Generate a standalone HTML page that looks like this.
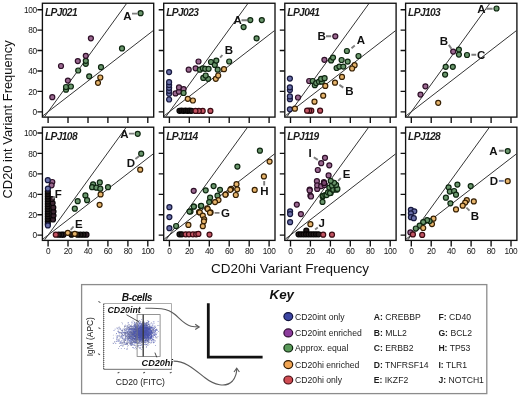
<!DOCTYPE html>
<html><head><meta charset="utf-8"><style>html,body{margin:0;padding:0;background:#fff;width:520px;height:407px;overflow:hidden}</style></head><body>
<svg width="520" height="407" viewBox="0 0 520 407" style="display:block;will-change:transform">
<rect width="520" height="407" fill="#fff"/>
<defs>
<clipPath id="c00"><rect x="43.0" y="3.9" width="110.1" height="112.6"/></clipPath>
<clipPath id="c01"><rect x="164.3" y="3.9" width="110.1" height="112.6"/></clipPath>
<clipPath id="c02"><rect x="285.4" y="3.9" width="110.1" height="112.6"/></clipPath>
<clipPath id="c03"><rect x="406.2" y="3.9" width="110.1" height="112.6"/></clipPath>
<clipPath id="c10"><rect x="43.0" y="127.8" width="110.1" height="112.0"/></clipPath>
<clipPath id="c11"><rect x="164.3" y="127.8" width="110.1" height="112.0"/></clipPath>
<clipPath id="c12"><rect x="285.4" y="127.8" width="110.1" height="112.0"/></clipPath>
<clipPath id="c13"><rect x="406.2" y="127.8" width="110.1" height="112.0"/></clipPath>
</defs>
<g clip-path="url(#c00)" stroke="#2a2a2a" stroke-width="0.95" fill="none"><path d="M28.1 139.4L168.1 -53.8M28.1 127.2L178.1 11.4"/></g>
<path d="M37.4 111.8H42.4M48.1 117.1V123.1M37.4 91.4H42.4M68.0 117.1V123.1M37.4 71.0H42.4M88.0 117.1V123.1M37.4 50.5H42.4M107.9 117.1V123.1M37.4 30.1H42.4M127.9 117.1V123.1M37.4 9.7H42.4M147.8 117.1V123.1" stroke="#111" stroke-width="1.35" fill="none"/>
<rect x="42.4" y="3.25" width="111.3" height="113.85" fill="none" stroke="#111" stroke-width="1.35"/>
<text x="44.9" y="16.4" font-family='"Liberation Sans", sans-serif' font-weight="bold" font-style="italic" font-size="10.2" letter-spacing="-0.6" fill="#1a1a1a">LPJ021</text>
<text x="36.7" y="115.0" text-anchor="end" font-family='"Liberation Sans", sans-serif' font-size="8.3" letter-spacing="-0.35" fill="#151515">0</text>
<text x="36.7" y="94.6" text-anchor="end" font-family='"Liberation Sans", sans-serif' font-size="8.3" letter-spacing="-0.35" fill="#151515">20</text>
<text x="36.7" y="74.2" text-anchor="end" font-family='"Liberation Sans", sans-serif' font-size="8.3" letter-spacing="-0.35" fill="#151515">40</text>
<text x="36.7" y="53.7" text-anchor="end" font-family='"Liberation Sans", sans-serif' font-size="8.3" letter-spacing="-0.35" fill="#151515">60</text>
<text x="36.7" y="33.3" text-anchor="end" font-family='"Liberation Sans", sans-serif' font-size="8.3" letter-spacing="-0.35" fill="#151515">80</text>
<text x="36.7" y="12.9" text-anchor="end" font-family='"Liberation Sans", sans-serif' font-size="8.3" letter-spacing="-0.35" fill="#151515">100</text>
<g clip-path="url(#c01)" stroke="#2a2a2a" stroke-width="0.95" fill="none"><path d="M149.4 139.4L289.4 -53.8M149.4 127.2L299.4 11.4"/></g>
<path d="M158.7 111.8H163.7M169.4 117.1V123.1M158.7 91.4H163.7M189.3 117.1V123.1M158.7 71.0H163.7M209.3 117.1V123.1M158.7 50.5H163.7M229.2 117.1V123.1M158.7 30.1H163.7M249.2 117.1V123.1M158.7 9.7H163.7M269.1 117.1V123.1" stroke="#111" stroke-width="1.35" fill="none"/>
<rect x="163.7" y="3.25" width="111.3" height="113.85" fill="none" stroke="#111" stroke-width="1.35"/>
<text x="166.2" y="16.4" font-family='"Liberation Sans", sans-serif' font-weight="bold" font-style="italic" font-size="10.2" letter-spacing="-0.6" fill="#1a1a1a">LPJ023</text>
<g clip-path="url(#c02)" stroke="#2a2a2a" stroke-width="0.95" fill="none"><path d="M270.5 139.4L410.5 -53.8M270.5 127.2L420.5 11.4"/></g>
<path d="M279.8 111.8H284.8M290.5 117.1V123.1M279.8 91.4H284.8M310.4 117.1V123.1M279.8 71.0H284.8M330.4 117.1V123.1M279.8 50.5H284.8M350.3 117.1V123.1M279.8 30.1H284.8M370.3 117.1V123.1M279.8 9.7H284.8M390.2 117.1V123.1" stroke="#111" stroke-width="1.35" fill="none"/>
<rect x="284.8" y="3.25" width="111.3" height="113.85" fill="none" stroke="#111" stroke-width="1.35"/>
<text x="287.3" y="16.4" font-family='"Liberation Sans", sans-serif' font-weight="bold" font-style="italic" font-size="10.2" letter-spacing="-0.6" fill="#1a1a1a">LPJ041</text>
<g clip-path="url(#c03)" stroke="#2a2a2a" stroke-width="0.95" fill="none"><path d="M391.3 139.4L531.3 -53.8M391.3 127.2L541.3 11.4"/></g>
<path d="M400.6 111.8H405.6M411.3 117.1V123.1M400.6 91.4H405.6M431.2 117.1V123.1M400.6 71.0H405.6M451.2 117.1V123.1M400.6 50.5H405.6M471.1 117.1V123.1M400.6 30.1H405.6M491.1 117.1V123.1M400.6 9.7H405.6M511.0 117.1V123.1" stroke="#111" stroke-width="1.35" fill="none"/>
<rect x="405.6" y="3.25" width="111.3" height="113.85" fill="none" stroke="#111" stroke-width="1.35"/>
<text x="408.1" y="16.4" font-family='"Liberation Sans", sans-serif' font-weight="bold" font-style="italic" font-size="10.2" letter-spacing="-0.6" fill="#1a1a1a">LPJ103</text>
<g clip-path="url(#c10)" stroke="#2a2a2a" stroke-width="0.95" fill="none"><path d="M28.1 262.7L168.1 69.5M28.1 250.5L178.1 134.7"/></g>
<path d="M37.4 235.1H42.4M48.1 240.4V246.4M37.4 214.7H42.4M68.0 240.4V246.4M37.4 194.3H42.4M88.0 240.4V246.4M37.4 173.8H42.4M107.9 240.4V246.4M37.4 153.4H42.4M127.9 240.4V246.4M37.4 133.0H42.4M147.8 240.4V246.4" stroke="#111" stroke-width="1.35" fill="none"/>
<rect x="42.4" y="127.2" width="111.3" height="113.2" fill="none" stroke="#111" stroke-width="1.35"/>
<text x="44.9" y="140.4" font-family='"Liberation Sans", sans-serif' font-weight="bold" font-style="italic" font-size="10.2" letter-spacing="-0.6" fill="#1a1a1a">LPJ108</text>
<text x="36.7" y="238.3" text-anchor="end" font-family='"Liberation Sans", sans-serif' font-size="8.3" letter-spacing="-0.35" fill="#151515">0</text>
<text x="36.7" y="217.9" text-anchor="end" font-family='"Liberation Sans", sans-serif' font-size="8.3" letter-spacing="-0.35" fill="#151515">20</text>
<text x="36.7" y="197.5" text-anchor="end" font-family='"Liberation Sans", sans-serif' font-size="8.3" letter-spacing="-0.35" fill="#151515">40</text>
<text x="36.7" y="177.0" text-anchor="end" font-family='"Liberation Sans", sans-serif' font-size="8.3" letter-spacing="-0.35" fill="#151515">60</text>
<text x="36.7" y="156.6" text-anchor="end" font-family='"Liberation Sans", sans-serif' font-size="8.3" letter-spacing="-0.35" fill="#151515">80</text>
<text x="36.7" y="136.2" text-anchor="end" font-family='"Liberation Sans", sans-serif' font-size="8.3" letter-spacing="-0.35" fill="#151515">100</text>
<text x="48.1" y="254.3" text-anchor="middle" font-family='"Liberation Sans", sans-serif' font-size="8.3" letter-spacing="-0.35" fill="#151515">0</text>
<text x="68.0" y="254.3" text-anchor="middle" font-family='"Liberation Sans", sans-serif' font-size="8.3" letter-spacing="-0.35" fill="#151515">20</text>
<text x="88.0" y="254.3" text-anchor="middle" font-family='"Liberation Sans", sans-serif' font-size="8.3" letter-spacing="-0.35" fill="#151515">40</text>
<text x="107.9" y="254.3" text-anchor="middle" font-family='"Liberation Sans", sans-serif' font-size="8.3" letter-spacing="-0.35" fill="#151515">60</text>
<text x="127.9" y="254.3" text-anchor="middle" font-family='"Liberation Sans", sans-serif' font-size="8.3" letter-spacing="-0.35" fill="#151515">80</text>
<text x="147.8" y="254.3" text-anchor="middle" font-family='"Liberation Sans", sans-serif' font-size="8.3" letter-spacing="-0.35" fill="#151515">100</text>
<g clip-path="url(#c11)" stroke="#2a2a2a" stroke-width="0.95" fill="none"><path d="M149.4 262.7L289.4 69.5M149.4 250.5L299.4 134.7"/></g>
<path d="M158.7 235.1H163.7M169.4 240.4V246.4M158.7 214.7H163.7M189.3 240.4V246.4M158.7 194.3H163.7M209.3 240.4V246.4M158.7 173.8H163.7M229.2 240.4V246.4M158.7 153.4H163.7M249.2 240.4V246.4M158.7 133.0H163.7M269.1 240.4V246.4" stroke="#111" stroke-width="1.35" fill="none"/>
<rect x="163.7" y="127.2" width="111.3" height="113.2" fill="none" stroke="#111" stroke-width="1.35"/>
<text x="166.2" y="140.4" font-family='"Liberation Sans", sans-serif' font-weight="bold" font-style="italic" font-size="10.2" letter-spacing="-0.6" fill="#1a1a1a">LPJ114</text>
<text x="169.4" y="254.3" text-anchor="middle" font-family='"Liberation Sans", sans-serif' font-size="8.3" letter-spacing="-0.35" fill="#151515">0</text>
<text x="189.3" y="254.3" text-anchor="middle" font-family='"Liberation Sans", sans-serif' font-size="8.3" letter-spacing="-0.35" fill="#151515">20</text>
<text x="209.3" y="254.3" text-anchor="middle" font-family='"Liberation Sans", sans-serif' font-size="8.3" letter-spacing="-0.35" fill="#151515">40</text>
<text x="229.2" y="254.3" text-anchor="middle" font-family='"Liberation Sans", sans-serif' font-size="8.3" letter-spacing="-0.35" fill="#151515">60</text>
<text x="249.2" y="254.3" text-anchor="middle" font-family='"Liberation Sans", sans-serif' font-size="8.3" letter-spacing="-0.35" fill="#151515">80</text>
<text x="269.1" y="254.3" text-anchor="middle" font-family='"Liberation Sans", sans-serif' font-size="8.3" letter-spacing="-0.35" fill="#151515">100</text>
<g clip-path="url(#c12)" stroke="#2a2a2a" stroke-width="0.95" fill="none"><path d="M270.5 262.7L410.5 69.5M270.5 250.5L420.5 134.7"/></g>
<path d="M279.8 235.1H284.8M290.5 240.4V246.4M279.8 214.7H284.8M310.4 240.4V246.4M279.8 194.3H284.8M330.4 240.4V246.4M279.8 173.8H284.8M350.3 240.4V246.4M279.8 153.4H284.8M370.3 240.4V246.4M279.8 133.0H284.8M390.2 240.4V246.4" stroke="#111" stroke-width="1.35" fill="none"/>
<rect x="284.8" y="127.2" width="111.3" height="113.2" fill="none" stroke="#111" stroke-width="1.35"/>
<text x="287.3" y="140.4" font-family='"Liberation Sans", sans-serif' font-weight="bold" font-style="italic" font-size="10.2" letter-spacing="-0.6" fill="#1a1a1a">LPJ119</text>
<text x="290.5" y="254.3" text-anchor="middle" font-family='"Liberation Sans", sans-serif' font-size="8.3" letter-spacing="-0.35" fill="#151515">0</text>
<text x="310.4" y="254.3" text-anchor="middle" font-family='"Liberation Sans", sans-serif' font-size="8.3" letter-spacing="-0.35" fill="#151515">20</text>
<text x="330.4" y="254.3" text-anchor="middle" font-family='"Liberation Sans", sans-serif' font-size="8.3" letter-spacing="-0.35" fill="#151515">40</text>
<text x="350.3" y="254.3" text-anchor="middle" font-family='"Liberation Sans", sans-serif' font-size="8.3" letter-spacing="-0.35" fill="#151515">60</text>
<text x="370.3" y="254.3" text-anchor="middle" font-family='"Liberation Sans", sans-serif' font-size="8.3" letter-spacing="-0.35" fill="#151515">80</text>
<text x="390.2" y="254.3" text-anchor="middle" font-family='"Liberation Sans", sans-serif' font-size="8.3" letter-spacing="-0.35" fill="#151515">100</text>
<g clip-path="url(#c13)" stroke="#2a2a2a" stroke-width="0.95" fill="none"><path d="M391.3 262.7L531.3 69.5M391.3 250.5L541.3 134.7"/></g>
<path d="M400.6 235.1H405.6M411.3 240.4V246.4M400.6 214.7H405.6M431.2 240.4V246.4M400.6 194.3H405.6M451.2 240.4V246.4M400.6 173.8H405.6M471.1 240.4V246.4M400.6 153.4H405.6M491.1 240.4V246.4M400.6 133.0H405.6M511.0 240.4V246.4" stroke="#111" stroke-width="1.35" fill="none"/>
<rect x="405.6" y="127.2" width="111.3" height="113.2" fill="none" stroke="#111" stroke-width="1.35"/>
<text x="408.1" y="140.4" font-family='"Liberation Sans", sans-serif' font-weight="bold" font-style="italic" font-size="10.2" letter-spacing="-0.6" fill="#1a1a1a">LPJ128</text>
<text x="411.3" y="254.3" text-anchor="middle" font-family='"Liberation Sans", sans-serif' font-size="8.3" letter-spacing="-0.35" fill="#151515">0</text>
<text x="431.2" y="254.3" text-anchor="middle" font-family='"Liberation Sans", sans-serif' font-size="8.3" letter-spacing="-0.35" fill="#151515">20</text>
<text x="451.2" y="254.3" text-anchor="middle" font-family='"Liberation Sans", sans-serif' font-size="8.3" letter-spacing="-0.35" fill="#151515">40</text>
<text x="471.1" y="254.3" text-anchor="middle" font-family='"Liberation Sans", sans-serif' font-size="8.3" letter-spacing="-0.35" fill="#151515">60</text>
<text x="491.1" y="254.3" text-anchor="middle" font-family='"Liberation Sans", sans-serif' font-size="8.3" letter-spacing="-0.35" fill="#151515">80</text>
<text x="511.0" y="254.3" text-anchor="middle" font-family='"Liberation Sans", sans-serif' font-size="8.3" letter-spacing="-0.35" fill="#151515">100</text>
<circle cx="140.6" cy="13.2" r="2.5" fill="#6a966c" stroke="#0e2610" stroke-width="1.2"/>
<circle cx="90.9" cy="38.3" r="2.5" fill="#9a6890" stroke="#2e1028" stroke-width="1.2"/>
<circle cx="122.0" cy="48.4" r="2.5" fill="#6a966c" stroke="#0e2610" stroke-width="1.2"/>
<circle cx="85.8" cy="63.8" r="2.5" fill="#6a966c" stroke="#0e2610" stroke-width="1.2"/>
<circle cx="85.8" cy="60.8" r="2.5" fill="#6a966c" stroke="#0e2610" stroke-width="1.2"/>
<circle cx="85.8" cy="55.8" r="2.5" fill="#9a6890" stroke="#2e1028" stroke-width="1.2"/>
<circle cx="77.8" cy="61.1" r="2.5" fill="#9a6890" stroke="#2e1028" stroke-width="1.2"/>
<circle cx="61.0" cy="66.0" r="2.5" fill="#9a6890" stroke="#2e1028" stroke-width="1.2"/>
<circle cx="78.2" cy="70.5" r="2.5" fill="#6a966c" stroke="#0e2610" stroke-width="1.2"/>
<circle cx="101.0" cy="67.2" r="2.5" fill="#6a966c" stroke="#0e2610" stroke-width="1.2"/>
<circle cx="89.2" cy="76.3" r="2.5" fill="#6a966c" stroke="#0e2610" stroke-width="1.2"/>
<circle cx="100.3" cy="77.5" r="2.5" fill="#e6b46c" stroke="#362004" stroke-width="1.2"/>
<circle cx="98.0" cy="82.8" r="2.5" fill="#e6b46c" stroke="#362004" stroke-width="1.2"/>
<circle cx="67.9" cy="80.6" r="2.5" fill="#9a6890" stroke="#2e1028" stroke-width="1.2"/>
<circle cx="66.0" cy="89.7" r="2.5" fill="#6a966c" stroke="#0e2610" stroke-width="1.2"/>
<circle cx="66.0" cy="87.0" r="2.5" fill="#6a966c" stroke="#0e2610" stroke-width="1.2"/>
<circle cx="70.9" cy="86.5" r="2.5" fill="#6a966c" stroke="#0e2610" stroke-width="1.2"/>
<circle cx="52.3" cy="97.2" r="2.5" fill="#9a6890" stroke="#2e1028" stroke-width="1.2"/>
<circle cx="250.3" cy="20.1" r="2.5" fill="#6a966c" stroke="#0e2610" stroke-width="1.2"/>
<circle cx="261.8" cy="20.1" r="2.5" fill="#6a966c" stroke="#0e2610" stroke-width="1.2"/>
<circle cx="243.6" cy="27.1" r="2.5" fill="#6a966c" stroke="#0e2610" stroke-width="1.2"/>
<circle cx="256.6" cy="38.3" r="2.5" fill="#6a966c" stroke="#0e2610" stroke-width="1.2"/>
<circle cx="198.5" cy="61.5" r="2.5" fill="#9a6890" stroke="#2e1028" stroke-width="1.2"/>
<circle cx="188.7" cy="69.7" r="2.5" fill="#9a6890" stroke="#2e1028" stroke-width="1.2"/>
<circle cx="195.6" cy="68.3" r="2.5" fill="#9a6890" stroke="#2e1028" stroke-width="1.2"/>
<circle cx="199.9" cy="69.7" r="2.5" fill="#6a966c" stroke="#0e2610" stroke-width="1.2"/>
<circle cx="202.8" cy="68.3" r="2.5" fill="#6a966c" stroke="#0e2610" stroke-width="1.2"/>
<circle cx="205.2" cy="68.8" r="2.5" fill="#6a966c" stroke="#0e2610" stroke-width="1.2"/>
<circle cx="208.6" cy="68.8" r="2.5" fill="#6a966c" stroke="#0e2610" stroke-width="1.2"/>
<circle cx="211.0" cy="62.0" r="2.5" fill="#6a966c" stroke="#0e2610" stroke-width="1.2"/>
<circle cx="214.8" cy="64.9" r="2.5" fill="#6a966c" stroke="#0e2610" stroke-width="1.2"/>
<circle cx="216.3" cy="60.6" r="2.5" fill="#6a966c" stroke="#0e2610" stroke-width="1.2"/>
<circle cx="217.7" cy="69.7" r="2.5" fill="#6a966c" stroke="#0e2610" stroke-width="1.2"/>
<circle cx="229.2" cy="61.5" r="2.5" fill="#6a966c" stroke="#0e2610" stroke-width="1.2"/>
<circle cx="224.0" cy="69.2" r="2.5" fill="#e6b46c" stroke="#362004" stroke-width="1.2"/>
<circle cx="215.8" cy="78.8" r="2.5" fill="#e6b46c" stroke="#362004" stroke-width="1.2"/>
<circle cx="218.2" cy="75.5" r="2.5" fill="#e6b46c" stroke="#362004" stroke-width="1.2"/>
<circle cx="208.1" cy="78.8" r="2.5" fill="#6a966c" stroke="#0e2610" stroke-width="1.2"/>
<circle cx="203.3" cy="77.9" r="2.5" fill="#6a966c" stroke="#0e2610" stroke-width="1.2"/>
<circle cx="205.7" cy="75.5" r="2.5" fill="#6a966c" stroke="#0e2610" stroke-width="1.2"/>
<circle cx="169.1" cy="72.1" r="2.5" fill="#6a70a8" stroke="#16183e" stroke-width="1.2"/>
<circle cx="169.1" cy="99.5" r="2.5" fill="#6a70a8" stroke="#16183e" stroke-width="1.2"/>
<circle cx="169.1" cy="93.8" r="2.5" fill="#6a70a8" stroke="#16183e" stroke-width="1.2"/>
<circle cx="169.1" cy="90.8" r="2.5" fill="#6a70a8" stroke="#16183e" stroke-width="1.2"/>
<circle cx="169.1" cy="87.8" r="2.5" fill="#6a70a8" stroke="#16183e" stroke-width="1.2"/>
<circle cx="169.1" cy="85.0" r="2.5" fill="#6a70a8" stroke="#16183e" stroke-width="1.2"/>
<circle cx="169.1" cy="82.2" r="2.5" fill="#6a70a8" stroke="#16183e" stroke-width="1.2"/>
<circle cx="175.5" cy="93.4" r="2.5" fill="#9a6890" stroke="#2e1028" stroke-width="1.2"/>
<circle cx="178.9" cy="91.7" r="2.5" fill="#9a6890" stroke="#2e1028" stroke-width="1.2"/>
<circle cx="179.0" cy="87.4" r="2.5" fill="#9a6890" stroke="#2e1028" stroke-width="1.2"/>
<circle cx="183.6" cy="89.1" r="2.5" fill="#9a6890" stroke="#2e1028" stroke-width="1.2"/>
<circle cx="183.6" cy="93.0" r="2.5" fill="#6a966c" stroke="#0e2610" stroke-width="1.2"/>
<circle cx="187.8" cy="98.8" r="2.5" fill="#e6b46c" stroke="#362004" stroke-width="1.2"/>
<circle cx="192.9" cy="100.5" r="2.5" fill="#e6b46c" stroke="#362004" stroke-width="1.2"/>
<circle cx="179.5" cy="110.8" r="2.5" fill="#241c1c" stroke="#060404" stroke-width="1.2"/>
<circle cx="181.5" cy="110.6" r="2.5" fill="#241c1c" stroke="#060404" stroke-width="1.2"/>
<circle cx="183.5" cy="110.8" r="2.5" fill="#241c1c" stroke="#060404" stroke-width="1.2"/>
<circle cx="185.5" cy="110.6" r="2.5" fill="#241c1c" stroke="#060404" stroke-width="1.2"/>
<circle cx="187.5" cy="110.8" r="2.5" fill="#241c1c" stroke="#060404" stroke-width="1.2"/>
<circle cx="189.5" cy="110.7" r="2.5" fill="#241c1c" stroke="#060404" stroke-width="1.2"/>
<circle cx="191.5" cy="110.8" r="2.5" fill="#241c1c" stroke="#060404" stroke-width="1.2"/>
<circle cx="210.4" cy="110.9" r="2.5" fill="#c25462" stroke="#3a0a12" stroke-width="1.2"/>
<circle cx="202.7" cy="110.9" r="2.5" fill="#c25462" stroke="#3a0a12" stroke-width="1.2"/>
<circle cx="198.8" cy="110.9" r="2.5" fill="#c25462" stroke="#3a0a12" stroke-width="1.2"/>
<circle cx="195.5" cy="110.9" r="2.5" fill="#c25462" stroke="#3a0a12" stroke-width="1.2"/>
<circle cx="335.3" cy="36.3" r="2.5" fill="#9a6890" stroke="#2e1028" stroke-width="1.2"/>
<circle cx="346.9" cy="51.0" r="2.5" fill="#6a966c" stroke="#0e2610" stroke-width="1.2"/>
<circle cx="358.5" cy="56.0" r="2.5" fill="#6a966c" stroke="#0e2610" stroke-width="1.2"/>
<circle cx="324.4" cy="59.8" r="2.5" fill="#9a6890" stroke="#2e1028" stroke-width="1.2"/>
<circle cx="331.1" cy="60.4" r="2.5" fill="#6a966c" stroke="#0e2610" stroke-width="1.2"/>
<circle cx="333.0" cy="57.6" r="2.5" fill="#6a966c" stroke="#0e2610" stroke-width="1.2"/>
<circle cx="341.6" cy="60.0" r="2.5" fill="#6a966c" stroke="#0e2610" stroke-width="1.2"/>
<circle cx="347.7" cy="61.6" r="2.5" fill="#6a966c" stroke="#0e2610" stroke-width="1.2"/>
<circle cx="336.6" cy="68.0" r="2.5" fill="#6a966c" stroke="#0e2610" stroke-width="1.2"/>
<circle cx="339.4" cy="66.6" r="2.5" fill="#6a966c" stroke="#0e2610" stroke-width="1.2"/>
<circle cx="343.3" cy="66.6" r="2.5" fill="#6a966c" stroke="#0e2610" stroke-width="1.2"/>
<circle cx="354.6" cy="65.2" r="2.5" fill="#e6b46c" stroke="#362004" stroke-width="1.2"/>
<circle cx="352.1" cy="68.5" r="2.5" fill="#e6b46c" stroke="#362004" stroke-width="1.2"/>
<circle cx="342.0" cy="76.9" r="2.5" fill="#e6b46c" stroke="#362004" stroke-width="1.2"/>
<circle cx="335.0" cy="82.7" r="2.5" fill="#e6b46c" stroke="#362004" stroke-width="1.2"/>
<circle cx="289.9" cy="109.3" r="2.5" fill="#6a70a8" stroke="#16183e" stroke-width="1.2"/>
<circle cx="289.9" cy="99.2" r="2.5" fill="#6a70a8" stroke="#16183e" stroke-width="1.2"/>
<circle cx="289.9" cy="96.4" r="2.5" fill="#6a70a8" stroke="#16183e" stroke-width="1.2"/>
<circle cx="289.9" cy="90.1" r="2.5" fill="#6a70a8" stroke="#16183e" stroke-width="1.2"/>
<circle cx="289.9" cy="87.3" r="2.5" fill="#6a70a8" stroke="#16183e" stroke-width="1.2"/>
<circle cx="289.9" cy="78.6" r="2.5" fill="#6a70a8" stroke="#16183e" stroke-width="1.2"/>
<circle cx="298.0" cy="97.5" r="2.5" fill="#9a6890" stroke="#2e1028" stroke-width="1.2"/>
<circle cx="309.2" cy="81.0" r="2.5" fill="#9a6890" stroke="#2e1028" stroke-width="1.2"/>
<circle cx="312.7" cy="81.0" r="2.5" fill="#6a966c" stroke="#0e2610" stroke-width="1.2"/>
<circle cx="314.8" cy="85.2" r="2.5" fill="#6a966c" stroke="#0e2610" stroke-width="1.2"/>
<circle cx="316.2" cy="83.1" r="2.5" fill="#6a966c" stroke="#0e2610" stroke-width="1.2"/>
<circle cx="319.0" cy="81.7" r="2.5" fill="#6a966c" stroke="#0e2610" stroke-width="1.2"/>
<circle cx="321.8" cy="81.7" r="2.5" fill="#6a966c" stroke="#0e2610" stroke-width="1.2"/>
<circle cx="321.1" cy="78.9" r="2.5" fill="#6a966c" stroke="#0e2610" stroke-width="1.2"/>
<circle cx="324.6" cy="78.2" r="2.5" fill="#6a966c" stroke="#0e2610" stroke-width="1.2"/>
<circle cx="325.3" cy="85.9" r="2.5" fill="#e6b46c" stroke="#362004" stroke-width="1.2"/>
<circle cx="323.2" cy="95.7" r="2.5" fill="#e6b46c" stroke="#362004" stroke-width="1.2"/>
<circle cx="314.5" cy="101.7" r="2.5" fill="#e6b46c" stroke="#362004" stroke-width="1.2"/>
<circle cx="294.9" cy="108.7" r="2.5" fill="#e6b46c" stroke="#362004" stroke-width="1.2"/>
<circle cx="320.1" cy="110.7" r="2.5" fill="#c25462" stroke="#3a0a12" stroke-width="1.2"/>
<circle cx="311.3" cy="110.7" r="2.5" fill="#c25462" stroke="#3a0a12" stroke-width="1.2"/>
<circle cx="309.2" cy="110.7" r="2.5" fill="#c25462" stroke="#3a0a12" stroke-width="1.2"/>
<circle cx="307.1" cy="110.7" r="2.5" fill="#c25462" stroke="#3a0a12" stroke-width="1.2"/>
<circle cx="496.5" cy="8.5" r="2.5" fill="#6a966c" stroke="#0e2610" stroke-width="1.2"/>
<circle cx="453.2" cy="51.6" r="2.5" fill="#9a6890" stroke="#2e1028" stroke-width="1.2"/>
<circle cx="458.9" cy="49.6" r="2.5" fill="#6a966c" stroke="#0e2610" stroke-width="1.2"/>
<circle cx="458.9" cy="54.6" r="2.5" fill="#6a966c" stroke="#0e2610" stroke-width="1.2"/>
<circle cx="467.0" cy="55.0" r="2.5" fill="#6a966c" stroke="#0e2610" stroke-width="1.2"/>
<circle cx="445.7" cy="66.8" r="2.5" fill="#6a966c" stroke="#0e2610" stroke-width="1.2"/>
<circle cx="452.8" cy="66.8" r="2.5" fill="#6a966c" stroke="#0e2610" stroke-width="1.2"/>
<circle cx="445.1" cy="74.6" r="2.5" fill="#6a966c" stroke="#0e2610" stroke-width="1.2"/>
<circle cx="425.4" cy="86.3" r="2.5" fill="#9a6890" stroke="#2e1028" stroke-width="1.2"/>
<circle cx="420.5" cy="94.6" r="2.5" fill="#9a6890" stroke="#2e1028" stroke-width="1.2"/>
<circle cx="438.2" cy="102.8" r="2.5" fill="#e6b46c" stroke="#362004" stroke-width="1.2"/>
<circle cx="137.7" cy="133.8" r="2.5" fill="#6a966c" stroke="#0e2610" stroke-width="1.2"/>
<circle cx="141.2" cy="153.7" r="2.5" fill="#6a966c" stroke="#0e2610" stroke-width="1.2"/>
<circle cx="140.2" cy="169.7" r="2.5" fill="#e6b46c" stroke="#362004" stroke-width="1.2"/>
<circle cx="99.8" cy="182.4" r="2.5" fill="#6a966c" stroke="#0e2610" stroke-width="1.2"/>
<circle cx="93.1" cy="184.3" r="2.5" fill="#6a966c" stroke="#0e2610" stroke-width="1.2"/>
<circle cx="92.1" cy="187.2" r="2.5" fill="#6a966c" stroke="#0e2610" stroke-width="1.2"/>
<circle cx="96.4" cy="187.7" r="2.5" fill="#6a966c" stroke="#0e2610" stroke-width="1.2"/>
<circle cx="100.3" cy="188.7" r="2.5" fill="#6a966c" stroke="#0e2610" stroke-width="1.2"/>
<circle cx="108.0" cy="187.2" r="2.5" fill="#6a966c" stroke="#0e2610" stroke-width="1.2"/>
<circle cx="100.6" cy="194.4" r="2.5" fill="#e6b46c" stroke="#362004" stroke-width="1.2"/>
<circle cx="99.6" cy="204.8" r="2.5" fill="#e6b46c" stroke="#362004" stroke-width="1.2"/>
<circle cx="85.4" cy="195.4" r="2.5" fill="#6a966c" stroke="#0e2610" stroke-width="1.2"/>
<circle cx="87.1" cy="200.2" r="2.5" fill="#6a966c" stroke="#0e2610" stroke-width="1.2"/>
<circle cx="77.7" cy="201.2" r="2.5" fill="#6a966c" stroke="#0e2610" stroke-width="1.2"/>
<circle cx="74.8" cy="208.7" r="2.5" fill="#6a966c" stroke="#0e2610" stroke-width="1.2"/>
<circle cx="53.0" cy="219.5" r="2.5" fill="#3c2632" stroke="#0a0408" stroke-width="1.2"/>
<circle cx="53.5" cy="215.5" r="2.5" fill="#3c2632" stroke="#0a0408" stroke-width="1.2"/>
<circle cx="53.5" cy="211.5" r="2.5" fill="#3c2632" stroke="#0a0408" stroke-width="1.2"/>
<circle cx="53.3" cy="207.5" r="2.5" fill="#3c2632" stroke="#0a0408" stroke-width="1.2"/>
<circle cx="52.6" cy="203.0" r="2.5" fill="#3c2632" stroke="#0a0408" stroke-width="1.2"/>
<circle cx="51.8" cy="199.0" r="2.5" fill="#3c2632" stroke="#0a0408" stroke-width="1.2"/>
<circle cx="52.3" cy="182.0" r="2.5" fill="#9a6890" stroke="#2e1028" stroke-width="1.2"/>
<circle cx="51.6" cy="185.3" r="2.5" fill="#9a6890" stroke="#2e1028" stroke-width="1.2"/>
<circle cx="47.8" cy="180.2" r="2.5" fill="#6a70a8" stroke="#16183e" stroke-width="1.2"/>
<circle cx="47.8" cy="224.0" r="2.5" fill="#241c1c" stroke="#060404" stroke-width="1.2"/>
<circle cx="47.8" cy="221.5" r="2.5" fill="#241c1c" stroke="#060404" stroke-width="1.2"/>
<circle cx="47.8" cy="219.0" r="2.5" fill="#241c1c" stroke="#060404" stroke-width="1.2"/>
<circle cx="47.8" cy="216.5" r="2.5" fill="#241c1c" stroke="#060404" stroke-width="1.2"/>
<circle cx="47.8" cy="214.0" r="2.5" fill="#241c1c" stroke="#060404" stroke-width="1.2"/>
<circle cx="47.8" cy="211.5" r="2.5" fill="#241c1c" stroke="#060404" stroke-width="1.2"/>
<circle cx="47.8" cy="209.0" r="2.5" fill="#241c1c" stroke="#060404" stroke-width="1.2"/>
<circle cx="47.8" cy="206.5" r="2.5" fill="#241c1c" stroke="#060404" stroke-width="1.2"/>
<circle cx="47.8" cy="204.0" r="2.5" fill="#241c1c" stroke="#060404" stroke-width="1.2"/>
<circle cx="47.8" cy="201.5" r="2.5" fill="#241c1c" stroke="#060404" stroke-width="1.2"/>
<circle cx="47.8" cy="199.0" r="2.5" fill="#241c1c" stroke="#060404" stroke-width="1.2"/>
<circle cx="47.8" cy="196.5" r="2.5" fill="#241c1c" stroke="#060404" stroke-width="1.2"/>
<circle cx="47.8" cy="194.0" r="2.5" fill="#241c1c" stroke="#060404" stroke-width="1.2"/>
<circle cx="47.8" cy="191.5" r="2.5" fill="#241c1c" stroke="#060404" stroke-width="1.2"/>
<circle cx="47.9" cy="188.6" r="2.5" fill="#6a70a8" stroke="#16183e" stroke-width="1.2"/>
<circle cx="47.9" cy="225.4" r="2.5" fill="#6a70a8" stroke="#16183e" stroke-width="1.2"/>
<circle cx="86.5" cy="234.7" r="2.5" fill="#3c2632" stroke="#0a0408" stroke-width="1.2"/>
<circle cx="83.5" cy="234.7" r="2.5" fill="#241c1c" stroke="#060404" stroke-width="1.2"/>
<circle cx="80.5" cy="234.7" r="2.5" fill="#241c1c" stroke="#060404" stroke-width="1.2"/>
<circle cx="77.5" cy="234.7" r="2.5" fill="#241c1c" stroke="#060404" stroke-width="1.2"/>
<circle cx="71.5" cy="234.7" r="2.5" fill="#241c1c" stroke="#060404" stroke-width="1.2"/>
<circle cx="63.5" cy="234.7" r="2.5" fill="#3c2632" stroke="#0a0408" stroke-width="1.2"/>
<circle cx="61.5" cy="234.7" r="2.5" fill="#241c1c" stroke="#060404" stroke-width="1.2"/>
<circle cx="58.8" cy="234.7" r="2.5" fill="#241c1c" stroke="#060404" stroke-width="1.2"/>
<circle cx="55.8" cy="234.7" r="2.5" fill="#c25462" stroke="#3a0a12" stroke-width="1.2"/>
<circle cx="74.8" cy="233.8" r="2.5" fill="#e6b46c" stroke="#362004" stroke-width="1.2"/>
<circle cx="67.8" cy="232.8" r="2.5" fill="#e6b46c" stroke="#362004" stroke-width="1.2"/>
<circle cx="259.9" cy="150.7" r="2.5" fill="#6a966c" stroke="#0e2610" stroke-width="1.2"/>
<circle cx="237.4" cy="166.6" r="2.5" fill="#6a966c" stroke="#0e2610" stroke-width="1.2"/>
<circle cx="269.6" cy="161.6" r="2.5" fill="#e6b46c" stroke="#362004" stroke-width="1.2"/>
<circle cx="263.9" cy="176.4" r="2.5" fill="#e6b46c" stroke="#362004" stroke-width="1.2"/>
<circle cx="254.7" cy="189.9" r="2.5" fill="#e6b46c" stroke="#362004" stroke-width="1.2"/>
<circle cx="236.5" cy="184.2" r="2.5" fill="#e6b46c" stroke="#362004" stroke-width="1.2"/>
<circle cx="231.1" cy="188.9" r="2.5" fill="#e6b46c" stroke="#362004" stroke-width="1.2"/>
<circle cx="237.2" cy="189.3" r="2.5" fill="#e6b46c" stroke="#362004" stroke-width="1.2"/>
<circle cx="235.8" cy="195.0" r="2.5" fill="#e6b46c" stroke="#362004" stroke-width="1.2"/>
<circle cx="225.7" cy="194.3" r="2.5" fill="#e6b46c" stroke="#362004" stroke-width="1.2"/>
<circle cx="225.4" cy="194.7" r="2.5" fill="#e6b46c" stroke="#362004" stroke-width="1.2"/>
<circle cx="230.3" cy="189.8" r="2.5" fill="#e6b46c" stroke="#362004" stroke-width="1.2"/>
<circle cx="193.7" cy="190.8" r="2.5" fill="#9a6890" stroke="#2e1028" stroke-width="1.2"/>
<circle cx="205.7" cy="190.3" r="2.5" fill="#6a966c" stroke="#0e2610" stroke-width="1.2"/>
<circle cx="213.6" cy="186.1" r="2.5" fill="#6a966c" stroke="#0e2610" stroke-width="1.2"/>
<circle cx="220.0" cy="189.8" r="2.5" fill="#6a966c" stroke="#0e2610" stroke-width="1.2"/>
<circle cx="217.5" cy="195.7" r="2.5" fill="#6a966c" stroke="#0e2610" stroke-width="1.2"/>
<circle cx="210.1" cy="197.7" r="2.5" fill="#6a966c" stroke="#0e2610" stroke-width="1.2"/>
<circle cx="209.2" cy="202.1" r="2.5" fill="#6a966c" stroke="#0e2610" stroke-width="1.2"/>
<circle cx="193.9" cy="206.5" r="2.5" fill="#6a966c" stroke="#0e2610" stroke-width="1.2"/>
<circle cx="200.8" cy="206.0" r="2.5" fill="#6a966c" stroke="#0e2610" stroke-width="1.2"/>
<circle cx="190.5" cy="211.4" r="2.5" fill="#6a966c" stroke="#0e2610" stroke-width="1.2"/>
<circle cx="189.5" cy="211.6" r="2.5" fill="#6a966c" stroke="#0e2610" stroke-width="1.2"/>
<circle cx="193.8" cy="206.6" r="2.5" fill="#6a966c" stroke="#0e2610" stroke-width="1.2"/>
<circle cx="201.2" cy="205.8" r="2.5" fill="#6a966c" stroke="#0e2610" stroke-width="1.2"/>
<circle cx="218.5" cy="200.1" r="2.5" fill="#e6b46c" stroke="#362004" stroke-width="1.2"/>
<circle cx="215.0" cy="202.1" r="2.5" fill="#e6b46c" stroke="#362004" stroke-width="1.2"/>
<circle cx="207.2" cy="208.3" r="2.5" fill="#e6b46c" stroke="#362004" stroke-width="1.2"/>
<circle cx="207.7" cy="209.0" r="2.5" fill="#e6b46c" stroke="#362004" stroke-width="1.2"/>
<circle cx="210.6" cy="212.4" r="2.5" fill="#e6b46c" stroke="#362004" stroke-width="1.2"/>
<circle cx="210.0" cy="212.7" r="2.5" fill="#e6b46c" stroke="#362004" stroke-width="1.2"/>
<circle cx="199.0" cy="212.1" r="2.5" fill="#e6b46c" stroke="#362004" stroke-width="1.2"/>
<circle cx="199.8" cy="212.4" r="2.5" fill="#e6b46c" stroke="#362004" stroke-width="1.2"/>
<circle cx="202.8" cy="215.6" r="2.5" fill="#e6b46c" stroke="#362004" stroke-width="1.2"/>
<circle cx="204.2" cy="219.3" r="2.5" fill="#e6b46c" stroke="#362004" stroke-width="1.2"/>
<circle cx="203.9" cy="221.3" r="2.5" fill="#e6b46c" stroke="#362004" stroke-width="1.2"/>
<circle cx="202.8" cy="226.2" r="2.5" fill="#e6b46c" stroke="#362004" stroke-width="1.2"/>
<circle cx="188.4" cy="224.9" r="2.5" fill="#e6b46c" stroke="#362004" stroke-width="1.2"/>
<circle cx="169.4" cy="207.2" r="2.5" fill="#6a70a8" stroke="#16183e" stroke-width="1.2"/>
<circle cx="169.4" cy="217.1" r="2.5" fill="#6a70a8" stroke="#16183e" stroke-width="1.2"/>
<circle cx="169.4" cy="228.2" r="2.5" fill="#6a70a8" stroke="#16183e" stroke-width="1.2"/>
<circle cx="176.1" cy="226.0" r="2.5" fill="#6a966c" stroke="#0e2610" stroke-width="1.2"/>
<circle cx="179.5" cy="234.3" r="2.5" fill="#241c1c" stroke="#060404" stroke-width="1.2"/>
<circle cx="181.8" cy="234.3" r="2.5" fill="#241c1c" stroke="#060404" stroke-width="1.2"/>
<circle cx="185.7" cy="234.3" r="2.5" fill="#c25462" stroke="#3a0a12" stroke-width="1.2"/>
<circle cx="189.0" cy="234.3" r="2.5" fill="#c25462" stroke="#3a0a12" stroke-width="1.2"/>
<circle cx="192.9" cy="234.3" r="2.5" fill="#c25462" stroke="#3a0a12" stroke-width="1.2"/>
<circle cx="196.2" cy="234.3" r="2.5" fill="#c25462" stroke="#3a0a12" stroke-width="1.2"/>
<circle cx="198.4" cy="233.9" r="2.5" fill="#c25462" stroke="#3a0a12" stroke-width="1.2"/>
<circle cx="209.5" cy="234.6" r="2.5" fill="#c25462" stroke="#3a0a12" stroke-width="1.2"/>
<circle cx="325.0" cy="157.8" r="2.5" fill="#9a6890" stroke="#2e1028" stroke-width="1.2"/>
<circle cx="321.2" cy="163.2" r="2.5" fill="#9a6890" stroke="#2e1028" stroke-width="1.2"/>
<circle cx="329.3" cy="165.3" r="2.5" fill="#9a6890" stroke="#2e1028" stroke-width="1.2"/>
<circle cx="317.8" cy="170.0" r="2.5" fill="#9a6890" stroke="#2e1028" stroke-width="1.2"/>
<circle cx="328.6" cy="175.4" r="2.5" fill="#9a6890" stroke="#2e1028" stroke-width="1.2"/>
<circle cx="316.9" cy="181.2" r="2.5" fill="#9a6890" stroke="#2e1028" stroke-width="1.2"/>
<circle cx="309.7" cy="189.6" r="2.5" fill="#9a6890" stroke="#2e1028" stroke-width="1.2"/>
<circle cx="310.4" cy="195.7" r="2.5" fill="#9a6890" stroke="#2e1028" stroke-width="1.2"/>
<circle cx="309.7" cy="190.4" r="2.5" fill="#9a6890" stroke="#2e1028" stroke-width="1.2"/>
<circle cx="311.0" cy="196.5" r="2.5" fill="#9a6890" stroke="#2e1028" stroke-width="1.2"/>
<circle cx="317.2" cy="188.9" r="2.5" fill="#9a6890" stroke="#2e1028" stroke-width="1.2"/>
<circle cx="317.2" cy="185.3" r="2.5" fill="#9a6890" stroke="#2e1028" stroke-width="1.2"/>
<circle cx="321.2" cy="186.2" r="2.5" fill="#9a6890" stroke="#2e1028" stroke-width="1.2"/>
<circle cx="324.6" cy="184.9" r="2.5" fill="#9a6890" stroke="#2e1028" stroke-width="1.2"/>
<circle cx="323.9" cy="182.2" r="2.5" fill="#9a6890" stroke="#2e1028" stroke-width="1.2"/>
<circle cx="324.2" cy="183.0" r="2.5" fill="#7a4670" stroke="#1e0818" stroke-width="1.2"/>
<circle cx="322.5" cy="201.9" r="2.5" fill="#6a966c" stroke="#0e2610" stroke-width="1.2"/>
<circle cx="322.6" cy="196.4" r="2.5" fill="#6a966c" stroke="#0e2610" stroke-width="1.2"/>
<circle cx="323.2" cy="195.8" r="2.5" fill="#6a966c" stroke="#0e2610" stroke-width="1.2"/>
<circle cx="325.3" cy="195.0" r="2.5" fill="#6a966c" stroke="#0e2610" stroke-width="1.2"/>
<circle cx="326.6" cy="195.1" r="2.5" fill="#6a966c" stroke="#0e2610" stroke-width="1.2"/>
<circle cx="328.0" cy="192.3" r="2.5" fill="#6a966c" stroke="#0e2610" stroke-width="1.2"/>
<circle cx="330.7" cy="193.0" r="2.5" fill="#6a966c" stroke="#0e2610" stroke-width="1.2"/>
<circle cx="330.0" cy="193.1" r="2.5" fill="#6a966c" stroke="#0e2610" stroke-width="1.2"/>
<circle cx="329.3" cy="187.6" r="2.5" fill="#6a966c" stroke="#0e2610" stroke-width="1.2"/>
<circle cx="332.7" cy="189.6" r="2.5" fill="#6a966c" stroke="#0e2610" stroke-width="1.2"/>
<circle cx="333.3" cy="189.7" r="2.5" fill="#6a966c" stroke="#0e2610" stroke-width="1.2"/>
<circle cx="336.7" cy="189.7" r="2.5" fill="#6a966c" stroke="#0e2610" stroke-width="1.2"/>
<circle cx="337.4" cy="188.9" r="2.5" fill="#6a966c" stroke="#0e2610" stroke-width="1.2"/>
<circle cx="332.0" cy="185.5" r="2.5" fill="#6a966c" stroke="#0e2610" stroke-width="1.2"/>
<circle cx="336.1" cy="184.9" r="2.5" fill="#6a966c" stroke="#0e2610" stroke-width="1.2"/>
<circle cx="334.1" cy="182.8" r="2.5" fill="#6a966c" stroke="#0e2610" stroke-width="1.2"/>
<circle cx="330.7" cy="180.8" r="2.5" fill="#6a966c" stroke="#0e2610" stroke-width="1.2"/>
<circle cx="296.8" cy="204.6" r="2.5" fill="#9a6890" stroke="#2e1028" stroke-width="1.2"/>
<circle cx="300.9" cy="214.1" r="2.5" fill="#9a6890" stroke="#2e1028" stroke-width="1.2"/>
<circle cx="290.1" cy="211.4" r="2.5" fill="#6a70a8" stroke="#16183e" stroke-width="1.2"/>
<circle cx="290.1" cy="214.1" r="2.5" fill="#6a70a8" stroke="#16183e" stroke-width="1.2"/>
<circle cx="290.1" cy="222.2" r="2.5" fill="#6a70a8" stroke="#16183e" stroke-width="1.2"/>
<circle cx="310.4" cy="224.2" r="2.5" fill="#e6b46c" stroke="#362004" stroke-width="1.2"/>
<circle cx="306.3" cy="230.6" r="2.5" fill="#241c1c" stroke="#060404" stroke-width="1.2"/>
<circle cx="298.5" cy="234.3" r="2.5" fill="#241c1c" stroke="#060404" stroke-width="1.2"/>
<circle cx="301.0" cy="234.3" r="2.5" fill="#241c1c" stroke="#060404" stroke-width="1.2"/>
<circle cx="303.5" cy="234.3" r="2.5" fill="#241c1c" stroke="#060404" stroke-width="1.2"/>
<circle cx="306.0" cy="234.3" r="2.5" fill="#241c1c" stroke="#060404" stroke-width="1.2"/>
<circle cx="308.5" cy="234.3" r="2.5" fill="#241c1c" stroke="#060404" stroke-width="1.2"/>
<circle cx="311.0" cy="234.3" r="2.5" fill="#241c1c" stroke="#060404" stroke-width="1.2"/>
<circle cx="313.5" cy="234.3" r="2.5" fill="#241c1c" stroke="#060404" stroke-width="1.2"/>
<circle cx="316.0" cy="234.3" r="2.5" fill="#241c1c" stroke="#060404" stroke-width="1.2"/>
<circle cx="318.5" cy="234.3" r="2.5" fill="#241c1c" stroke="#060404" stroke-width="1.2"/>
<circle cx="332.0" cy="234.7" r="2.5" fill="#c25462" stroke="#3a0a12" stroke-width="1.2"/>
<circle cx="323.2" cy="234.7" r="2.5" fill="#c25462" stroke="#3a0a12" stroke-width="1.2"/>
<circle cx="507.7" cy="151.1" r="2.5" fill="#6a966c" stroke="#0e2610" stroke-width="1.2"/>
<circle cx="507.7" cy="181.2" r="2.5" fill="#e6b46c" stroke="#362004" stroke-width="1.2"/>
<circle cx="457.4" cy="184.6" r="2.5" fill="#6a966c" stroke="#0e2610" stroke-width="1.2"/>
<circle cx="448.6" cy="187.3" r="2.5" fill="#6a966c" stroke="#0e2610" stroke-width="1.2"/>
<circle cx="470.7" cy="186.1" r="2.5" fill="#6a966c" stroke="#0e2610" stroke-width="1.2"/>
<circle cx="449.8" cy="191.6" r="2.5" fill="#6a966c" stroke="#0e2610" stroke-width="1.2"/>
<circle cx="454.1" cy="191.0" r="2.5" fill="#6a966c" stroke="#0e2610" stroke-width="1.2"/>
<circle cx="456.0" cy="194.7" r="2.5" fill="#6a966c" stroke="#0e2610" stroke-width="1.2"/>
<circle cx="445.9" cy="197.7" r="2.5" fill="#6a966c" stroke="#0e2610" stroke-width="1.2"/>
<circle cx="450.4" cy="203.3" r="2.5" fill="#6a966c" stroke="#0e2610" stroke-width="1.2"/>
<circle cx="473.8" cy="201.4" r="2.5" fill="#e6b46c" stroke="#362004" stroke-width="1.2"/>
<circle cx="466.8" cy="200.2" r="2.5" fill="#e6b46c" stroke="#362004" stroke-width="1.2"/>
<circle cx="465.2" cy="202.6" r="2.5" fill="#e6b46c" stroke="#362004" stroke-width="1.2"/>
<circle cx="462.7" cy="205.7" r="2.5" fill="#e6b46c" stroke="#362004" stroke-width="1.2"/>
<circle cx="456.0" cy="209.4" r="2.5" fill="#e6b46c" stroke="#362004" stroke-width="1.2"/>
<circle cx="410.9" cy="209.8" r="2.5" fill="#6a70a8" stroke="#16183e" stroke-width="1.2"/>
<circle cx="414.3" cy="211.3" r="2.5" fill="#6a70a8" stroke="#16183e" stroke-width="1.2"/>
<circle cx="410.9" cy="213.3" r="2.5" fill="#6a70a8" stroke="#16183e" stroke-width="1.2"/>
<circle cx="410.9" cy="217.2" r="2.5" fill="#6a70a8" stroke="#16183e" stroke-width="1.2"/>
<circle cx="413.8" cy="218.2" r="2.5" fill="#6a70a8" stroke="#16183e" stroke-width="1.2"/>
<circle cx="433.5" cy="218.7" r="2.5" fill="#e6b46c" stroke="#362004" stroke-width="1.2"/>
<circle cx="432.0" cy="224.1" r="2.5" fill="#e6b46c" stroke="#362004" stroke-width="1.2"/>
<circle cx="429.6" cy="221.1" r="2.5" fill="#6a966c" stroke="#0e2610" stroke-width="1.2"/>
<circle cx="427.1" cy="220.2" r="2.5" fill="#6a966c" stroke="#0e2610" stroke-width="1.2"/>
<circle cx="423.2" cy="222.1" r="2.5" fill="#6a966c" stroke="#0e2610" stroke-width="1.2"/>
<circle cx="419.7" cy="225.6" r="2.5" fill="#6a966c" stroke="#0e2610" stroke-width="1.2"/>
<circle cx="423.2" cy="228.0" r="2.5" fill="#e6b46c" stroke="#362004" stroke-width="1.2"/>
<circle cx="415.8" cy="228.5" r="2.5" fill="#6a966c" stroke="#0e2610" stroke-width="1.2"/>
<circle cx="410.4" cy="232.4" r="2.5" fill="#9a6890" stroke="#2e1028" stroke-width="1.2"/>
<circle cx="412.9" cy="234.4" r="2.5" fill="#c25462" stroke="#3a0a12" stroke-width="1.2"/>
<circle cx="422.2" cy="234.9" r="2.5" fill="#c25462" stroke="#3a0a12" stroke-width="1.2"/>
<text x="127.4" y="19.5" text-anchor="middle" font-family='"Liberation Sans", sans-serif' font-weight="bold" font-size="11.5" fill="#111">A</text>
<text x="237.6" y="24.1" text-anchor="middle" font-family='"Liberation Sans", sans-serif' font-weight="bold" font-size="11.5" fill="#111">A</text>
<text x="228.8" y="54.4" text-anchor="middle" font-family='"Liberation Sans", sans-serif' font-weight="bold" font-size="11.5" fill="#111">B</text>
<text x="321.6" y="40.3" text-anchor="middle" font-family='"Liberation Sans", sans-serif' font-weight="bold" font-size="11.5" fill="#111">B</text>
<text x="360.9" y="43.5" text-anchor="middle" font-family='"Liberation Sans", sans-serif' font-weight="bold" font-size="11.5" fill="#111">A</text>
<text x="349.4" y="95.3" text-anchor="middle" font-family='"Liberation Sans", sans-serif' font-weight="bold" font-size="11.5" fill="#111">B</text>
<text x="481.3" y="12.6" text-anchor="middle" font-family='"Liberation Sans", sans-serif' font-weight="bold" font-size="11.5" fill="#111">A</text>
<text x="444" y="44.6" text-anchor="middle" font-family='"Liberation Sans", sans-serif' font-weight="bold" font-size="11.5" fill="#111">B</text>
<text x="481.2" y="58.6" text-anchor="middle" font-family='"Liberation Sans", sans-serif' font-weight="bold" font-size="11.5" fill="#111">C</text>
<text x="124.3" y="137.6" text-anchor="middle" font-family='"Liberation Sans", sans-serif' font-weight="bold" font-size="11.5" fill="#111">A</text>
<text x="130.8" y="166.9" text-anchor="middle" font-family='"Liberation Sans", sans-serif' font-weight="bold" font-size="11.5" fill="#111">D</text>
<text x="58.2" y="197.7" text-anchor="middle" font-family='"Liberation Sans", sans-serif' font-weight="bold" font-size="11.5" fill="#111">F</text>
<text x="78.9" y="228.0" text-anchor="middle" font-family='"Liberation Sans", sans-serif' font-weight="bold" font-size="11.5" fill="#111">E</text>
<text x="264.5" y="195.4" text-anchor="middle" font-family='"Liberation Sans", sans-serif' font-weight="bold" font-size="11.5" fill="#111">H</text>
<text x="225.5" y="216.8" text-anchor="middle" font-family='"Liberation Sans", sans-serif' font-weight="bold" font-size="11.5" fill="#111">G</text>
<text x="310" y="156.5" text-anchor="middle" font-family='"Liberation Sans", sans-serif' font-weight="bold" font-size="11.5" fill="#111">I</text>
<text x="346.5" y="177.5" text-anchor="middle" font-family='"Liberation Sans", sans-serif' font-weight="bold" font-size="11.5" fill="#111">E</text>
<text x="321.7" y="227.3" text-anchor="middle" font-family='"Liberation Sans", sans-serif' font-weight="bold" font-size="11.5" fill="#111">J</text>
<text x="493.5" y="154.9" text-anchor="middle" font-family='"Liberation Sans", sans-serif' font-weight="bold" font-size="11.5" fill="#111">A</text>
<text x="493.8" y="185.4" text-anchor="middle" font-family='"Liberation Sans", sans-serif' font-weight="bold" font-size="11.5" fill="#111">D</text>
<text x="475" y="219.7" text-anchor="middle" font-family='"Liberation Sans", sans-serif' font-weight="bold" font-size="11.5" fill="#111">B</text>
<path d="M132 13.6L137.3 13.6M241.5 20.3L247.1 20.3M220.1 57.7L222.4 55M326 36.2L331.2 36.2M351.5 48.2L354.8 45.5M339.4 84.9L343.3 87.6M486.2 8.7L492.6 8.7M448.8 44.9L451.5 48.9M471.4 54.7L476.2 54.7M128.9 133.6L134 133.6M135.4 158.9L139.3 155.9M52.5 198.8L55.3 196.8M70.7 229.9L73.6 226.5M264.2 181L264.2 185.6M214.6 212.9L219.5 212.9M313.8 157.2L317.8 159.9M338.1 180.8L340.8 178.1M315.1 229.6L317.8 227.6M498.9 150.8L503.8 150.8M466.4 207.6L469.5 210.6" stroke="#7e7e7e" stroke-width="1.9" fill="none"/>
<path d="M498.9 180.9L503.8 180.9" stroke="#7282ac" stroke-width="1.9" fill="none"/>
<text transform="translate(12,119.4) rotate(-90)" text-anchor="middle" font-family='"Liberation Sans", sans-serif' font-size="12.9" fill="#111">CD20 int Variant Frequency</text>
<text x="290" y="272.8" text-anchor="middle" font-family='"Liberation Sans", sans-serif' font-size="13.5" fill="#111">CD20hi Variant Frequency</text>
<rect x="81.6" y="284.6" width="405.2" height="109" fill="none" stroke="#8c8c8c" stroke-width="1.3"/>
<path d="M146.7 335.4h.8v.8h-.8zM146.7 334.7h.8v.8h-.8zM136.2 334.5h.8v.8h-.8zM123.7 339.8h.8v.8h-.8zM151.8 334.9h.8v.8h-.8zM141.5 335.2h.8v.8h-.8zM141.2 330.0h.8v.8h-.8zM133.6 330.0h.8v.8h-.8zM141.6 333.8h.8v.8h-.8zM135.3 328.6h.8v.8h-.8zM130.5 331.3h.8v.8h-.8zM142.3 324.9h.8v.8h-.8zM143.9 337.9h.8v.8h-.8zM131.6 326.3h.8v.8h-.8zM129.1 330.6h.8v.8h-.8zM147.9 321.3h.8v.8h-.8zM146.7 333.3h.8v.8h-.8zM142.9 335.9h.8v.8h-.8zM141.3 331.5h.8v.8h-.8zM142.9 329.6h.8v.8h-.8zM141.9 335.7h.8v.8h-.8zM140.3 339.4h.8v.8h-.8zM139.4 333.8h.8v.8h-.8zM135.3 327.7h.8v.8h-.8zM132.0 337.6h.8v.8h-.8zM137.2 332.1h.8v.8h-.8zM140.5 336.3h.8v.8h-.8zM139.6 333.3h.8v.8h-.8zM144.5 335.8h.8v.8h-.8zM145.8 327.3h.8v.8h-.8zM139.4 338.3h.8v.8h-.8zM128.8 335.9h.8v.8h-.8zM144.3 335.7h.8v.8h-.8zM141.3 330.3h.8v.8h-.8zM147.1 330.4h.8v.8h-.8zM137.4 333.2h.8v.8h-.8zM138.9 338.5h.8v.8h-.8zM143.9 324.7h.8v.8h-.8zM130.6 333.8h.8v.8h-.8zM144.7 333.4h.8v.8h-.8zM131.1 321.7h.8v.8h-.8zM135.1 336.7h.8v.8h-.8zM140.9 336.6h.8v.8h-.8zM149.6 326.0h.8v.8h-.8zM129.7 326.5h.8v.8h-.8zM139.5 327.1h.8v.8h-.8zM145.9 331.6h.8v.8h-.8zM149.4 329.3h.8v.8h-.8zM148.9 331.2h.8v.8h-.8zM134.7 333.0h.8v.8h-.8zM148.8 330.8h.8v.8h-.8zM141.6 329.8h.8v.8h-.8zM137.6 337.4h.8v.8h-.8zM138.9 339.0h.8v.8h-.8zM144.6 330.0h.8v.8h-.8zM121.7 329.6h.8v.8h-.8zM146.2 329.3h.8v.8h-.8zM137.7 333.4h.8v.8h-.8zM131.6 332.6h.8v.8h-.8zM123.9 331.9h.8v.8h-.8zM132.8 332.6h.8v.8h-.8zM140.6 326.8h.8v.8h-.8zM140.4 321.3h.8v.8h-.8zM130.9 330.2h.8v.8h-.8zM135.8 328.2h.8v.8h-.8zM150.6 322.9h.8v.8h-.8zM141.7 335.1h.8v.8h-.8zM143.8 334.5h.8v.8h-.8zM142.5 346.0h.8v.8h-.8zM141.4 330.3h.8v.8h-.8zM130.9 333.9h.8v.8h-.8zM133.2 341.9h.8v.8h-.8zM129.8 332.5h.8v.8h-.8zM133.0 340.7h.8v.8h-.8zM142.5 332.5h.8v.8h-.8zM150.4 334.3h.8v.8h-.8zM141.6 329.3h.8v.8h-.8zM128.2 327.4h.8v.8h-.8zM131.2 335.7h.8v.8h-.8zM144.1 330.9h.8v.8h-.8zM132.6 333.5h.8v.8h-.8zM140.6 334.6h.8v.8h-.8zM136.7 339.8h.8v.8h-.8zM138.5 334.3h.8v.8h-.8zM150.0 332.9h.8v.8h-.8zM148.9 338.3h.8v.8h-.8zM121.5 335.8h.8v.8h-.8zM133.1 329.9h.8v.8h-.8zM142.7 333.9h.8v.8h-.8zM139.1 329.2h.8v.8h-.8zM135.8 329.9h.8v.8h-.8zM136.7 339.4h.8v.8h-.8zM147.6 331.2h.8v.8h-.8zM145.0 331.6h.8v.8h-.8zM145.9 332.6h.8v.8h-.8zM133.1 334.0h.8v.8h-.8zM144.6 332.8h.8v.8h-.8zM137.3 334.5h.8v.8h-.8zM137.2 337.3h.8v.8h-.8zM135.4 322.9h.8v.8h-.8zM126.9 348.7h.8v.8h-.8zM137.3 325.9h.8v.8h-.8zM146.5 322.7h.8v.8h-.8zM137.7 323.7h.8v.8h-.8zM143.6 323.3h.8v.8h-.8zM139.7 334.6h.8v.8h-.8zM127.0 332.1h.8v.8h-.8zM134.9 328.2h.8v.8h-.8zM142.7 324.3h.8v.8h-.8zM125.9 333.2h.8v.8h-.8zM138.9 329.3h.8v.8h-.8zM138.0 342.2h.8v.8h-.8zM130.2 334.6h.8v.8h-.8zM132.9 325.7h.8v.8h-.8zM137.1 331.9h.8v.8h-.8zM139.1 342.2h.8v.8h-.8zM138.1 333.1h.8v.8h-.8zM136.0 329.7h.8v.8h-.8zM129.1 335.9h.8v.8h-.8zM140.6 332.8h.8v.8h-.8zM132.4 335.5h.8v.8h-.8zM143.7 331.5h.8v.8h-.8zM147.6 339.7h.8v.8h-.8zM147.2 326.9h.8v.8h-.8zM145.5 328.8h.8v.8h-.8zM147.1 332.5h.8v.8h-.8zM137.8 336.3h.8v.8h-.8zM132.2 343.6h.8v.8h-.8zM139.6 323.0h.8v.8h-.8zM137.2 338.6h.8v.8h-.8zM148.2 332.2h.8v.8h-.8zM132.6 336.0h.8v.8h-.8zM149.4 338.2h.8v.8h-.8zM144.0 331.1h.8v.8h-.8zM133.4 333.8h.8v.8h-.8zM125.1 332.4h.8v.8h-.8zM134.7 330.4h.8v.8h-.8zM142.5 331.7h.8v.8h-.8zM135.7 340.3h.8v.8h-.8zM141.4 335.9h.8v.8h-.8zM145.8 329.0h.8v.8h-.8zM157.7 321.0h.8v.8h-.8zM142.2 335.7h.8v.8h-.8zM137.2 335.5h.8v.8h-.8zM139.5 327.7h.8v.8h-.8zM130.4 333.6h.8v.8h-.8zM144.9 337.2h.8v.8h-.8zM142.5 330.1h.8v.8h-.8zM139.6 338.7h.8v.8h-.8zM145.3 328.9h.8v.8h-.8zM139.5 335.9h.8v.8h-.8zM127.9 336.5h.8v.8h-.8zM134.6 330.3h.8v.8h-.8zM141.4 334.4h.8v.8h-.8zM131.3 331.6h.8v.8h-.8zM138.4 333.0h.8v.8h-.8zM116.2 339.4h.8v.8h-.8zM145.0 328.5h.8v.8h-.8zM138.8 334.4h.8v.8h-.8zM135.0 328.8h.8v.8h-.8zM128.8 323.9h.8v.8h-.8zM145.3 333.7h.8v.8h-.8zM138.7 327.0h.8v.8h-.8zM133.0 346.9h.8v.8h-.8zM141.3 336.6h.8v.8h-.8zM127.7 323.4h.8v.8h-.8zM140.8 334.5h.8v.8h-.8zM144.8 330.7h.8v.8h-.8zM149.4 328.6h.8v.8h-.8zM134.8 329.3h.8v.8h-.8zM136.7 336.5h.8v.8h-.8zM151.5 341.6h.8v.8h-.8zM136.7 334.3h.8v.8h-.8zM124.6 343.8h.8v.8h-.8zM126.2 343.6h.8v.8h-.8zM141.2 333.5h.8v.8h-.8zM144.3 329.8h.8v.8h-.8zM148.2 330.3h.8v.8h-.8zM137.8 328.9h.8v.8h-.8zM124.3 325.5h.8v.8h-.8zM145.7 331.0h.8v.8h-.8zM144.4 324.4h.8v.8h-.8zM135.6 338.0h.8v.8h-.8zM140.0 331.1h.8v.8h-.8zM139.6 329.2h.8v.8h-.8zM147.6 333.8h.8v.8h-.8zM139.1 335.6h.8v.8h-.8zM124.6 335.2h.8v.8h-.8zM140.2 338.8h.8v.8h-.8zM136.2 340.4h.8v.8h-.8zM139.0 329.8h.8v.8h-.8zM132.1 331.9h.8v.8h-.8zM147.2 332.1h.8v.8h-.8zM147.3 322.3h.8v.8h-.8zM138.2 336.1h.8v.8h-.8zM126.3 342.7h.8v.8h-.8zM146.4 337.0h.8v.8h-.8zM140.8 338.2h.8v.8h-.8zM140.9 337.1h.8v.8h-.8zM135.8 330.8h.8v.8h-.8zM132.8 341.3h.8v.8h-.8zM136.2 333.1h.8v.8h-.8zM130.0 338.6h.8v.8h-.8zM133.0 336.5h.8v.8h-.8zM144.9 331.3h.8v.8h-.8zM145.7 332.4h.8v.8h-.8zM138.6 329.8h.8v.8h-.8zM123.1 341.5h.8v.8h-.8zM140.1 334.0h.8v.8h-.8zM126.3 325.7h.8v.8h-.8zM132.9 330.5h.8v.8h-.8zM142.7 336.4h.8v.8h-.8zM142.3 331.8h.8v.8h-.8zM146.9 331.5h.8v.8h-.8zM126.6 327.9h.8v.8h-.8zM140.5 329.4h.8v.8h-.8zM146.5 324.1h.8v.8h-.8zM140.8 338.5h.8v.8h-.8zM135.9 335.6h.8v.8h-.8zM136.3 322.3h.8v.8h-.8zM124.7 331.6h.8v.8h-.8zM141.2 330.8h.8v.8h-.8zM126.8 332.5h.8v.8h-.8zM128.5 338.1h.8v.8h-.8zM133.9 329.0h.8v.8h-.8zM148.4 333.3h.8v.8h-.8zM133.7 334.9h.8v.8h-.8zM142.2 334.7h.8v.8h-.8zM145.4 335.8h.8v.8h-.8zM148.4 334.2h.8v.8h-.8zM137.8 324.2h.8v.8h-.8zM146.8 334.6h.8v.8h-.8zM145.9 346.9h.8v.8h-.8zM153.4 328.4h.8v.8h-.8zM143.1 320.8h.8v.8h-.8zM130.0 341.7h.8v.8h-.8zM140.8 337.2h.8v.8h-.8zM138.4 334.8h.8v.8h-.8zM145.5 337.0h.8v.8h-.8zM127.2 343.2h.8v.8h-.8zM122.3 330.0h.8v.8h-.8zM148.7 331.9h.8v.8h-.8zM151.0 334.9h.8v.8h-.8zM122.0 323.5h.8v.8h-.8zM135.3 329.8h.8v.8h-.8zM143.1 333.5h.8v.8h-.8zM140.0 333.3h.8v.8h-.8zM144.3 335.9h.8v.8h-.8zM128.5 331.0h.8v.8h-.8zM131.8 329.9h.8v.8h-.8zM144.0 331.2h.8v.8h-.8zM140.8 327.8h.8v.8h-.8zM148.8 332.7h.8v.8h-.8zM131.4 340.6h.8v.8h-.8zM149.3 328.8h.8v.8h-.8zM141.1 332.2h.8v.8h-.8zM133.7 336.2h.8v.8h-.8zM139.7 332.4h.8v.8h-.8zM142.9 331.8h.8v.8h-.8zM130.7 330.3h.8v.8h-.8zM141.1 330.0h.8v.8h-.8zM141.6 324.7h.8v.8h-.8zM145.5 325.2h.8v.8h-.8zM139.0 327.4h.8v.8h-.8zM143.2 335.3h.8v.8h-.8zM145.3 325.6h.8v.8h-.8zM132.1 333.6h.8v.8h-.8zM144.5 333.1h.8v.8h-.8zM130.4 344.2h.8v.8h-.8zM140.5 344.9h.8v.8h-.8zM132.1 332.2h.8v.8h-.8zM140.4 334.2h.8v.8h-.8zM144.9 330.5h.8v.8h-.8zM147.5 335.2h.8v.8h-.8zM142.4 332.1h.8v.8h-.8zM134.2 330.7h.8v.8h-.8zM148.4 337.5h.8v.8h-.8zM135.3 338.9h.8v.8h-.8zM121.0 335.3h.8v.8h-.8zM146.1 333.6h.8v.8h-.8zM149.6 337.5h.8v.8h-.8zM140.1 333.2h.8v.8h-.8zM122.6 335.8h.8v.8h-.8zM138.0 346.4h.8v.8h-.8zM141.7 341.2h.8v.8h-.8zM146.6 337.3h.8v.8h-.8zM133.3 330.4h.8v.8h-.8zM123.7 342.2h.8v.8h-.8zM140.6 332.4h.8v.8h-.8zM137.8 345.1h.8v.8h-.8zM125.2 342.7h.8v.8h-.8zM139.7 325.5h.8v.8h-.8zM131.3 326.7h.8v.8h-.8zM124.3 338.6h.8v.8h-.8zM139.8 336.8h.8v.8h-.8zM134.2 324.0h.8v.8h-.8zM142.2 336.4h.8v.8h-.8zM133.9 333.5h.8v.8h-.8zM152.9 340.0h.8v.8h-.8zM138.4 327.7h.8v.8h-.8zM136.6 331.7h.8v.8h-.8zM137.6 334.4h.8v.8h-.8zM142.0 325.0h.8v.8h-.8zM132.4 329.7h.8v.8h-.8zM145.3 329.5h.8v.8h-.8zM139.4 327.7h.8v.8h-.8zM132.9 329.5h.8v.8h-.8zM136.5 331.9h.8v.8h-.8zM141.6 324.7h.8v.8h-.8zM139.5 339.0h.8v.8h-.8zM140.6 327.9h.8v.8h-.8zM141.3 332.8h.8v.8h-.8zM135.1 333.5h.8v.8h-.8zM124.9 332.9h.8v.8h-.8zM128.1 326.9h.8v.8h-.8zM120.0 342.7h.8v.8h-.8zM153.0 342.5h.8v.8h-.8zM144.4 334.2h.8v.8h-.8zM146.2 333.0h.8v.8h-.8zM136.7 328.9h.8v.8h-.8zM134.4 336.3h.8v.8h-.8zM141.5 323.4h.8v.8h-.8zM127.5 336.1h.8v.8h-.8zM145.4 331.5h.8v.8h-.8zM144.5 323.7h.8v.8h-.8zM136.2 340.2h.8v.8h-.8zM138.5 338.6h.8v.8h-.8zM134.1 335.5h.8v.8h-.8zM138.1 329.1h.8v.8h-.8zM136.0 339.6h.8v.8h-.8zM130.4 328.4h.8v.8h-.8zM151.0 327.3h.8v.8h-.8zM147.3 340.2h.8v.8h-.8zM135.5 330.4h.8v.8h-.8zM142.7 340.8h.8v.8h-.8zM132.5 332.7h.8v.8h-.8zM144.4 337.6h.8v.8h-.8zM134.3 334.5h.8v.8h-.8zM151.9 332.2h.8v.8h-.8zM147.7 335.8h.8v.8h-.8zM149.6 333.9h.8v.8h-.8zM129.5 343.6h.8v.8h-.8zM141.2 338.7h.8v.8h-.8zM122.7 331.9h.8v.8h-.8zM142.6 328.1h.8v.8h-.8zM130.0 326.5h.8v.8h-.8zM136.2 337.8h.8v.8h-.8zM128.5 327.5h.8v.8h-.8zM136.1 322.6h.8v.8h-.8zM144.7 334.1h.8v.8h-.8zM144.9 344.0h.8v.8h-.8zM129.5 329.7h.8v.8h-.8zM141.8 340.8h.8v.8h-.8zM139.7 330.8h.8v.8h-.8zM141.4 326.3h.8v.8h-.8zM136.3 339.0h.8v.8h-.8zM147.4 334.7h.8v.8h-.8zM148.2 338.9h.8v.8h-.8zM145.7 329.7h.8v.8h-.8zM146.8 331.7h.8v.8h-.8zM147.0 337.0h.8v.8h-.8zM140.2 334.0h.8v.8h-.8zM150.7 337.7h.8v.8h-.8zM149.8 333.0h.8v.8h-.8zM138.9 329.9h.8v.8h-.8zM139.0 331.1h.8v.8h-.8zM140.6 331.2h.8v.8h-.8zM136.2 333.9h.8v.8h-.8zM146.6 340.1h.8v.8h-.8zM131.3 328.3h.8v.8h-.8zM141.3 326.3h.8v.8h-.8zM142.2 328.7h.8v.8h-.8zM151.6 330.4h.8v.8h-.8zM129.2 340.3h.8v.8h-.8zM148.9 326.2h.8v.8h-.8zM144.6 332.7h.8v.8h-.8zM145.2 327.4h.8v.8h-.8zM144.6 330.1h.8v.8h-.8zM123.5 332.0h.8v.8h-.8zM139.5 320.8h.8v.8h-.8zM128.3 329.6h.8v.8h-.8zM141.4 327.3h.8v.8h-.8zM143.4 324.1h.8v.8h-.8zM128.8 333.7h.8v.8h-.8zM141.1 336.4h.8v.8h-.8zM136.8 328.7h.8v.8h-.8zM130.1 338.2h.8v.8h-.8zM136.3 335.5h.8v.8h-.8zM140.4 330.1h.8v.8h-.8zM133.0 339.5h.8v.8h-.8zM144.5 328.1h.8v.8h-.8zM138.3 342.8h.8v.8h-.8zM144.3 331.8h.8v.8h-.8zM140.7 336.4h.8v.8h-.8zM147.6 335.2h.8v.8h-.8zM151.5 341.2h.8v.8h-.8zM134.9 329.1h.8v.8h-.8zM139.8 334.8h.8v.8h-.8zM148.6 329.2h.8v.8h-.8zM126.1 330.0h.8v.8h-.8zM136.2 337.4h.8v.8h-.8zM133.8 334.4h.8v.8h-.8zM145.6 338.9h.8v.8h-.8zM138.2 330.0h.8v.8h-.8zM148.6 323.8h.8v.8h-.8zM144.5 326.3h.8v.8h-.8zM130.0 342.9h.8v.8h-.8zM135.8 331.6h.8v.8h-.8zM149.1 335.1h.8v.8h-.8zM147.6 340.9h.8v.8h-.8zM134.8 335.5h.8v.8h-.8zM142.6 328.8h.8v.8h-.8zM153.1 341.5h.8v.8h-.8zM147.1 327.5h.8v.8h-.8zM131.8 334.9h.8v.8h-.8zM154.3 331.4h.8v.8h-.8zM134.5 345.0h.8v.8h-.8zM151.2 332.9h.8v.8h-.8zM133.5 333.4h.8v.8h-.8zM143.4 330.8h.8v.8h-.8zM138.0 330.0h.8v.8h-.8zM147.1 336.3h.8v.8h-.8zM138.5 337.0h.8v.8h-.8zM134.9 324.3h.8v.8h-.8zM126.8 339.5h.8v.8h-.8zM144.5 328.0h.8v.8h-.8zM135.7 336.1h.8v.8h-.8zM138.7 333.1h.8v.8h-.8zM128.7 336.8h.8v.8h-.8zM133.0 341.8h.8v.8h-.8zM146.8 330.6h.8v.8h-.8zM127.9 333.4h.8v.8h-.8zM144.0 332.0h.8v.8h-.8zM139.9 334.2h.8v.8h-.8zM142.7 333.7h.8v.8h-.8zM131.8 334.2h.8v.8h-.8zM135.2 335.5h.8v.8h-.8zM141.9 330.7h.8v.8h-.8zM145.5 330.5h.8v.8h-.8zM143.7 327.2h.8v.8h-.8zM150.0 328.7h.8v.8h-.8zM139.9 338.1h.8v.8h-.8zM144.5 323.1h.8v.8h-.8zM139.5 339.0h.8v.8h-.8zM131.8 339.2h.8v.8h-.8zM129.2 337.1h.8v.8h-.8zM149.6 324.6h.8v.8h-.8zM134.3 331.1h.8v.8h-.8zM118.2 341.2h.8v.8h-.8zM134.8 341.2h.8v.8h-.8zM119.8 328.1h.8v.8h-.8zM138.3 339.5h.8v.8h-.8zM141.5 335.3h.8v.8h-.8zM136.9 338.9h.8v.8h-.8zM139.6 335.6h.8v.8h-.8zM144.3 326.5h.8v.8h-.8zM127.9 336.3h.8v.8h-.8zM131.5 335.2h.8v.8h-.8zM140.9 339.5h.8v.8h-.8zM138.2 333.0h.8v.8h-.8zM142.6 329.9h.8v.8h-.8zM134.9 342.8h.8v.8h-.8zM151.5 336.3h.8v.8h-.8zM145.5 334.6h.8v.8h-.8zM139.1 330.8h.8v.8h-.8zM149.8 329.8h.8v.8h-.8zM134.1 322.4h.8v.8h-.8zM145.7 327.3h.8v.8h-.8zM137.0 338.8h.8v.8h-.8zM144.0 327.6h.8v.8h-.8zM141.7 337.2h.8v.8h-.8zM128.3 331.4h.8v.8h-.8zM148.1 320.7h.8v.8h-.8zM120.8 340.8h.8v.8h-.8zM147.5 334.4h.8v.8h-.8zM149.3 327.7h.8v.8h-.8zM147.3 332.3h.8v.8h-.8zM135.8 328.8h.8v.8h-.8zM134.3 328.0h.8v.8h-.8zM132.7 338.0h.8v.8h-.8zM129.3 335.0h.8v.8h-.8zM145.5 332.5h.8v.8h-.8zM141.1 330.1h.8v.8h-.8zM151.5 330.5h.8v.8h-.8zM144.7 329.0h.8v.8h-.8zM136.7 339.9h.8v.8h-.8zM141.1 336.3h.8v.8h-.8zM137.7 332.3h.8v.8h-.8zM127.4 330.6h.8v.8h-.8zM127.4 334.8h.8v.8h-.8zM130.8 331.8h.8v.8h-.8zM145.6 340.2h.8v.8h-.8zM142.7 334.9h.8v.8h-.8zM132.8 341.8h.8v.8h-.8zM142.0 336.7h.8v.8h-.8zM146.6 328.4h.8v.8h-.8zM130.6 336.0h.8v.8h-.8zM127.2 337.6h.8v.8h-.8zM116.3 336.5h.8v.8h-.8zM127.9 340.2h.8v.8h-.8zM132.5 344.4h.8v.8h-.8zM140.8 329.3h.8v.8h-.8zM136.4 340.4h.8v.8h-.8zM130.3 333.3h.8v.8h-.8zM135.3 337.1h.8v.8h-.8zM138.0 337.4h.8v.8h-.8zM135.0 329.6h.8v.8h-.8zM138.4 331.1h.8v.8h-.8zM141.2 330.7h.8v.8h-.8zM145.6 324.2h.8v.8h-.8zM130.3 341.3h.8v.8h-.8zM132.7 334.0h.8v.8h-.8zM146.4 338.7h.8v.8h-.8zM146.5 328.2h.8v.8h-.8zM139.7 340.7h.8v.8h-.8zM141.8 331.0h.8v.8h-.8zM129.1 339.8h.8v.8h-.8zM136.0 338.7h.8v.8h-.8zM145.1 342.1h.8v.8h-.8zM137.1 331.4h.8v.8h-.8zM132.3 339.0h.8v.8h-.8zM144.6 334.6h.8v.8h-.8zM146.7 338.5h.8v.8h-.8zM149.1 324.9h.8v.8h-.8zM134.9 329.5h.8v.8h-.8zM131.5 327.2h.8v.8h-.8zM143.0 328.8h.8v.8h-.8zM138.0 325.0h.8v.8h-.8zM143.2 333.6h.8v.8h-.8zM136.5 338.7h.8v.8h-.8zM134.4 341.1h.8v.8h-.8zM140.4 328.8h.8v.8h-.8zM144.9 326.8h.8v.8h-.8zM148.1 336.6h.8v.8h-.8zM139.2 323.2h.8v.8h-.8zM152.8 338.7h.8v.8h-.8zM143.9 326.1h.8v.8h-.8zM149.0 335.0h.8v.8h-.8zM117.8 335.0h.8v.8h-.8zM141.2 329.1h.8v.8h-.8zM148.6 330.7h.8v.8h-.8zM139.5 335.2h.8v.8h-.8zM134.1 335.9h.8v.8h-.8zM139.9 337.3h.8v.8h-.8zM118.5 340.1h.8v.8h-.8zM133.5 344.7h.8v.8h-.8zM124.2 332.4h.8v.8h-.8zM133.1 327.8h.8v.8h-.8zM140.7 323.0h.8v.8h-.8zM137.3 338.5h.8v.8h-.8zM144.4 334.3h.8v.8h-.8zM136.4 328.1h.8v.8h-.8zM134.7 339.3h.8v.8h-.8zM140.7 335.0h.8v.8h-.8zM150.3 331.6h.8v.8h-.8zM135.3 332.8h.8v.8h-.8zM133.9 335.4h.8v.8h-.8zM154.1 332.2h.8v.8h-.8zM139.4 337.4h.8v.8h-.8zM137.8 336.8h.8v.8h-.8zM147.9 322.1h.8v.8h-.8zM135.6 338.4h.8v.8h-.8zM127.3 342.2h.8v.8h-.8zM147.6 334.1h.8v.8h-.8zM146.6 330.3h.8v.8h-.8zM142.5 336.7h.8v.8h-.8zM148.2 336.2h.8v.8h-.8zM115.9 341.1h.8v.8h-.8zM146.3 333.9h.8v.8h-.8zM146.5 325.0h.8v.8h-.8zM136.6 341.4h.8v.8h-.8zM131.9 336.5h.8v.8h-.8zM142.3 336.9h.8v.8h-.8zM131.4 332.3h.8v.8h-.8zM144.4 335.1h.8v.8h-.8zM155.9 329.1h.8v.8h-.8zM133.3 331.2h.8v.8h-.8zM146.6 330.6h.8v.8h-.8zM130.8 339.5h.8v.8h-.8zM127.5 333.4h.8v.8h-.8zM139.4 335.7h.8v.8h-.8zM139.4 339.6h.8v.8h-.8zM140.7 340.1h.8v.8h-.8zM126.9 334.2h.8v.8h-.8zM136.4 334.8h.8v.8h-.8zM124.4 331.5h.8v.8h-.8zM139.9 331.4h.8v.8h-.8zM138.3 334.1h.8v.8h-.8zM121.7 340.5h.8v.8h-.8zM141.0 330.7h.8v.8h-.8zM148.0 334.3h.8v.8h-.8zM123.2 332.3h.8v.8h-.8zM148.2 328.6h.8v.8h-.8zM135.4 332.5h.8v.8h-.8zM148.5 338.4h.8v.8h-.8zM140.5 332.9h.8v.8h-.8zM140.0 331.9h.8v.8h-.8zM143.6 325.4h.8v.8h-.8zM124.4 341.9h.8v.8h-.8zM144.7 334.9h.8v.8h-.8zM146.3 328.0h.8v.8h-.8zM142.5 337.4h.8v.8h-.8zM131.2 331.8h.8v.8h-.8zM148.0 332.5h.8v.8h-.8zM138.4 337.7h.8v.8h-.8zM138.6 340.4h.8v.8h-.8zM147.3 325.7h.8v.8h-.8zM133.5 330.2h.8v.8h-.8zM138.8 327.0h.8v.8h-.8zM132.4 339.7h.8v.8h-.8zM145.0 334.5h.8v.8h-.8zM146.9 332.0h.8v.8h-.8zM139.7 337.2h.8v.8h-.8zM129.6 336.2h.8v.8h-.8zM137.6 336.6h.8v.8h-.8zM118.3 331.8h.8v.8h-.8zM147.1 329.0h.8v.8h-.8zM129.3 341.8h.8v.8h-.8zM141.1 331.6h.8v.8h-.8zM143.7 330.2h.8v.8h-.8zM143.4 333.3h.8v.8h-.8zM137.6 329.9h.8v.8h-.8zM148.1 330.6h.8v.8h-.8zM144.3 322.5h.8v.8h-.8zM142.2 335.6h.8v.8h-.8zM137.8 335.1h.8v.8h-.8zM148.3 334.4h.8v.8h-.8zM126.7 335.1h.8v.8h-.8zM113.6 330.1h.8v.8h-.8zM128.0 329.0h.8v.8h-.8zM142.7 334.7h.8v.8h-.8zM129.0 337.7h.8v.8h-.8zM126.4 332.2h.8v.8h-.8zM131.9 342.0h.8v.8h-.8zM132.2 335.4h.8v.8h-.8zM142.7 331.9h.8v.8h-.8zM120.9 347.9h.8v.8h-.8zM139.6 330.9h.8v.8h-.8zM141.0 334.5h.8v.8h-.8zM135.9 336.0h.8v.8h-.8zM137.9 321.4h.8v.8h-.8zM150.6 333.7h.8v.8h-.8zM147.1 331.7h.8v.8h-.8zM130.0 342.5h.8v.8h-.8zM130.3 344.8h.8v.8h-.8zM139.1 331.4h.8v.8h-.8zM124.0 341.4h.8v.8h-.8zM148.1 329.7h.8v.8h-.8zM139.4 337.5h.8v.8h-.8zM141.3 339.9h.8v.8h-.8zM148.1 324.0h.8v.8h-.8zM139.6 323.2h.8v.8h-.8zM144.7 339.6h.8v.8h-.8zM142.9 343.7h.8v.8h-.8zM141.9 322.4h.8v.8h-.8zM138.9 334.5h.8v.8h-.8zM145.7 339.7h.8v.8h-.8zM144.3 339.9h.8v.8h-.8zM152.9 321.5h.8v.8h-.8zM147.0 333.9h.8v.8h-.8zM135.4 334.9h.8v.8h-.8zM145.0 336.9h.8v.8h-.8zM145.9 339.6h.8v.8h-.8zM144.1 336.0h.8v.8h-.8zM144.8 330.2h.8v.8h-.8zM138.6 336.7h.8v.8h-.8zM141.3 333.8h.8v.8h-.8zM129.3 338.3h.8v.8h-.8zM132.8 336.9h.8v.8h-.8zM145.8 331.6h.8v.8h-.8zM139.1 340.8h.8v.8h-.8zM139.8 336.9h.8v.8h-.8zM149.0 334.7h.8v.8h-.8zM132.2 328.8h.8v.8h-.8zM144.2 327.6h.8v.8h-.8zM144.2 332.6h.8v.8h-.8zM130.4 338.5h.8v.8h-.8zM135.8 329.5h.8v.8h-.8zM133.0 333.1h.8v.8h-.8zM137.6 345.3h.8v.8h-.8zM137.4 327.1h.8v.8h-.8zM128.1 333.5h.8v.8h-.8zM141.4 329.4h.8v.8h-.8zM142.7 327.5h.8v.8h-.8zM140.9 330.6h.8v.8h-.8zM139.5 335.8h.8v.8h-.8zM142.1 326.8h.8v.8h-.8zM136.0 328.2h.8v.8h-.8zM142.8 324.2h.8v.8h-.8zM135.6 329.1h.8v.8h-.8zM140.0 338.4h.8v.8h-.8zM138.2 334.2h.8v.8h-.8zM136.5 332.9h.8v.8h-.8zM138.0 329.2h.8v.8h-.8zM140.1 343.4h.8v.8h-.8zM127.2 326.7h.8v.8h-.8zM124.6 339.5h.8v.8h-.8zM137.5 334.7h.8v.8h-.8zM129.4 340.8h.8v.8h-.8zM133.9 338.2h.8v.8h-.8zM131.1 338.8h.8v.8h-.8zM148.4 327.0h.8v.8h-.8zM130.7 331.0h.8v.8h-.8zM143.1 328.1h.8v.8h-.8zM144.9 329.0h.8v.8h-.8zM138.9 327.9h.8v.8h-.8zM139.9 330.6h.8v.8h-.8zM150.1 336.7h.8v.8h-.8zM148.7 336.9h.8v.8h-.8zM144.9 322.7h.8v.8h-.8zM133.7 339.6h.8v.8h-.8zM144.7 332.4h.8v.8h-.8zM128.8 332.4h.8v.8h-.8zM143.6 322.7h.8v.8h-.8zM140.1 334.9h.8v.8h-.8zM132.1 338.5h.8v.8h-.8zM144.0 344.3h.8v.8h-.8zM144.9 334.1h.8v.8h-.8zM129.2 338.3h.8v.8h-.8zM137.0 343.1h.8v.8h-.8zM135.3 324.4h.8v.8h-.8zM118.2 339.4h.8v.8h-.8zM141.1 331.8h.8v.8h-.8zM147.4 335.5h.8v.8h-.8zM148.4 341.8h.8v.8h-.8zM151.4 334.5h.8v.8h-.8zM140.4 340.3h.8v.8h-.8zM131.3 343.5h.8v.8h-.8zM137.6 334.4h.8v.8h-.8zM135.2 330.8h.8v.8h-.8zM126.5 338.3h.8v.8h-.8zM154.9 331.1h.8v.8h-.8zM117.6 336.2h.8v.8h-.8zM120.6 336.6h.8v.8h-.8zM135.5 333.2h.8v.8h-.8zM141.6 345.2h.8v.8h-.8zM119.3 327.5h.8v.8h-.8zM148.4 329.5h.8v.8h-.8zM134.3 339.0h.8v.8h-.8zM138.4 335.4h.8v.8h-.8zM130.8 331.0h.8v.8h-.8zM135.2 333.6h.8v.8h-.8zM145.3 337.8h.8v.8h-.8zM129.6 340.1h.8v.8h-.8zM147.0 343.7h.8v.8h-.8zM146.7 323.2h.8v.8h-.8zM145.1 336.9h.8v.8h-.8zM144.9 336.7h.8v.8h-.8zM128.5 333.2h.8v.8h-.8zM141.6 338.2h.8v.8h-.8zM119.5 335.6h.8v.8h-.8zM126.4 331.3h.8v.8h-.8zM139.5 330.2h.8v.8h-.8zM145.9 333.6h.8v.8h-.8zM134.3 344.9h.8v.8h-.8zM133.4 332.2h.8v.8h-.8zM141.7 324.7h.8v.8h-.8zM118.7 338.7h.8v.8h-.8zM145.7 330.5h.8v.8h-.8zM137.1 330.8h.8v.8h-.8zM142.2 335.7h.8v.8h-.8zM141.4 327.1h.8v.8h-.8zM135.4 331.1h.8v.8h-.8zM146.0 324.7h.8v.8h-.8zM137.7 328.6h.8v.8h-.8zM142.3 326.1h.8v.8h-.8zM132.2 347.3h.8v.8h-.8zM140.0 336.8h.8v.8h-.8zM133.6 326.2h.8v.8h-.8zM150.8 328.3h.8v.8h-.8zM139.7 332.8h.8v.8h-.8zM128.2 338.3h.8v.8h-.8zM136.1 336.9h.8v.8h-.8zM144.6 326.5h.8v.8h-.8zM146.7 338.1h.8v.8h-.8zM141.3 330.0h.8v.8h-.8zM145.5 331.2h.8v.8h-.8zM144.0 342.2h.8v.8h-.8zM139.3 333.3h.8v.8h-.8zM139.5 338.3h.8v.8h-.8zM121.6 332.0h.8v.8h-.8zM137.6 331.7h.8v.8h-.8zM117.1 340.7h.8v.8h-.8zM132.4 327.7h.8v.8h-.8zM145.1 333.7h.8v.8h-.8zM152.6 328.4h.8v.8h-.8zM128.9 330.9h.8v.8h-.8zM127.2 340.4h.8v.8h-.8zM136.4 342.7h.8v.8h-.8zM136.7 329.6h.8v.8h-.8zM136.5 336.1h.8v.8h-.8zM142.2 337.1h.8v.8h-.8zM143.6 332.0h.8v.8h-.8zM143.5 331.6h.8v.8h-.8zM135.3 334.8h.8v.8h-.8zM122.3 338.5h.8v.8h-.8zM140.5 328.6h.8v.8h-.8zM139.8 327.2h.8v.8h-.8zM131.9 326.3h.8v.8h-.8zM125.7 344.1h.8v.8h-.8zM136.3 341.1h.8v.8h-.8zM138.8 337.4h.8v.8h-.8zM124.8 340.2h.8v.8h-.8zM142.3 331.3h.8v.8h-.8zM145.6 334.8h.8v.8h-.8zM145.3 326.2h.8v.8h-.8zM129.3 338.5h.8v.8h-.8zM138.7 323.4h.8v.8h-.8zM135.8 326.6h.8v.8h-.8zM138.6 337.1h.8v.8h-.8zM150.7 336.5h.8v.8h-.8zM148.7 332.4h.8v.8h-.8zM139.0 335.2h.8v.8h-.8zM123.3 331.9h.8v.8h-.8zM141.0 330.8h.8v.8h-.8zM133.5 330.4h.8v.8h-.8zM147.1 333.5h.8v.8h-.8zM131.2 331.5h.8v.8h-.8zM126.2 348.8h.8v.8h-.8zM134.5 334.3h.8v.8h-.8zM133.4 326.3h.8v.8h-.8zM136.1 336.6h.8v.8h-.8zM129.3 333.9h.8v.8h-.8zM137.7 330.1h.8v.8h-.8zM136.9 325.1h.8v.8h-.8zM137.2 326.1h.8v.8h-.8zM136.0 336.3h.8v.8h-.8zM145.0 332.4h.8v.8h-.8zM141.9 327.4h.8v.8h-.8zM149.3 327.1h.8v.8h-.8zM141.0 330.6h.8v.8h-.8zM129.1 332.1h.8v.8h-.8zM125.3 338.4h.8v.8h-.8zM144.2 323.1h.8v.8h-.8zM144.0 333.1h.8v.8h-.8zM141.1 327.2h.8v.8h-.8zM145.7 328.3h.8v.8h-.8zM126.0 335.7h.8v.8h-.8zM140.1 345.0h.8v.8h-.8zM146.4 336.9h.8v.8h-.8zM141.7 338.7h.8v.8h-.8zM129.8 328.1h.8v.8h-.8zM149.0 335.7h.8v.8h-.8zM137.9 329.6h.8v.8h-.8zM135.7 328.1h.8v.8h-.8zM146.9 328.5h.8v.8h-.8zM140.9 349.0h.8v.8h-.8zM129.1 327.9h.8v.8h-.8zM141.5 333.5h.8v.8h-.8zM139.1 336.5h.8v.8h-.8zM143.6 338.3h.8v.8h-.8zM152.2 331.9h.8v.8h-.8zM142.8 327.2h.8v.8h-.8zM125.4 329.6h.8v.8h-.8zM147.2 334.6h.8v.8h-.8zM141.3 338.6h.8v.8h-.8zM147.6 331.3h.8v.8h-.8zM141.2 331.1h.8v.8h-.8zM134.3 342.6h.8v.8h-.8zM142.1 333.1h.8v.8h-.8zM135.0 327.0h.8v.8h-.8zM130.2 335.9h.8v.8h-.8zM146.1 344.2h.8v.8h-.8zM137.5 329.6h.8v.8h-.8zM134.6 337.8h.8v.8h-.8zM150.4 331.7h.8v.8h-.8zM139.5 338.9h.8v.8h-.8zM148.4 326.1h.8v.8h-.8zM149.1 338.3h.8v.8h-.8zM133.2 330.4h.8v.8h-.8zM143.3 332.2h.8v.8h-.8zM142.3 332.5h.8v.8h-.8zM134.7 345.3h.8v.8h-.8zM139.5 337.5h.8v.8h-.8zM137.1 330.1h.8v.8h-.8zM148.6 330.5h.8v.8h-.8zM138.4 335.3h.8v.8h-.8zM145.6 333.0h.8v.8h-.8zM140.8 335.4h.8v.8h-.8zM127.3 339.2h.8v.8h-.8zM129.7 343.0h.8v.8h-.8zM142.7 325.3h.8v.8h-.8zM144.7 339.3h.8v.8h-.8zM136.3 330.8h.8v.8h-.8zM154.7 340.3h.8v.8h-.8zM132.4 328.4h.8v.8h-.8zM150.9 342.0h.8v.8h-.8zM139.4 338.5h.8v.8h-.8zM140.2 336.7h.8v.8h-.8zM132.7 337.5h.8v.8h-.8zM120.6 337.5h.8v.8h-.8zM130.2 325.6h.8v.8h-.8zM146.4 333.5h.8v.8h-.8zM125.0 337.2h.8v.8h-.8zM145.0 336.8h.8v.8h-.8zM140.3 339.0h.8v.8h-.8zM145.1 334.7h.8v.8h-.8zM147.1 329.7h.8v.8h-.8zM141.4 341.9h.8v.8h-.8zM151.5 340.1h.8v.8h-.8zM140.1 335.4h.8v.8h-.8zM145.9 335.2h.8v.8h-.8zM142.2 340.6h.8v.8h-.8zM153.2 342.3h.8v.8h-.8zM137.4 333.4h.8v.8h-.8zM138.8 326.7h.8v.8h-.8zM138.4 322.8h.8v.8h-.8zM142.9 330.9h.8v.8h-.8zM122.8 328.6h.8v.8h-.8zM139.9 334.7h.8v.8h-.8zM120.0 329.2h.8v.8h-.8zM140.3 339.3h.8v.8h-.8zM135.3 338.8h.8v.8h-.8zM138.5 332.4h.8v.8h-.8zM145.9 341.2h.8v.8h-.8zM133.8 331.4h.8v.8h-.8zM125.6 331.7h.8v.8h-.8zM141.6 335.4h.8v.8h-.8zM122.2 329.9h.8v.8h-.8zM139.9 336.5h.8v.8h-.8zM136.8 346.4h.8v.8h-.8zM153.2 335.5h.8v.8h-.8zM144.8 333.1h.8v.8h-.8zM152.4 329.5h.8v.8h-.8zM133.0 328.8h.8v.8h-.8zM139.9 341.2h.8v.8h-.8zM139.3 337.3h.8v.8h-.8zM125.4 333.8h.8v.8h-.8zM138.8 325.8h.8v.8h-.8zM131.5 325.7h.8v.8h-.8zM140.6 329.3h.8v.8h-.8zM143.8 331.8h.8v.8h-.8zM153.0 328.9h.8v.8h-.8zM139.9 330.5h.8v.8h-.8zM140.6 337.3h.8v.8h-.8zM143.9 336.9h.8v.8h-.8zM134.1 335.2h.8v.8h-.8zM149.2 333.0h.8v.8h-.8zM144.3 326.1h.8v.8h-.8zM132.6 320.6h.8v.8h-.8zM140.1 328.7h.8v.8h-.8zM145.6 327.5h.8v.8h-.8zM139.0 335.4h.8v.8h-.8zM144.2 340.1h.8v.8h-.8zM140.8 333.1h.8v.8h-.8zM155.3 325.7h.8v.8h-.8zM133.6 339.7h.8v.8h-.8zM130.1 337.5h.8v.8h-.8zM142.1 333.8h.8v.8h-.8zM133.5 339.3h.8v.8h-.8zM147.0 329.4h.8v.8h-.8zM145.2 339.4h.8v.8h-.8zM140.4 330.9h.8v.8h-.8zM140.7 329.4h.8v.8h-.8zM133.2 328.1h.8v.8h-.8zM142.5 339.6h.8v.8h-.8zM134.8 330.9h.8v.8h-.8zM149.7 333.7h.8v.8h-.8zM124.1 327.5h.8v.8h-.8zM134.3 341.3h.8v.8h-.8zM141.0 328.6h.8v.8h-.8zM138.9 331.6h.8v.8h-.8zM141.2 334.0h.8v.8h-.8zM133.4 334.9h.8v.8h-.8zM128.0 334.4h.8v.8h-.8zM141.4 334.3h.8v.8h-.8zM140.5 337.8h.8v.8h-.8zM135.7 324.8h.8v.8h-.8zM136.2 332.0h.8v.8h-.8zM134.5 330.6h.8v.8h-.8zM153.7 330.2h.8v.8h-.8zM126.6 336.4h.8v.8h-.8zM135.8 334.6h.8v.8h-.8zM153.4 339.4h.8v.8h-.8zM135.7 342.7h.8v.8h-.8zM141.5 334.3h.8v.8h-.8zM121.9 333.4h.8v.8h-.8zM144.6 340.8h.8v.8h-.8zM136.9 336.0h.8v.8h-.8zM142.7 332.4h.8v.8h-.8zM116.1 338.4h.8v.8h-.8zM139.0 330.5h.8v.8h-.8zM135.7 337.2h.8v.8h-.8zM147.1 340.9h.8v.8h-.8zM144.5 340.6h.8v.8h-.8zM145.0 327.3h.8v.8h-.8zM141.6 329.2h.8v.8h-.8zM133.2 337.6h.8v.8h-.8zM139.2 341.2h.8v.8h-.8zM141.4 330.6h.8v.8h-.8zM130.4 343.0h.8v.8h-.8zM133.4 327.0h.8v.8h-.8zM145.1 327.7h.8v.8h-.8zM142.6 330.2h.8v.8h-.8zM139.5 335.8h.8v.8h-.8zM150.9 333.5h.8v.8h-.8zM141.8 338.7h.8v.8h-.8zM132.2 344.4h.8v.8h-.8zM128.6 333.9h.8v.8h-.8zM146.5 327.0h.8v.8h-.8zM148.0 333.9h.8v.8h-.8zM137.5 327.9h.8v.8h-.8zM146.4 332.2h.8v.8h-.8zM134.0 321.9h.8v.8h-.8zM142.7 339.2h.8v.8h-.8zM145.3 343.4h.8v.8h-.8zM140.3 322.3h.8v.8h-.8zM143.4 331.1h.8v.8h-.8zM134.6 332.8h.8v.8h-.8zM141.7 327.7h.8v.8h-.8zM139.1 337.7h.8v.8h-.8zM128.9 334.1h.8v.8h-.8zM139.4 329.3h.8v.8h-.8zM133.6 333.7h.8v.8h-.8zM143.1 330.8h.8v.8h-.8zM135.7 334.6h.8v.8h-.8zM142.3 325.2h.8v.8h-.8zM131.2 342.2h.8v.8h-.8zM140.7 336.2h.8v.8h-.8zM133.6 330.9h.8v.8h-.8zM140.0 335.5h.8v.8h-.8zM135.0 339.7h.8v.8h-.8zM116.7 337.2h.8v.8h-.8zM142.3 339.8h.8v.8h-.8zM146.0 331.4h.8v.8h-.8zM138.3 328.4h.8v.8h-.8zM145.3 330.0h.8v.8h-.8zM137.3 320.4h.8v.8h-.8zM127.4 330.4h.8v.8h-.8zM147.2 330.1h.8v.8h-.8zM140.0 332.0h.8v.8h-.8zM128.5 335.4h.8v.8h-.8zM144.3 329.7h.8v.8h-.8zM147.9 329.0h.8v.8h-.8zM134.8 338.5h.8v.8h-.8zM140.6 329.1h.8v.8h-.8zM132.1 333.1h.8v.8h-.8zM143.7 333.3h.8v.8h-.8zM140.8 330.3h.8v.8h-.8zM119.1 331.9h.8v.8h-.8zM145.7 329.9h.8v.8h-.8zM139.3 322.6h.8v.8h-.8zM118.1 327.4h.8v.8h-.8zM142.6 333.9h.8v.8h-.8zM136.0 326.4h.8v.8h-.8zM141.7 335.9h.8v.8h-.8zM127.8 322.1h.8v.8h-.8zM146.4 331.7h.8v.8h-.8zM149.7 331.8h.8v.8h-.8zM141.1 335.9h.8v.8h-.8zM139.2 331.5h.8v.8h-.8zM138.5 332.1h.8v.8h-.8zM141.7 326.2h.8v.8h-.8zM146.0 327.6h.8v.8h-.8zM146.7 328.9h.8v.8h-.8zM127.4 338.9h.8v.8h-.8zM153.9 328.1h.8v.8h-.8zM135.8 338.5h.8v.8h-.8zM138.5 340.8h.8v.8h-.8zM144.2 327.9h.8v.8h-.8zM120.9 330.3h.8v.8h-.8zM119.7 341.2h.8v.8h-.8zM140.0 330.8h.8v.8h-.8zM149.4 339.3h.8v.8h-.8zM136.9 331.6h.8v.8h-.8zM120.6 343.3h.8v.8h-.8zM147.4 338.4h.8v.8h-.8zM124.4 332.9h.8v.8h-.8zM133.5 330.0h.8v.8h-.8zM140.2 331.9h.8v.8h-.8zM146.6 333.7h.8v.8h-.8zM136.5 325.1h.8v.8h-.8zM143.3 331.4h.8v.8h-.8zM140.8 330.6h.8v.8h-.8zM130.9 334.3h.8v.8h-.8zM139.5 345.2h.8v.8h-.8zM140.7 325.6h.8v.8h-.8zM143.8 328.2h.8v.8h-.8zM139.3 329.4h.8v.8h-.8zM144.8 339.6h.8v.8h-.8zM134.7 335.7h.8v.8h-.8zM128.6 335.8h.8v.8h-.8zM130.5 338.9h.8v.8h-.8zM143.8 333.4h.8v.8h-.8zM136.6 341.1h.8v.8h-.8zM148.9 329.6h.8v.8h-.8zM148.3 329.9h.8v.8h-.8zM145.8 326.4h.8v.8h-.8zM140.1 347.7h.8v.8h-.8zM147.7 332.7h.8v.8h-.8zM141.6 333.1h.8v.8h-.8zM145.0 331.7h.8v.8h-.8zM124.5 329.7h.8v.8h-.8zM151.6 339.3h.8v.8h-.8zM145.2 328.2h.8v.8h-.8zM147.8 338.0h.8v.8h-.8zM145.0 340.0h.8v.8h-.8zM126.6 343.8h.8v.8h-.8zM141.9 335.5h.8v.8h-.8zM125.0 329.9h.8v.8h-.8zM127.1 334.7h.8v.8h-.8zM129.3 338.0h.8v.8h-.8zM145.9 334.6h.8v.8h-.8zM139.7 335.7h.8v.8h-.8zM134.7 331.8h.8v.8h-.8zM144.6 335.1h.8v.8h-.8zM133.6 329.4h.8v.8h-.8zM117.3 335.0h.8v.8h-.8zM142.6 336.7h.8v.8h-.8zM148.1 327.7h.8v.8h-.8zM140.5 334.6h.8v.8h-.8zM144.9 326.3h.8v.8h-.8zM137.2 332.3h.8v.8h-.8zM137.1 327.3h.8v.8h-.8zM151.3 338.2h.8v.8h-.8zM140.6 338.5h.8v.8h-.8zM134.5 335.2h.8v.8h-.8zM142.1 331.8h.8v.8h-.8zM122.2 335.6h.8v.8h-.8zM150.4 328.0h.8v.8h-.8zM144.2 337.6h.8v.8h-.8zM133.7 326.3h.8v.8h-.8zM140.5 330.7h.8v.8h-.8zM131.0 341.1h.8v.8h-.8zM138.8 333.6h.8v.8h-.8zM136.7 323.0h.8v.8h-.8zM141.4 333.1h.8v.8h-.8zM125.2 324.7h.8v.8h-.8zM142.1 339.2h.8v.8h-.8zM134.7 338.3h.8v.8h-.8zM133.8 332.0h.8v.8h-.8zM128.3 334.5h.8v.8h-.8zM136.4 330.7h.8v.8h-.8zM141.0 326.7h.8v.8h-.8zM146.4 329.6h.8v.8h-.8zM141.1 338.9h.8v.8h-.8zM138.8 329.7h.8v.8h-.8zM129.9 328.2h.8v.8h-.8zM145.2 334.5h.8v.8h-.8zM151.0 329.9h.8v.8h-.8zM138.6 327.2h.8v.8h-.8zM130.3 336.5h.8v.8h-.8zM143.6 332.3h.8v.8h-.8zM130.6 336.4h.8v.8h-.8zM139.4 334.4h.8v.8h-.8zM138.5 334.0h.8v.8h-.8zM135.1 331.4h.8v.8h-.8zM133.5 327.4h.8v.8h-.8zM140.4 340.3h.8v.8h-.8zM138.4 334.8h.8v.8h-.8zM131.6 328.5h.8v.8h-.8zM142.7 335.5h.8v.8h-.8zM153.7 342.1h.8v.8h-.8zM142.5 329.8h.8v.8h-.8zM145.5 334.4h.8v.8h-.8zM145.6 335.8h.8v.8h-.8zM142.4 333.0h.8v.8h-.8zM132.6 338.3h.8v.8h-.8zM135.9 341.9h.8v.8h-.8zM143.4 332.5h.8v.8h-.8zM142.9 343.6h.8v.8h-.8zM132.8 340.5h.8v.8h-.8zM131.2 333.3h.8v.8h-.8zM142.8 328.8h.8v.8h-.8zM145.4 331.2h.8v.8h-.8zM130.4 336.2h.8v.8h-.8zM128.6 340.8h.8v.8h-.8zM134.5 328.2h.8v.8h-.8zM140.8 336.3h.8v.8h-.8zM137.0 329.7h.8v.8h-.8zM145.4 338.2h.8v.8h-.8zM131.3 334.0h.8v.8h-.8zM144.5 337.3h.8v.8h-.8zM133.4 332.4h.8v.8h-.8zM143.6 325.7h.8v.8h-.8zM149.8 330.5h.8v.8h-.8zM121.0 333.3h.8v.8h-.8zM144.3 329.8h.8v.8h-.8zM137.7 335.2h.8v.8h-.8zM136.1 331.8h.8v.8h-.8zM123.7 338.7h.8v.8h-.8zM145.8 339.1h.8v.8h-.8zM141.1 327.3h.8v.8h-.8zM134.1 336.3h.8v.8h-.8zM145.5 331.1h.8v.8h-.8zM138.9 322.3h.8v.8h-.8zM134.2 329.3h.8v.8h-.8zM147.8 342.3h.8v.8h-.8zM122.8 334.9h.8v.8h-.8zM143.8 335.2h.8v.8h-.8zM130.3 335.0h.8v.8h-.8zM140.9 338.8h.8v.8h-.8zM127.3 332.4h.8v.8h-.8zM147.4 339.0h.8v.8h-.8zM143.5 331.8h.8v.8h-.8zM129.9 337.8h.8v.8h-.8zM141.8 343.7h.8v.8h-.8zM142.0 335.8h.8v.8h-.8zM142.2 338.7h.8v.8h-.8zM154.4 332.8h.8v.8h-.8zM150.3 334.2h.8v.8h-.8zM134.2 342.1h.8v.8h-.8zM127.2 331.3h.8v.8h-.8zM136.0 334.0h.8v.8h-.8zM137.5 330.6h.8v.8h-.8zM140.9 331.9h.8v.8h-.8zM143.8 334.9h.8v.8h-.8zM132.3 334.4h.8v.8h-.8zM138.7 330.8h.8v.8h-.8zM145.3 332.9h.8v.8h-.8zM120.8 342.1h.8v.8h-.8zM129.3 334.1h.8v.8h-.8zM140.9 323.0h.8v.8h-.8zM127.8 339.1h.8v.8h-.8zM127.4 336.4h.8v.8h-.8zM121.7 331.6h.8v.8h-.8zM148.6 332.8h.8v.8h-.8zM143.5 327.7h.8v.8h-.8zM138.4 332.5h.8v.8h-.8zM133.7 340.5h.8v.8h-.8zM146.2 338.3h.8v.8h-.8zM140.9 328.7h.8v.8h-.8zM153.4 336.9h.8v.8h-.8zM138.0 328.4h.8v.8h-.8zM130.6 338.3h.8v.8h-.8zM145.2 337.2h.8v.8h-.8zM145.8 331.5h.8v.8h-.8zM141.9 347.1h.8v.8h-.8zM128.6 326.5h.8v.8h-.8zM139.7 328.9h.8v.8h-.8zM138.6 336.5h.8v.8h-.8zM140.1 340.1h.8v.8h-.8zM153.1 336.4h.8v.8h-.8zM134.7 342.0h.8v.8h-.8zM136.0 335.7h.8v.8h-.8zM143.2 333.2h.8v.8h-.8zM142.0 334.2h.8v.8h-.8zM133.2 336.1h.8v.8h-.8zM152.3 339.2h.8v.8h-.8zM124.0 329.0h.8v.8h-.8zM148.7 335.4h.8v.8h-.8zM138.1 329.2h.8v.8h-.8zM142.2 338.3h.8v.8h-.8zM132.6 331.8h.8v.8h-.8zM132.7 334.2h.8v.8h-.8zM155.0 330.6h.8v.8h-.8zM143.0 326.0h.8v.8h-.8zM141.8 336.8h.8v.8h-.8zM147.4 336.9h.8v.8h-.8zM131.8 337.8h.8v.8h-.8zM129.4 338.5h.8v.8h-.8zM121.8 337.6h.8v.8h-.8zM146.2 322.9h.8v.8h-.8zM141.2 327.1h.8v.8h-.8zM144.9 326.0h.8v.8h-.8zM144.2 338.5h.8v.8h-.8zM137.2 335.7h.8v.8h-.8zM130.7 343.6h.8v.8h-.8zM138.5 338.8h.8v.8h-.8zM131.0 336.4h.8v.8h-.8zM143.6 328.8h.8v.8h-.8zM144.0 331.8h.8v.8h-.8zM129.7 331.3h.8v.8h-.8zM133.7 347.9h.8v.8h-.8zM153.0 330.9h.8v.8h-.8zM143.2 325.1h.8v.8h-.8zM140.9 330.2h.8v.8h-.8zM138.5 338.8h.8v.8h-.8zM142.7 326.5h.8v.8h-.8zM145.1 330.3h.8v.8h-.8zM140.7 327.4h.8v.8h-.8zM139.8 328.5h.8v.8h-.8zM126.9 328.1h.8v.8h-.8zM131.4 323.8h.8v.8h-.8zM144.5 337.4h.8v.8h-.8zM123.6 338.4h.8v.8h-.8zM147.5 345.1h.8v.8h-.8zM145.8 335.3h.8v.8h-.8zM133.5 332.0h.8v.8h-.8zM130.0 334.7h.8v.8h-.8zM131.1 334.1h.8v.8h-.8zM143.9 332.7h.8v.8h-.8zM142.4 333.1h.8v.8h-.8zM151.6 329.7h.8v.8h-.8zM138.2 333.0h.8v.8h-.8zM138.5 340.9h.8v.8h-.8zM130.6 333.0h.8v.8h-.8zM142.2 326.0h.8v.8h-.8zM145.9 322.4h.8v.8h-.8zM131.3 331.8h.8v.8h-.8zM140.1 325.8h.8v.8h-.8zM118.5 332.5h.8v.8h-.8zM146.6 333.5h.8v.8h-.8zM131.8 329.9h.8v.8h-.8zM150.2 335.5h.8v.8h-.8zM129.3 326.7h.8v.8h-.8zM126.8 333.5h.8v.8h-.8zM144.2 331.5h.8v.8h-.8zM140.7 332.7h.8v.8h-.8zM117.2 336.5h.8v.8h-.8zM143.0 328.3h.8v.8h-.8zM141.6 332.2h.8v.8h-.8zM141.4 335.5h.8v.8h-.8zM135.7 327.0h.8v.8h-.8zM142.0 326.9h.8v.8h-.8zM144.7 323.6h.8v.8h-.8zM150.5 328.3h.8v.8h-.8zM144.4 327.0h.8v.8h-.8zM139.4 340.1h.8v.8h-.8zM148.2 323.5h.8v.8h-.8zM134.9 326.2h.8v.8h-.8zM141.5 324.0h.8v.8h-.8zM122.4 337.4h.8v.8h-.8zM147.6 336.7h.8v.8h-.8zM130.8 337.5h.8v.8h-.8zM135.8 324.5h.8v.8h-.8zM138.0 330.8h.8v.8h-.8zM140.8 337.8h.8v.8h-.8zM145.6 326.8h.8v.8h-.8zM139.2 337.5h.8v.8h-.8zM123.3 335.1h.8v.8h-.8zM113.0 343.3h.8v.8h-.8zM136.0 335.7h.8v.8h-.8zM135.4 339.9h.8v.8h-.8zM151.8 324.9h.8v.8h-.8zM127.2 326.3h.8v.8h-.8zM142.0 341.8h.8v.8h-.8zM140.6 338.3h.8v.8h-.8zM133.4 330.2h.8v.8h-.8zM146.6 335.2h.8v.8h-.8zM114.0 341.4h.8v.8h-.8zM133.6 338.5h.8v.8h-.8zM147.6 329.6h.8v.8h-.8zM133.1 335.9h.8v.8h-.8zM133.5 332.6h.8v.8h-.8zM128.5 337.0h.8v.8h-.8zM141.8 328.9h.8v.8h-.8zM126.4 332.3h.8v.8h-.8zM146.7 334.1h.8v.8h-.8zM138.4 325.9h.8v.8h-.8zM133.0 335.4h.8v.8h-.8zM144.5 341.7h.8v.8h-.8zM128.1 330.2h.8v.8h-.8zM134.0 328.1h.8v.8h-.8zM144.2 335.6h.8v.8h-.8zM140.1 332.5h.8v.8h-.8zM134.9 342.1h.8v.8h-.8zM152.8 332.4h.8v.8h-.8zM124.3 332.3h.8v.8h-.8zM150.4 334.1h.8v.8h-.8zM139.2 333.4h.8v.8h-.8zM131.3 326.4h.8v.8h-.8zM141.7 339.5h.8v.8h-.8zM138.7 329.8h.8v.8h-.8zM137.1 335.6h.8v.8h-.8zM137.9 326.5h.8v.8h-.8zM141.3 335.0h.8v.8h-.8zM135.4 327.3h.8v.8h-.8zM155.0 327.2h.8v.8h-.8zM135.5 337.9h.8v.8h-.8zM121.1 340.4h.8v.8h-.8zM142.4 329.0h.8v.8h-.8zM143.7 330.3h.8v.8h-.8zM144.1 336.2h.8v.8h-.8zM141.6 336.8h.8v.8h-.8zM131.9 335.7h.8v.8h-.8zM141.1 324.5h.8v.8h-.8zM149.5 327.4h.8v.8h-.8zM131.1 335.0h.8v.8h-.8zM146.2 327.6h.8v.8h-.8zM151.6 326.8h.8v.8h-.8zM137.4 329.8h.8v.8h-.8zM142.5 328.6h.8v.8h-.8zM136.3 330.6h.8v.8h-.8zM115.4 343.1h.8v.8h-.8zM138.8 331.9h.8v.8h-.8zM142.2 335.0h.8v.8h-.8zM144.8 341.2h.8v.8h-.8zM126.0 327.4h.8v.8h-.8zM141.7 342.0h.8v.8h-.8zM144.9 330.6h.8v.8h-.8zM142.9 330.6h.8v.8h-.8zM141.1 324.2h.8v.8h-.8zM152.8 339.7h.8v.8h-.8zM141.7 324.6h.8v.8h-.8zM154.1 334.9h.8v.8h-.8zM135.7 340.2h.8v.8h-.8zM154.9 327.0h.8v.8h-.8zM135.1 325.5h.8v.8h-.8zM154.2 332.8h.8v.8h-.8zM125.1 329.5h.8v.8h-.8zM154.0 333.8h.8v.8h-.8zM139.1 329.7h.8v.8h-.8zM147.2 327.6h.8v.8h-.8zM146.3 332.6h.8v.8h-.8zM145.2 325.3h.8v.8h-.8zM135.8 327.8h.8v.8h-.8zM148.5 340.3h.8v.8h-.8zM138.8 337.4h.8v.8h-.8zM139.8 334.2h.8v.8h-.8zM137.6 336.1h.8v.8h-.8zM153.8 334.2h.8v.8h-.8zM141.8 339.6h.8v.8h-.8zM140.1 330.0h.8v.8h-.8zM142.8 335.4h.8v.8h-.8zM136.9 324.8h.8v.8h-.8zM140.9 326.7h.8v.8h-.8zM135.0 332.6h.8v.8h-.8zM130.6 337.1h.8v.8h-.8zM133.4 338.1h.8v.8h-.8zM122.0 345.8h.8v.8h-.8zM149.8 333.0h.8v.8h-.8zM127.4 337.0h.8v.8h-.8zM144.4 331.0h.8v.8h-.8zM142.0 329.6h.8v.8h-.8zM134.1 324.8h.8v.8h-.8zM147.9 324.2h.8v.8h-.8zM134.4 334.7h.8v.8h-.8zM147.7 329.2h.8v.8h-.8zM131.1 331.3h.8v.8h-.8zM149.0 328.4h.8v.8h-.8zM140.3 338.1h.8v.8h-.8zM143.8 340.6h.8v.8h-.8zM154.5 327.0h.8v.8h-.8zM135.9 332.1h.8v.8h-.8zM129.8 329.1h.8v.8h-.8zM142.8 333.5h.8v.8h-.8zM142.1 337.0h.8v.8h-.8zM145.8 328.7h.8v.8h-.8zM142.3 336.5h.8v.8h-.8zM142.8 331.1h.8v.8h-.8zM142.6 335.7h.8v.8h-.8zM126.8 340.4h.8v.8h-.8zM139.4 348.2h.8v.8h-.8zM135.6 328.9h.8v.8h-.8zM148.4 340.7h.8v.8h-.8zM136.2 328.0h.8v.8h-.8zM140.6 336.4h.8v.8h-.8zM134.5 327.8h.8v.8h-.8zM137.0 328.0h.8v.8h-.8zM131.5 332.8h.8v.8h-.8zM137.5 337.8h.8v.8h-.8zM146.6 327.2h.8v.8h-.8zM143.2 333.7h.8v.8h-.8zM122.1 333.6h.8v.8h-.8zM139.6 328.4h.8v.8h-.8zM146.5 337.7h.8v.8h-.8zM143.7 329.9h.8v.8h-.8zM130.5 328.0h.8v.8h-.8zM148.1 334.3h.8v.8h-.8zM139.6 336.5h.8v.8h-.8zM133.2 328.7h.8v.8h-.8zM141.7 331.2h.8v.8h-.8zM139.9 339.7h.8v.8h-.8zM145.1 333.2h.8v.8h-.8zM126.2 329.2h.8v.8h-.8zM137.4 336.2h.8v.8h-.8zM135.5 335.4h.8v.8h-.8zM128.1 332.5h.8v.8h-.8zM140.4 331.0h.8v.8h-.8zM135.2 332.6h.8v.8h-.8zM150.4 338.3h.8v.8h-.8zM129.6 338.2h.8v.8h-.8zM143.7 329.6h.8v.8h-.8zM140.2 324.9h.8v.8h-.8zM122.7 337.7h.8v.8h-.8zM131.0 332.6h.8v.8h-.8zM148.3 325.8h.8v.8h-.8zM151.0 334.3h.8v.8h-.8zM128.3 332.4h.8v.8h-.8zM141.4 332.3h.8v.8h-.8zM140.4 342.5h.8v.8h-.8zM123.5 333.4h.8v.8h-.8zM130.8 338.0h.8v.8h-.8zM134.4 342.2h.8v.8h-.8zM135.3 328.4h.8v.8h-.8zM121.0 336.2h.8v.8h-.8zM118.2 348.3h.8v.8h-.8zM142.7 333.7h.8v.8h-.8zM131.9 332.2h.8v.8h-.8zM143.9 326.9h.8v.8h-.8zM134.9 340.7h.8v.8h-.8zM140.7 331.3h.8v.8h-.8zM136.7 335.9h.8v.8h-.8zM140.3 337.0h.8v.8h-.8zM139.0 335.2h.8v.8h-.8zM135.1 341.5h.8v.8h-.8zM133.9 326.0h.8v.8h-.8zM131.9 335.2h.8v.8h-.8zM126.7 336.4h.8v.8h-.8zM142.5 327.2h.8v.8h-.8zM140.1 333.6h.8v.8h-.8zM132.0 340.1h.8v.8h-.8zM135.6 337.8h.8v.8h-.8zM154.7 330.2h.8v.8h-.8zM116.2 333.1h.8v.8h-.8zM155.0 333.5h.8v.8h-.8zM131.2 332.4h.8v.8h-.8zM138.8 343.4h.8v.8h-.8zM119.8 342.2h.8v.8h-.8zM131.1 339.6h.8v.8h-.8zM135.9 326.1h.8v.8h-.8zM136.4 336.1h.8v.8h-.8zM151.2 331.8h.8v.8h-.8zM146.7 329.5h.8v.8h-.8zM130.7 325.3h.8v.8h-.8zM122.3 331.6h.8v.8h-.8zM140.4 332.3h.8v.8h-.8zM133.9 335.3h.8v.8h-.8zM131.1 331.2h.8v.8h-.8zM148.1 336.9h.8v.8h-.8zM142.5 330.7h.8v.8h-.8zM139.7 326.0h.8v.8h-.8zM146.4 333.1h.8v.8h-.8zM116.8 328.1h.8v.8h-.8zM148.4 336.0h.8v.8h-.8zM135.8 337.9h.8v.8h-.8zM131.9 342.8h.8v.8h-.8zM146.8 336.9h.8v.8h-.8zM135.1 329.3h.8v.8h-.8zM127.3 328.9h.8v.8h-.8zM125.3 336.4h.8v.8h-.8zM134.1 335.6h.8v.8h-.8zM131.6 332.6h.8v.8h-.8zM128.9 328.1h.8v.8h-.8zM122.1 343.4h.8v.8h-.8zM128.5 325.8h.8v.8h-.8zM124.1 348.0h.8v.8h-.8zM142.0 333.0h.8v.8h-.8zM137.5 334.1h.8v.8h-.8zM118.9 342.9h.8v.8h-.8zM130.8 329.7h.8v.8h-.8zM139.6 332.8h.8v.8h-.8zM131.1 344.4h.8v.8h-.8zM144.8 333.7h.8v.8h-.8zM130.6 338.6h.8v.8h-.8zM133.3 327.3h.8v.8h-.8zM137.2 345.7h.8v.8h-.8zM145.4 333.2h.8v.8h-.8zM139.7 332.8h.8v.8h-.8zM142.3 323.7h.8v.8h-.8zM143.2 327.1h.8v.8h-.8zM141.5 330.9h.8v.8h-.8zM158.0 331.3h.8v.8h-.8zM141.0 323.5h.8v.8h-.8zM140.4 337.9h.8v.8h-.8zM141.8 332.9h.8v.8h-.8zM155.1 344.9h.8v.8h-.8zM133.7 323.2h.8v.8h-.8zM145.7 325.4h.8v.8h-.8zM129.2 338.3h.8v.8h-.8zM144.1 335.4h.8v.8h-.8zM143.6 326.1h.8v.8h-.8zM130.8 332.2h.8v.8h-.8zM147.2 341.1h.8v.8h-.8zM143.1 331.5h.8v.8h-.8zM136.2 333.6h.8v.8h-.8zM127.5 331.1h.8v.8h-.8zM140.9 328.1h.8v.8h-.8zM150.9 330.8h.8v.8h-.8zM140.4 334.0h.8v.8h-.8zM144.5 332.9h.8v.8h-.8zM139.6 333.6h.8v.8h-.8zM139.7 338.1h.8v.8h-.8zM134.1 337.6h.8v.8h-.8zM145.0 325.1h.8v.8h-.8zM142.1 331.3h.8v.8h-.8zM135.1 332.8h.8v.8h-.8zM129.0 329.1h.8v.8h-.8zM132.8 330.5h.8v.8h-.8zM142.3 337.4h.8v.8h-.8zM123.1 343.8h.8v.8h-.8zM126.8 331.2h.8v.8h-.8zM140.9 335.8h.8v.8h-.8zM130.9 328.4h.8v.8h-.8zM146.1 325.3h.8v.8h-.8zM133.8 333.3h.8v.8h-.8zM141.1 334.8h.8v.8h-.8zM146.7 327.3h.8v.8h-.8zM141.2 340.2h.8v.8h-.8zM142.3 333.4h.8v.8h-.8zM140.0 340.4h.8v.8h-.8zM127.2 345.8h.8v.8h-.8zM150.6 331.2h.8v.8h-.8zM150.3 330.3h.8v.8h-.8zM130.2 332.0h.8v.8h-.8zM151.2 331.8h.8v.8h-.8zM131.1 336.0h.8v.8h-.8zM128.0 335.9h.8v.8h-.8zM145.4 336.4h.8v.8h-.8zM142.8 338.1h.8v.8h-.8zM127.8 334.7h.8v.8h-.8zM140.3 334.0h.8v.8h-.8zM144.7 331.9h.8v.8h-.8zM132.9 342.2h.8v.8h-.8zM139.7 332.7h.8v.8h-.8zM141.2 338.1h.8v.8h-.8zM121.0 344.8h.8v.8h-.8zM117.8 329.6h.8v.8h-.8zM124.7 329.4h.8v.8h-.8zM155.4 334.4h.8v.8h-.8zM129.9 340.0h.8v.8h-.8zM144.9 330.1h.8v.8h-.8zM143.1 330.5h.8v.8h-.8zM112.9 337.7h.8v.8h-.8zM142.4 342.3h.8v.8h-.8zM128.6 342.4h.8v.8h-.8zM145.3 328.7h.8v.8h-.8zM143.9 337.9h.8v.8h-.8zM146.3 341.9h.8v.8h-.8zM141.9 330.7h.8v.8h-.8zM135.1 334.3h.8v.8h-.8zM148.7 328.1h.8v.8h-.8zM142.0 336.4h.8v.8h-.8zM127.0 334.3h.8v.8h-.8zM145.4 334.8h.8v.8h-.8zM144.9 328.8h.8v.8h-.8zM148.4 332.8h.8v.8h-.8zM141.7 343.9h.8v.8h-.8zM142.1 333.7h.8v.8h-.8zM120.1 344.9h.8v.8h-.8zM139.0 332.0h.8v.8h-.8zM135.3 333.2h.8v.8h-.8zM137.8 331.0h.8v.8h-.8zM144.3 334.1h.8v.8h-.8zM135.6 332.2h.8v.8h-.8zM145.6 338.0h.8v.8h-.8zM140.1 332.6h.8v.8h-.8zM144.5 332.0h.8v.8h-.8zM146.2 328.3h.8v.8h-.8zM148.4 332.5h.8v.8h-.8zM140.5 326.7h.8v.8h-.8zM141.1 340.8h.8v.8h-.8zM133.4 332.1h.8v.8h-.8zM143.3 328.8h.8v.8h-.8zM114.7 328.8h.8v.8h-.8zM143.1 339.3h.8v.8h-.8zM124.7 336.5h.8v.8h-.8zM131.3 334.1h.8v.8h-.8zM142.6 327.5h.8v.8h-.8zM137.7 337.5h.8v.8h-.8zM130.6 334.4h.8v.8h-.8zM139.5 335.4h.8v.8h-.8zM134.2 327.4h.8v.8h-.8zM140.5 337.2h.8v.8h-.8zM119.5 331.7h.8v.8h-.8zM131.8 333.7h.8v.8h-.8zM146.4 330.1h.8v.8h-.8zM135.7 336.6h.8v.8h-.8zM139.7 331.0h.8v.8h-.8zM136.9 333.6h.8v.8h-.8zM144.0 326.5h.8v.8h-.8zM149.5 340.4h.8v.8h-.8zM139.2 332.7h.8v.8h-.8zM117.4 331.2h.8v.8h-.8zM141.7 331.3h.8v.8h-.8zM141.9 337.4h.8v.8h-.8zM151.2 336.9h.8v.8h-.8zM146.5 330.0h.8v.8h-.8zM119.6 332.8h.8v.8h-.8zM132.1 335.3h.8v.8h-.8zM138.0 329.7h.8v.8h-.8zM125.7 335.8h.8v.8h-.8zM136.1 348.0h.8v.8h-.8zM140.3 328.6h.8v.8h-.8zM149.2 334.6h.8v.8h-.8zM125.5 335.9h.8v.8h-.8zM143.6 340.4h.8v.8h-.8zM132.7 343.9h.8v.8h-.8zM124.6 334.5h.8v.8h-.8zM130.5 338.9h.8v.8h-.8zM147.4 328.0h.8v.8h-.8zM137.5 343.7h.8v.8h-.8zM140.1 322.9h.8v.8h-.8zM131.9 336.9h.8v.8h-.8zM146.5 326.7h.8v.8h-.8zM120.7 332.4h.8v.8h-.8zM130.4 340.8h.8v.8h-.8zM132.1 334.3h.8v.8h-.8zM153.6 323.3h.8v.8h-.8zM135.1 333.6h.8v.8h-.8zM140.0 328.1h.8v.8h-.8zM133.8 329.7h.8v.8h-.8zM144.1 329.8h.8v.8h-.8zM142.6 340.1h.8v.8h-.8zM125.1 331.7h.8v.8h-.8zM142.1 337.4h.8v.8h-.8zM146.7 325.1h.8v.8h-.8zM141.8 333.0h.8v.8h-.8zM126.4 333.3h.8v.8h-.8zM116.4 339.4h.8v.8h-.8zM128.8 333.6h.8v.8h-.8zM148.3 340.8h.8v.8h-.8zM136.4 331.2h.8v.8h-.8zM125.5 339.3h.8v.8h-.8zM131.1 337.0h.8v.8h-.8zM135.0 347.0h.8v.8h-.8zM145.0 337.7h.8v.8h-.8zM125.2 344.3h.8v.8h-.8zM131.9 336.1h.8v.8h-.8zM136.8 341.5h.8v.8h-.8z" fill="#3c48a6" fill-opacity="0.7"/>
<path d="M137.1 336.4h.8v.8h-.8zM141.0 340.6h.8v.8h-.8zM131.0 331.8h.8v.8h-.8zM129.1 331.6h.8v.8h-.8zM138.5 329.0h.8v.8h-.8zM144.5 336.5h.8v.8h-.8zM143.5 329.5h.8v.8h-.8zM137.8 331.9h.8v.8h-.8zM121.5 321.9h.8v.8h-.8zM137.5 338.7h.8v.8h-.8zM141.2 334.4h.8v.8h-.8zM120.7 332.1h.8v.8h-.8zM127.0 343.5h.8v.8h-.8zM131.1 339.4h.8v.8h-.8zM138.1 331.9h.8v.8h-.8zM142.0 322.2h.8v.8h-.8zM148.6 339.5h.8v.8h-.8zM152.3 330.3h.8v.8h-.8zM140.6 326.6h.8v.8h-.8zM136.3 337.1h.8v.8h-.8zM152.2 330.8h.8v.8h-.8zM157.3 325.0h.8v.8h-.8zM128.4 324.6h.8v.8h-.8zM140.9 328.4h.8v.8h-.8zM142.1 335.2h.8v.8h-.8zM140.8 330.3h.8v.8h-.8zM145.8 330.2h.8v.8h-.8zM139.7 333.7h.8v.8h-.8zM143.0 338.3h.8v.8h-.8zM117.1 337.8h.8v.8h-.8zM118.3 331.1h.8v.8h-.8zM131.4 326.0h.8v.8h-.8zM145.3 339.7h.8v.8h-.8zM147.9 341.0h.8v.8h-.8zM156.8 337.4h.8v.8h-.8zM144.2 336.9h.8v.8h-.8zM146.9 329.0h.8v.8h-.8zM141.4 334.1h.8v.8h-.8zM136.2 334.6h.8v.8h-.8zM141.0 331.5h.8v.8h-.8zM136.4 337.9h.8v.8h-.8zM142.2 338.7h.8v.8h-.8zM125.0 334.7h.8v.8h-.8zM129.6 343.0h.8v.8h-.8zM150.3 337.3h.8v.8h-.8zM132.5 335.5h.8v.8h-.8zM123.9 333.5h.8v.8h-.8zM128.4 333.7h.8v.8h-.8zM147.2 327.3h.8v.8h-.8zM136.6 335.6h.8v.8h-.8zM137.8 341.5h.8v.8h-.8zM142.9 330.7h.8v.8h-.8zM144.5 337.8h.8v.8h-.8zM148.7 328.4h.8v.8h-.8zM152.5 328.7h.8v.8h-.8zM125.2 326.3h.8v.8h-.8zM138.3 327.6h.8v.8h-.8zM135.1 337.6h.8v.8h-.8zM144.5 332.1h.8v.8h-.8zM138.9 340.4h.8v.8h-.8zM144.3 334.4h.8v.8h-.8zM151.6 328.9h.8v.8h-.8zM141.1 333.3h.8v.8h-.8zM146.0 332.5h.8v.8h-.8zM145.3 323.2h.8v.8h-.8zM125.3 333.9h.8v.8h-.8zM137.1 325.9h.8v.8h-.8zM140.5 329.3h.8v.8h-.8zM139.3 341.0h.8v.8h-.8zM139.8 347.0h.8v.8h-.8zM136.9 330.3h.8v.8h-.8zM145.0 331.8h.8v.8h-.8zM140.1 337.0h.8v.8h-.8zM134.3 336.2h.8v.8h-.8zM123.6 342.4h.8v.8h-.8zM137.9 338.4h.8v.8h-.8zM128.5 342.5h.8v.8h-.8zM124.8 340.3h.8v.8h-.8zM143.9 330.8h.8v.8h-.8zM150.4 332.2h.8v.8h-.8zM140.2 339.3h.8v.8h-.8zM129.5 337.2h.8v.8h-.8zM144.3 341.6h.8v.8h-.8zM152.9 330.3h.8v.8h-.8zM132.3 326.2h.8v.8h-.8zM137.0 331.2h.8v.8h-.8zM139.6 336.4h.8v.8h-.8zM142.9 325.6h.8v.8h-.8zM145.4 336.3h.8v.8h-.8zM148.0 331.1h.8v.8h-.8zM138.5 342.8h.8v.8h-.8zM137.1 337.0h.8v.8h-.8zM142.8 334.7h.8v.8h-.8zM133.4 338.4h.8v.8h-.8zM145.1 329.3h.8v.8h-.8zM140.6 335.8h.8v.8h-.8zM145.3 330.2h.8v.8h-.8zM140.5 342.3h.8v.8h-.8zM142.9 332.0h.8v.8h-.8zM150.0 331.8h.8v.8h-.8zM143.6 330.2h.8v.8h-.8zM144.3 337.7h.8v.8h-.8zM147.6 343.1h.8v.8h-.8zM142.6 330.9h.8v.8h-.8zM141.0 329.1h.8v.8h-.8zM131.6 331.9h.8v.8h-.8zM134.0 335.2h.8v.8h-.8zM129.1 337.2h.8v.8h-.8zM142.7 335.8h.8v.8h-.8zM147.1 336.7h.8v.8h-.8zM138.6 335.0h.8v.8h-.8zM131.4 342.0h.8v.8h-.8zM129.9 332.5h.8v.8h-.8zM143.9 331.9h.8v.8h-.8zM138.6 320.4h.8v.8h-.8zM134.6 326.4h.8v.8h-.8zM121.7 337.4h.8v.8h-.8zM143.9 328.3h.8v.8h-.8zM136.8 332.1h.8v.8h-.8zM141.4 333.4h.8v.8h-.8zM129.7 328.3h.8v.8h-.8zM144.5 323.6h.8v.8h-.8zM151.5 336.2h.8v.8h-.8zM140.8 334.1h.8v.8h-.8zM143.0 325.8h.8v.8h-.8zM139.2 337.7h.8v.8h-.8zM133.9 337.5h.8v.8h-.8zM140.4 328.3h.8v.8h-.8zM133.0 333.2h.8v.8h-.8zM143.9 332.8h.8v.8h-.8zM130.7 334.5h.8v.8h-.8zM141.9 324.9h.8v.8h-.8zM128.2 336.3h.8v.8h-.8zM136.9 336.4h.8v.8h-.8zM144.6 337.0h.8v.8h-.8zM146.1 346.1h.8v.8h-.8zM119.1 346.1h.8v.8h-.8zM131.8 330.9h.8v.8h-.8zM136.1 322.8h.8v.8h-.8zM133.8 323.9h.8v.8h-.8zM132.5 330.3h.8v.8h-.8zM143.2 331.4h.8v.8h-.8zM145.5 340.6h.8v.8h-.8zM135.7 328.8h.8v.8h-.8zM141.2 341.9h.8v.8h-.8zM132.9 333.4h.8v.8h-.8zM142.6 328.6h.8v.8h-.8zM146.1 322.1h.8v.8h-.8zM140.5 333.3h.8v.8h-.8zM142.5 336.0h.8v.8h-.8zM136.4 336.2h.8v.8h-.8zM140.5 330.0h.8v.8h-.8zM126.6 328.9h.8v.8h-.8zM148.5 326.3h.8v.8h-.8zM139.0 327.6h.8v.8h-.8zM127.7 334.8h.8v.8h-.8zM126.5 331.8h.8v.8h-.8zM132.5 338.1h.8v.8h-.8zM148.3 333.6h.8v.8h-.8zM144.8 330.6h.8v.8h-.8zM128.6 334.2h.8v.8h-.8zM128.0 335.7h.8v.8h-.8zM138.0 339.8h.8v.8h-.8zM130.3 326.4h.8v.8h-.8zM135.3 326.9h.8v.8h-.8zM150.4 334.1h.8v.8h-.8zM134.4 329.6h.8v.8h-.8zM127.2 338.0h.8v.8h-.8zM129.8 339.2h.8v.8h-.8zM137.5 331.0h.8v.8h-.8zM141.0 324.7h.8v.8h-.8zM136.8 327.8h.8v.8h-.8zM138.9 347.3h.8v.8h-.8zM140.6 333.2h.8v.8h-.8zM138.8 330.2h.8v.8h-.8zM130.4 331.8h.8v.8h-.8zM126.9 341.0h.8v.8h-.8zM155.8 336.8h.8v.8h-.8zM135.9 339.1h.8v.8h-.8zM124.5 329.9h.8v.8h-.8zM151.4 334.6h.8v.8h-.8zM146.5 324.6h.8v.8h-.8zM140.8 337.1h.8v.8h-.8zM121.7 329.9h.8v.8h-.8zM150.0 329.0h.8v.8h-.8zM147.4 334.5h.8v.8h-.8zM117.2 339.4h.8v.8h-.8zM127.0 331.8h.8v.8h-.8zM148.6 344.0h.8v.8h-.8zM127.2 344.1h.8v.8h-.8zM140.6 331.7h.8v.8h-.8zM136.1 326.2h.8v.8h-.8zM142.9 333.9h.8v.8h-.8zM143.6 331.1h.8v.8h-.8zM135.4 334.6h.8v.8h-.8zM131.2 334.6h.8v.8h-.8zM141.4 338.0h.8v.8h-.8zM138.3 329.0h.8v.8h-.8zM139.8 333.5h.8v.8h-.8zM142.1 335.6h.8v.8h-.8zM140.2 335.1h.8v.8h-.8zM141.7 328.5h.8v.8h-.8zM145.8 329.3h.8v.8h-.8zM138.9 336.8h.8v.8h-.8zM135.6 324.1h.8v.8h-.8zM139.5 331.4h.8v.8h-.8zM143.4 335.3h.8v.8h-.8zM142.4 333.4h.8v.8h-.8zM129.3 331.5h.8v.8h-.8zM150.0 338.6h.8v.8h-.8zM139.4 330.1h.8v.8h-.8zM151.2 330.8h.8v.8h-.8zM115.7 334.7h.8v.8h-.8zM150.5 342.9h.8v.8h-.8zM148.0 329.3h.8v.8h-.8zM134.8 330.6h.8v.8h-.8zM137.8 340.2h.8v.8h-.8zM135.8 330.8h.8v.8h-.8zM131.7 334.5h.8v.8h-.8zM134.9 338.2h.8v.8h-.8zM125.7 327.9h.8v.8h-.8zM124.0 334.2h.8v.8h-.8zM139.9 327.1h.8v.8h-.8zM139.9 332.9h.8v.8h-.8zM129.9 331.2h.8v.8h-.8zM130.6 331.9h.8v.8h-.8zM129.5 336.3h.8v.8h-.8zM133.2 337.2h.8v.8h-.8zM144.5 330.4h.8v.8h-.8zM132.2 331.4h.8v.8h-.8zM122.0 330.4h.8v.8h-.8zM150.1 339.4h.8v.8h-.8zM132.4 331.1h.8v.8h-.8zM140.8 328.6h.8v.8h-.8zM145.0 332.7h.8v.8h-.8zM132.4 328.8h.8v.8h-.8zM143.5 326.2h.8v.8h-.8zM140.5 333.5h.8v.8h-.8zM146.1 328.0h.8v.8h-.8zM154.0 335.0h.8v.8h-.8zM131.4 344.9h.8v.8h-.8zM135.2 340.7h.8v.8h-.8zM135.7 336.5h.8v.8h-.8zM142.6 334.0h.8v.8h-.8zM143.8 331.8h.8v.8h-.8zM132.2 333.0h.8v.8h-.8zM122.4 342.1h.8v.8h-.8zM139.1 334.7h.8v.8h-.8zM140.8 335.6h.8v.8h-.8zM144.0 326.8h.8v.8h-.8zM139.2 339.1h.8v.8h-.8zM139.3 333.5h.8v.8h-.8zM139.6 335.9h.8v.8h-.8zM143.1 344.5h.8v.8h-.8zM148.5 328.7h.8v.8h-.8zM139.6 331.7h.8v.8h-.8zM146.2 338.9h.8v.8h-.8zM131.6 332.4h.8v.8h-.8zM124.1 326.1h.8v.8h-.8zM150.5 333.6h.8v.8h-.8zM142.1 323.1h.8v.8h-.8zM136.7 336.7h.8v.8h-.8zM143.8 325.1h.8v.8h-.8zM139.4 332.9h.8v.8h-.8zM130.6 325.6h.8v.8h-.8zM153.5 329.5h.8v.8h-.8zM140.4 331.4h.8v.8h-.8zM136.8 338.3h.8v.8h-.8zM143.6 333.4h.8v.8h-.8zM135.7 334.5h.8v.8h-.8zM142.6 335.2h.8v.8h-.8zM135.1 333.0h.8v.8h-.8zM144.9 327.5h.8v.8h-.8zM139.6 330.6h.8v.8h-.8zM138.7 330.9h.8v.8h-.8zM135.0 335.9h.8v.8h-.8zM140.8 337.6h.8v.8h-.8zM145.3 327.6h.8v.8h-.8zM142.2 330.6h.8v.8h-.8zM130.7 342.1h.8v.8h-.8zM137.7 320.4h.8v.8h-.8zM142.0 338.5h.8v.8h-.8zM132.1 332.7h.8v.8h-.8zM135.6 335.8h.8v.8h-.8zM125.4 333.0h.8v.8h-.8zM144.0 337.9h.8v.8h-.8zM134.0 334.4h.8v.8h-.8zM146.6 333.2h.8v.8h-.8zM143.0 333.7h.8v.8h-.8zM147.6 333.8h.8v.8h-.8zM143.2 322.3h.8v.8h-.8zM136.1 329.5h.8v.8h-.8zM140.0 333.7h.8v.8h-.8zM136.9 338.0h.8v.8h-.8zM143.2 339.3h.8v.8h-.8zM142.2 340.0h.8v.8h-.8zM135.7 330.9h.8v.8h-.8zM146.1 327.1h.8v.8h-.8zM140.9 337.8h.8v.8h-.8zM133.8 329.6h.8v.8h-.8zM138.0 333.7h.8v.8h-.8zM139.8 330.9h.8v.8h-.8zM135.6 324.9h.8v.8h-.8zM133.6 342.7h.8v.8h-.8zM125.8 336.1h.8v.8h-.8zM133.8 332.8h.8v.8h-.8zM130.5 332.2h.8v.8h-.8zM140.0 336.9h.8v.8h-.8zM134.5 330.3h.8v.8h-.8zM134.1 339.4h.8v.8h-.8zM127.5 336.8h.8v.8h-.8zM140.4 333.1h.8v.8h-.8zM128.2 344.9h.8v.8h-.8zM140.6 342.7h.8v.8h-.8zM145.2 332.3h.8v.8h-.8zM134.1 335.4h.8v.8h-.8zM152.7 329.4h.8v.8h-.8zM149.4 332.7h.8v.8h-.8zM128.0 332.8h.8v.8h-.8zM152.7 330.5h.8v.8h-.8zM135.0 335.4h.8v.8h-.8zM148.4 332.5h.8v.8h-.8zM145.8 324.7h.8v.8h-.8zM139.8 333.2h.8v.8h-.8zM139.1 328.1h.8v.8h-.8zM140.1 336.2h.8v.8h-.8zM145.9 322.4h.8v.8h-.8zM145.6 334.0h.8v.8h-.8zM145.1 335.5h.8v.8h-.8zM128.0 338.9h.8v.8h-.8zM143.3 331.2h.8v.8h-.8zM137.3 328.5h.8v.8h-.8zM137.8 335.3h.8v.8h-.8zM121.8 334.7h.8v.8h-.8zM134.4 327.7h.8v.8h-.8zM148.7 335.0h.8v.8h-.8zM136.3 333.9h.8v.8h-.8zM128.6 338.1h.8v.8h-.8zM136.7 337.5h.8v.8h-.8zM144.8 334.1h.8v.8h-.8zM131.7 331.7h.8v.8h-.8zM137.6 332.2h.8v.8h-.8zM146.9 329.2h.8v.8h-.8zM125.3 335.1h.8v.8h-.8zM137.7 337.1h.8v.8h-.8zM141.8 334.4h.8v.8h-.8zM145.9 330.8h.8v.8h-.8zM138.5 345.1h.8v.8h-.8zM140.7 334.7h.8v.8h-.8zM134.4 332.8h.8v.8h-.8zM145.5 335.9h.8v.8h-.8zM141.1 330.7h.8v.8h-.8zM137.3 338.4h.8v.8h-.8zM136.8 344.9h.8v.8h-.8zM139.2 329.9h.8v.8h-.8zM146.3 336.4h.8v.8h-.8zM141.2 335.0h.8v.8h-.8zM142.9 335.8h.8v.8h-.8zM146.6 330.3h.8v.8h-.8zM139.7 340.6h.8v.8h-.8zM148.2 334.2h.8v.8h-.8zM141.9 328.5h.8v.8h-.8zM143.6 334.9h.8v.8h-.8zM126.9 347.7h.8v.8h-.8zM142.1 321.4h.8v.8h-.8zM149.0 330.4h.8v.8h-.8zM147.6 339.9h.8v.8h-.8zM148.4 327.2h.8v.8h-.8zM144.7 324.3h.8v.8h-.8zM142.5 332.0h.8v.8h-.8zM140.7 329.2h.8v.8h-.8zM140.1 339.5h.8v.8h-.8zM141.9 323.6h.8v.8h-.8zM147.6 336.4h.8v.8h-.8zM132.7 340.3h.8v.8h-.8zM142.6 333.2h.8v.8h-.8zM143.9 335.0h.8v.8h-.8zM126.4 337.7h.8v.8h-.8zM146.4 327.7h.8v.8h-.8zM130.7 338.3h.8v.8h-.8zM146.2 330.5h.8v.8h-.8zM123.9 343.9h.8v.8h-.8zM125.4 333.9h.8v.8h-.8zM130.5 334.4h.8v.8h-.8zM151.1 335.5h.8v.8h-.8zM129.8 332.4h.8v.8h-.8zM147.6 326.8h.8v.8h-.8zM130.0 332.9h.8v.8h-.8zM129.3 326.7h.8v.8h-.8zM121.7 344.9h.8v.8h-.8zM123.7 330.6h.8v.8h-.8zM142.3 330.7h.8v.8h-.8zM136.7 338.7h.8v.8h-.8zM132.1 337.5h.8v.8h-.8zM138.8 337.0h.8v.8h-.8zM139.8 331.7h.8v.8h-.8zM131.4 332.2h.8v.8h-.8zM124.3 332.4h.8v.8h-.8zM134.7 341.2h.8v.8h-.8zM129.8 328.3h.8v.8h-.8zM121.7 343.3h.8v.8h-.8zM134.3 338.4h.8v.8h-.8zM135.9 336.5h.8v.8h-.8zM128.2 333.4h.8v.8h-.8zM145.9 324.6h.8v.8h-.8zM145.1 339.2h.8v.8h-.8zM119.2 335.7h.8v.8h-.8zM142.0 331.0h.8v.8h-.8zM147.6 335.3h.8v.8h-.8zM147.6 336.8h.8v.8h-.8zM141.5 328.2h.8v.8h-.8zM133.4 332.4h.8v.8h-.8zM142.7 342.9h.8v.8h-.8zM137.2 333.3h.8v.8h-.8zM148.0 335.2h.8v.8h-.8zM133.7 331.9h.8v.8h-.8zM151.2 331.6h.8v.8h-.8zM138.2 336.9h.8v.8h-.8zM125.8 331.8h.8v.8h-.8zM139.2 320.2h.8v.8h-.8zM139.8 334.1h.8v.8h-.8zM142.3 337.5h.8v.8h-.8zM142.4 334.9h.8v.8h-.8zM139.5 334.4h.8v.8h-.8zM133.8 321.4h.8v.8h-.8zM138.6 333.9h.8v.8h-.8zM133.6 340.8h.8v.8h-.8zM130.1 335.4h.8v.8h-.8zM126.5 340.8h.8v.8h-.8zM154.3 339.7h.8v.8h-.8zM143.6 331.2h.8v.8h-.8zM147.9 329.0h.8v.8h-.8zM139.6 330.8h.8v.8h-.8zM138.0 330.1h.8v.8h-.8zM142.6 321.9h.8v.8h-.8zM138.6 333.8h.8v.8h-.8zM151.6 333.4h.8v.8h-.8zM134.8 334.6h.8v.8h-.8zM148.2 337.1h.8v.8h-.8zM118.8 326.5h.8v.8h-.8zM126.9 325.1h.8v.8h-.8zM143.6 321.4h.8v.8h-.8zM139.0 332.0h.8v.8h-.8zM143.6 328.2h.8v.8h-.8zM114.5 341.6h.8v.8h-.8zM149.5 328.3h.8v.8h-.8zM141.1 344.3h.8v.8h-.8zM131.8 342.4h.8v.8h-.8zM132.6 328.7h.8v.8h-.8zM121.9 342.0h.8v.8h-.8zM138.5 342.0h.8v.8h-.8zM142.6 338.1h.8v.8h-.8zM133.8 325.7h.8v.8h-.8zM132.4 328.1h.8v.8h-.8zM145.3 336.7h.8v.8h-.8zM136.6 329.7h.8v.8h-.8zM138.9 331.0h.8v.8h-.8zM141.7 329.6h.8v.8h-.8zM143.7 333.0h.8v.8h-.8zM140.5 333.5h.8v.8h-.8zM138.6 330.5h.8v.8h-.8zM143.3 335.5h.8v.8h-.8zM137.5 338.7h.8v.8h-.8zM150.9 321.9h.8v.8h-.8zM139.8 336.6h.8v.8h-.8zM145.9 329.8h.8v.8h-.8zM139.9 334.0h.8v.8h-.8zM126.6 334.9h.8v.8h-.8zM146.7 340.1h.8v.8h-.8zM142.2 335.7h.8v.8h-.8zM138.8 332.6h.8v.8h-.8zM146.7 330.4h.8v.8h-.8zM134.7 331.3h.8v.8h-.8zM132.9 335.1h.8v.8h-.8zM139.7 336.0h.8v.8h-.8zM130.2 336.0h.8v.8h-.8zM129.6 325.4h.8v.8h-.8zM121.3 333.6h.8v.8h-.8zM143.9 321.8h.8v.8h-.8zM140.4 335.2h.8v.8h-.8zM134.1 332.5h.8v.8h-.8zM125.4 336.2h.8v.8h-.8zM135.9 331.0h.8v.8h-.8zM138.7 328.3h.8v.8h-.8zM147.1 335.7h.8v.8h-.8zM131.6 331.9h.8v.8h-.8zM122.9 345.4h.8v.8h-.8zM143.3 326.2h.8v.8h-.8zM147.5 333.0h.8v.8h-.8zM140.1 337.4h.8v.8h-.8zM147.1 336.5h.8v.8h-.8zM138.1 343.0h.8v.8h-.8zM138.1 329.7h.8v.8h-.8zM143.2 340.8h.8v.8h-.8zM129.1 337.6h.8v.8h-.8zM136.1 341.2h.8v.8h-.8zM142.1 336.2h.8v.8h-.8zM144.3 325.1h.8v.8h-.8zM148.3 342.4h.8v.8h-.8zM137.1 327.1h.8v.8h-.8zM132.3 334.6h.8v.8h-.8zM118.9 339.8h.8v.8h-.8zM149.3 335.9h.8v.8h-.8zM138.3 322.1h.8v.8h-.8zM136.9 339.5h.8v.8h-.8zM142.5 332.3h.8v.8h-.8zM142.1 338.2h.8v.8h-.8zM140.2 325.9h.8v.8h-.8zM145.0 331.2h.8v.8h-.8zM143.1 335.3h.8v.8h-.8zM128.1 338.8h.8v.8h-.8zM139.7 329.2h.8v.8h-.8zM137.3 324.6h.8v.8h-.8zM146.5 323.7h.8v.8h-.8zM149.3 341.9h.8v.8h-.8zM130.7 342.4h.8v.8h-.8zM141.7 333.9h.8v.8h-.8zM134.6 341.0h.8v.8h-.8zM119.5 337.8h.8v.8h-.8zM146.3 336.9h.8v.8h-.8zM133.6 337.9h.8v.8h-.8zM137.9 330.9h.8v.8h-.8zM122.1 333.9h.8v.8h-.8zM135.3 336.8h.8v.8h-.8zM141.0 329.5h.8v.8h-.8zM136.8 338.2h.8v.8h-.8zM136.9 331.0h.8v.8h-.8zM147.8 332.3h.8v.8h-.8zM119.2 335.6h.8v.8h-.8zM147.0 330.6h.8v.8h-.8zM145.4 332.8h.8v.8h-.8zM136.6 324.8h.8v.8h-.8zM137.6 329.3h.8v.8h-.8zM141.4 332.3h.8v.8h-.8zM126.4 336.8h.8v.8h-.8zM129.4 335.3h.8v.8h-.8zM140.7 335.0h.8v.8h-.8zM131.6 336.5h.8v.8h-.8zM135.3 335.8h.8v.8h-.8zM138.5 333.1h.8v.8h-.8zM135.9 340.3h.8v.8h-.8zM127.2 342.7h.8v.8h-.8zM140.8 335.6h.8v.8h-.8zM132.6 337.4h.8v.8h-.8zM141.2 330.2h.8v.8h-.8zM144.3 334.2h.8v.8h-.8zM135.6 322.1h.8v.8h-.8zM150.5 338.0h.8v.8h-.8zM139.4 337.2h.8v.8h-.8zM121.4 343.3h.8v.8h-.8zM142.4 337.7h.8v.8h-.8zM151.2 332.2h.8v.8h-.8zM138.5 333.4h.8v.8h-.8zM138.2 328.0h.8v.8h-.8zM149.0 326.7h.8v.8h-.8zM136.3 329.3h.8v.8h-.8zM141.9 332.0h.8v.8h-.8zM139.7 330.2h.8v.8h-.8zM138.4 329.3h.8v.8h-.8zM138.3 329.7h.8v.8h-.8zM137.9 338.6h.8v.8h-.8zM128.4 337.8h.8v.8h-.8zM139.9 327.3h.8v.8h-.8zM138.2 331.8h.8v.8h-.8zM150.3 337.5h.8v.8h-.8zM146.2 329.9h.8v.8h-.8zM147.0 328.3h.8v.8h-.8zM149.6 327.0h.8v.8h-.8zM146.9 320.0h.8v.8h-.8zM131.4 339.3h.8v.8h-.8zM134.7 332.2h.8v.8h-.8zM123.3 345.4h.8v.8h-.8zM145.0 338.2h.8v.8h-.8zM133.2 331.3h.8v.8h-.8zM134.7 333.7h.8v.8h-.8zM132.5 327.0h.8v.8h-.8zM149.3 331.7h.8v.8h-.8zM146.2 332.8h.8v.8h-.8zM140.7 336.4h.8v.8h-.8zM146.0 331.4h.8v.8h-.8zM150.7 336.1h.8v.8h-.8zM143.2 337.0h.8v.8h-.8zM148.6 331.9h.8v.8h-.8zM139.7 329.3h.8v.8h-.8zM133.0 337.3h.8v.8h-.8zM141.2 341.0h.8v.8h-.8zM128.8 336.5h.8v.8h-.8zM137.2 335.7h.8v.8h-.8zM134.6 328.9h.8v.8h-.8zM147.9 336.6h.8v.8h-.8zM135.7 337.4h.8v.8h-.8zM140.6 338.5h.8v.8h-.8zM133.3 334.3h.8v.8h-.8zM141.5 332.8h.8v.8h-.8zM147.6 334.7h.8v.8h-.8zM137.7 329.3h.8v.8h-.8zM146.9 341.5h.8v.8h-.8zM144.3 336.2h.8v.8h-.8zM130.8 345.1h.8v.8h-.8zM145.2 327.2h.8v.8h-.8zM136.9 342.8h.8v.8h-.8zM137.1 338.9h.8v.8h-.8zM142.6 327.3h.8v.8h-.8zM136.4 338.5h.8v.8h-.8zM141.5 325.4h.8v.8h-.8zM147.2 330.8h.8v.8h-.8zM137.1 335.8h.8v.8h-.8zM138.1 339.7h.8v.8h-.8zM149.5 325.7h.8v.8h-.8zM135.4 345.8h.8v.8h-.8zM130.4 343.6h.8v.8h-.8zM133.9 335.5h.8v.8h-.8zM136.1 335.6h.8v.8h-.8zM139.9 328.4h.8v.8h-.8zM143.4 342.9h.8v.8h-.8zM131.7 336.8h.8v.8h-.8zM137.6 334.6h.8v.8h-.8zM141.4 329.1h.8v.8h-.8zM127.8 328.1h.8v.8h-.8zM130.5 332.8h.8v.8h-.8zM143.5 335.4h.8v.8h-.8zM130.3 334.6h.8v.8h-.8zM138.7 335.6h.8v.8h-.8zM136.3 335.6h.8v.8h-.8zM144.5 339.5h.8v.8h-.8zM141.3 327.3h.8v.8h-.8zM142.6 346.4h.8v.8h-.8zM143.2 336.3h.8v.8h-.8zM126.9 332.7h.8v.8h-.8zM143.6 326.7h.8v.8h-.8zM132.7 338.6h.8v.8h-.8zM137.6 332.6h.8v.8h-.8zM141.8 330.2h.8v.8h-.8zM137.8 333.4h.8v.8h-.8zM122.9 339.0h.8v.8h-.8zM137.5 337.8h.8v.8h-.8zM150.4 325.9h.8v.8h-.8zM150.1 327.6h.8v.8h-.8zM139.9 335.6h.8v.8h-.8zM127.1 332.4h.8v.8h-.8zM144.6 331.5h.8v.8h-.8zM141.9 329.5h.8v.8h-.8zM137.3 333.6h.8v.8h-.8zM141.0 338.0h.8v.8h-.8zM138.0 328.5h.8v.8h-.8zM141.0 329.2h.8v.8h-.8zM146.9 325.2h.8v.8h-.8zM142.3 327.7h.8v.8h-.8zM129.1 336.9h.8v.8h-.8zM133.0 333.2h.8v.8h-.8zM139.0 330.9h.8v.8h-.8zM130.6 335.6h.8v.8h-.8zM134.1 325.1h.8v.8h-.8zM140.0 334.7h.8v.8h-.8zM138.1 335.4h.8v.8h-.8zM142.4 337.9h.8v.8h-.8zM126.2 343.1h.8v.8h-.8zM134.8 342.0h.8v.8h-.8zM142.1 340.4h.8v.8h-.8zM140.7 330.7h.8v.8h-.8zM146.3 334.0h.8v.8h-.8zM141.5 338.6h.8v.8h-.8zM119.5 341.5h.8v.8h-.8zM146.4 333.7h.8v.8h-.8zM135.4 340.6h.8v.8h-.8zM134.4 333.6h.8v.8h-.8zM140.6 331.8h.8v.8h-.8zM137.0 331.8h.8v.8h-.8zM128.3 334.3h.8v.8h-.8zM132.6 338.1h.8v.8h-.8zM135.5 348.8h.8v.8h-.8zM148.9 332.1h.8v.8h-.8zM135.9 332.9h.8v.8h-.8zM142.0 338.6h.8v.8h-.8zM125.9 336.1h.8v.8h-.8zM143.6 333.8h.8v.8h-.8zM134.3 325.6h.8v.8h-.8zM145.5 344.8h.8v.8h-.8zM138.8 324.8h.8v.8h-.8zM128.0 341.8h.8v.8h-.8zM138.1 329.7h.8v.8h-.8zM142.4 333.3h.8v.8h-.8zM140.3 332.3h.8v.8h-.8zM136.3 326.9h.8v.8h-.8zM130.6 329.1h.8v.8h-.8zM132.1 341.5h.8v.8h-.8zM131.0 328.0h.8v.8h-.8zM129.8 335.1h.8v.8h-.8zM123.7 340.6h.8v.8h-.8zM123.5 340.0h.8v.8h-.8zM135.9 335.2h.8v.8h-.8zM123.9 328.8h.8v.8h-.8zM139.6 331.6h.8v.8h-.8zM135.6 330.0h.8v.8h-.8zM146.7 328.8h.8v.8h-.8zM125.0 333.3h.8v.8h-.8zM145.2 333.0h.8v.8h-.8zM134.5 336.5h.8v.8h-.8zM119.3 328.8h.8v.8h-.8zM132.9 337.4h.8v.8h-.8zM143.3 339.0h.8v.8h-.8zM152.6 331.8h.8v.8h-.8zM148.6 337.5h.8v.8h-.8zM127.5 327.1h.8v.8h-.8zM131.0 343.3h.8v.8h-.8zM133.9 341.5h.8v.8h-.8zM143.8 335.3h.8v.8h-.8zM144.2 335.8h.8v.8h-.8zM140.8 334.9h.8v.8h-.8zM139.7 341.2h.8v.8h-.8zM135.7 337.1h.8v.8h-.8zM137.4 337.8h.8v.8h-.8zM123.9 343.5h.8v.8h-.8zM127.8 336.9h.8v.8h-.8zM126.1 341.9h.8v.8h-.8zM138.2 321.2h.8v.8h-.8zM129.4 336.5h.8v.8h-.8zM143.0 332.2h.8v.8h-.8zM141.0 333.1h.8v.8h-.8zM142.2 328.2h.8v.8h-.8zM134.2 335.8h.8v.8h-.8zM139.0 331.0h.8v.8h-.8zM121.8 330.2h.8v.8h-.8zM129.2 334.8h.8v.8h-.8zM142.7 337.1h.8v.8h-.8zM143.2 330.3h.8v.8h-.8zM141.8 333.5h.8v.8h-.8zM136.0 328.8h.8v.8h-.8zM137.6 328.7h.8v.8h-.8zM133.8 332.7h.8v.8h-.8zM147.2 325.4h.8v.8h-.8zM137.3 337.3h.8v.8h-.8zM140.1 326.2h.8v.8h-.8zM145.8 332.1h.8v.8h-.8zM130.5 332.9h.8v.8h-.8zM136.9 337.0h.8v.8h-.8zM125.0 338.1h.8v.8h-.8zM139.0 330.7h.8v.8h-.8zM132.0 333.8h.8v.8h-.8zM144.4 331.0h.8v.8h-.8zM145.3 331.3h.8v.8h-.8zM142.5 332.0h.8v.8h-.8zM135.6 328.7h.8v.8h-.8zM141.9 327.2h.8v.8h-.8zM135.6 333.9h.8v.8h-.8zM135.1 328.7h.8v.8h-.8zM142.9 333.6h.8v.8h-.8zM144.1 336.8h.8v.8h-.8zM142.6 332.9h.8v.8h-.8zM144.3 337.8h.8v.8h-.8zM132.1 328.6h.8v.8h-.8zM128.1 334.2h.8v.8h-.8zM146.8 326.7h.8v.8h-.8zM139.8 328.7h.8v.8h-.8zM144.8 324.0h.8v.8h-.8zM147.8 328.6h.8v.8h-.8zM130.1 331.1h.8v.8h-.8zM139.6 334.2h.8v.8h-.8zM138.0 335.2h.8v.8h-.8zM134.2 336.5h.8v.8h-.8zM116.6 327.3h.8v.8h-.8zM139.1 331.3h.8v.8h-.8zM134.1 328.7h.8v.8h-.8zM134.9 339.0h.8v.8h-.8zM133.0 331.9h.8v.8h-.8zM130.1 335.3h.8v.8h-.8zM145.1 329.4h.8v.8h-.8zM139.1 337.1h.8v.8h-.8zM142.4 323.7h.8v.8h-.8zM133.1 335.8h.8v.8h-.8zM144.5 332.2h.8v.8h-.8zM143.2 342.1h.8v.8h-.8zM138.9 335.6h.8v.8h-.8zM142.2 338.3h.8v.8h-.8zM125.1 332.2h.8v.8h-.8zM136.8 333.9h.8v.8h-.8zM134.4 344.0h.8v.8h-.8zM147.2 337.6h.8v.8h-.8zM134.9 335.6h.8v.8h-.8zM151.4 327.5h.8v.8h-.8zM140.3 326.5h.8v.8h-.8zM134.9 324.6h.8v.8h-.8zM136.5 336.3h.8v.8h-.8zM134.6 339.7h.8v.8h-.8zM144.0 329.4h.8v.8h-.8zM124.0 341.3h.8v.8h-.8zM143.2 334.7h.8v.8h-.8zM135.6 332.9h.8v.8h-.8zM142.3 334.7h.8v.8h-.8zM128.6 327.0h.8v.8h-.8zM119.4 333.7h.8v.8h-.8zM150.5 329.7h.8v.8h-.8zM141.3 328.2h.8v.8h-.8zM142.2 326.7h.8v.8h-.8zM153.4 332.2h.8v.8h-.8zM131.6 341.5h.8v.8h-.8zM135.9 334.4h.8v.8h-.8zM155.6 329.3h.8v.8h-.8zM151.8 330.9h.8v.8h-.8zM132.9 331.5h.8v.8h-.8zM148.0 323.7h.8v.8h-.8zM137.4 342.3h.8v.8h-.8zM142.8 328.8h.8v.8h-.8zM148.0 330.7h.8v.8h-.8zM147.0 335.0h.8v.8h-.8zM153.9 326.3h.8v.8h-.8zM141.7 332.0h.8v.8h-.8zM112.9 334.7h.8v.8h-.8zM134.7 332.5h.8v.8h-.8zM138.9 343.2h.8v.8h-.8zM140.7 338.9h.8v.8h-.8zM143.0 337.6h.8v.8h-.8zM142.2 331.7h.8v.8h-.8zM120.3 332.1h.8v.8h-.8zM135.8 339.5h.8v.8h-.8zM124.6 326.0h.8v.8h-.8zM135.2 331.1h.8v.8h-.8zM140.6 330.7h.8v.8h-.8zM112.6 342.7h.8v.8h-.8zM148.7 327.8h.8v.8h-.8zM140.6 334.3h.8v.8h-.8zM155.9 337.5h.8v.8h-.8zM147.5 337.9h.8v.8h-.8zM142.4 333.2h.8v.8h-.8zM150.7 331.2h.8v.8h-.8zM142.1 332.5h.8v.8h-.8zM136.1 327.5h.8v.8h-.8zM134.4 338.7h.8v.8h-.8zM149.3 334.7h.8v.8h-.8zM134.7 331.4h.8v.8h-.8zM129.0 333.0h.8v.8h-.8zM143.0 335.4h.8v.8h-.8zM144.2 332.8h.8v.8h-.8zM133.3 335.0h.8v.8h-.8zM151.8 332.9h.8v.8h-.8zM141.6 331.8h.8v.8h-.8zM147.2 324.7h.8v.8h-.8zM136.3 335.4h.8v.8h-.8zM136.4 332.4h.8v.8h-.8zM129.0 337.7h.8v.8h-.8zM136.7 326.1h.8v.8h-.8zM140.4 329.4h.8v.8h-.8zM129.5 334.9h.8v.8h-.8zM134.1 328.4h.8v.8h-.8zM136.4 332.7h.8v.8h-.8zM125.2 339.9h.8v.8h-.8zM140.4 330.6h.8v.8h-.8zM124.9 328.2h.8v.8h-.8zM137.0 332.6h.8v.8h-.8zM134.4 334.5h.8v.8h-.8zM131.6 333.2h.8v.8h-.8zM153.1 327.1h.8v.8h-.8zM138.8 342.3h.8v.8h-.8zM144.5 337.6h.8v.8h-.8zM128.5 336.4h.8v.8h-.8zM141.6 337.1h.8v.8h-.8zM139.5 327.6h.8v.8h-.8zM131.5 335.9h.8v.8h-.8zM156.3 328.5h.8v.8h-.8zM147.7 339.1h.8v.8h-.8zM141.6 331.1h.8v.8h-.8zM143.4 335.4h.8v.8h-.8zM131.0 332.9h.8v.8h-.8zM132.9 333.3h.8v.8h-.8zM146.8 322.5h.8v.8h-.8zM152.1 333.4h.8v.8h-.8zM134.2 338.9h.8v.8h-.8zM142.8 337.3h.8v.8h-.8zM131.6 328.8h.8v.8h-.8zM128.7 334.2h.8v.8h-.8zM135.6 326.8h.8v.8h-.8zM144.7 339.9h.8v.8h-.8zM145.7 326.7h.8v.8h-.8zM145.7 335.7h.8v.8h-.8zM136.6 336.2h.8v.8h-.8zM136.7 334.0h.8v.8h-.8zM127.0 325.5h.8v.8h-.8zM137.8 330.3h.8v.8h-.8zM133.0 341.1h.8v.8h-.8zM120.4 336.5h.8v.8h-.8zM137.9 334.7h.8v.8h-.8zM142.8 329.4h.8v.8h-.8zM132.0 328.2h.8v.8h-.8zM135.3 329.5h.8v.8h-.8zM146.3 335.4h.8v.8h-.8zM141.4 332.3h.8v.8h-.8zM141.0 331.5h.8v.8h-.8zM130.5 330.2h.8v.8h-.8zM141.2 325.4h.8v.8h-.8zM141.8 334.0h.8v.8h-.8zM132.4 338.8h.8v.8h-.8zM144.8 324.2h.8v.8h-.8zM137.0 326.9h.8v.8h-.8zM142.7 325.8h.8v.8h-.8zM137.7 335.4h.8v.8h-.8zM133.6 338.2h.8v.8h-.8zM144.2 337.8h.8v.8h-.8zM136.5 334.4h.8v.8h-.8zM139.0 331.8h.8v.8h-.8z" fill="#5a5e80" fill-opacity="0.6"/>
<path d="M141.9 329.1h.8v.8h-.8zM136.6 333.2h.8v.8h-.8zM141.5 326.9h.8v.8h-.8zM141.0 332.7h.8v.8h-.8zM145.2 333.3h.8v.8h-.8zM144.3 334.1h.8v.8h-.8zM140.5 329.2h.8v.8h-.8zM146.2 330.6h.8v.8h-.8zM143.1 334.3h.8v.8h-.8zM147.8 336.3h.8v.8h-.8zM139.5 330.7h.8v.8h-.8zM145.9 327.0h.8v.8h-.8zM136.6 334.1h.8v.8h-.8zM139.9 328.8h.8v.8h-.8zM147.2 333.9h.8v.8h-.8zM147.7 330.8h.8v.8h-.8zM141.6 330.8h.8v.8h-.8zM144.6 324.9h.8v.8h-.8zM139.5 334.5h.8v.8h-.8zM139.0 331.8h.8v.8h-.8zM143.7 333.8h.8v.8h-.8zM140.6 328.0h.8v.8h-.8zM155.8 329.5h.8v.8h-.8zM151.8 325.8h.8v.8h-.8zM143.6 331.3h.8v.8h-.8zM152.7 339.1h.8v.8h-.8zM148.0 328.5h.8v.8h-.8zM138.9 329.4h.8v.8h-.8zM140.4 332.9h.8v.8h-.8zM139.0 331.1h.8v.8h-.8zM150.6 337.0h.8v.8h-.8zM133.5 328.7h.8v.8h-.8zM141.1 336.5h.8v.8h-.8zM141.4 338.7h.8v.8h-.8zM144.9 337.0h.8v.8h-.8zM138.7 330.9h.8v.8h-.8zM148.3 334.0h.8v.8h-.8zM133.5 331.0h.8v.8h-.8zM144.0 334.2h.8v.8h-.8zM139.8 338.1h.8v.8h-.8zM143.8 337.1h.8v.8h-.8zM145.1 332.3h.8v.8h-.8zM141.4 327.9h.8v.8h-.8zM147.5 334.7h.8v.8h-.8zM147.8 330.7h.8v.8h-.8zM137.9 330.7h.8v.8h-.8zM141.5 332.0h.8v.8h-.8zM148.1 328.8h.8v.8h-.8zM140.6 334.4h.8v.8h-.8zM147.7 339.7h.8v.8h-.8zM145.7 329.0h.8v.8h-.8zM137.7 329.2h.8v.8h-.8zM143.4 332.9h.8v.8h-.8zM142.7 329.9h.8v.8h-.8zM142.1 331.7h.8v.8h-.8zM146.1 332.3h.8v.8h-.8zM138.9 327.9h.8v.8h-.8zM150.6 331.7h.8v.8h-.8zM142.2 331.9h.8v.8h-.8zM148.8 330.9h.8v.8h-.8zM144.0 331.2h.8v.8h-.8zM146.0 328.5h.8v.8h-.8zM144.1 335.6h.8v.8h-.8zM149.1 334.2h.8v.8h-.8zM144.6 337.5h.8v.8h-.8zM146.7 336.9h.8v.8h-.8zM136.9 328.2h.8v.8h-.8zM147.1 331.1h.8v.8h-.8zM140.9 328.7h.8v.8h-.8zM150.6 327.8h.8v.8h-.8zM143.6 327.1h.8v.8h-.8zM142.2 339.8h.8v.8h-.8zM155.5 330.3h.8v.8h-.8zM137.9 337.7h.8v.8h-.8zM138.7 325.8h.8v.8h-.8zM144.8 328.2h.8v.8h-.8zM135.7 335.9h.8v.8h-.8zM139.3 328.3h.8v.8h-.8zM143.9 331.3h.8v.8h-.8zM148.8 332.3h.8v.8h-.8zM151.2 336.0h.8v.8h-.8zM152.1 335.9h.8v.8h-.8zM143.4 333.9h.8v.8h-.8zM143.2 326.6h.8v.8h-.8zM137.1 334.6h.8v.8h-.8zM131.0 329.1h.8v.8h-.8zM136.5 331.8h.8v.8h-.8zM137.8 332.9h.8v.8h-.8zM142.1 330.4h.8v.8h-.8zM138.8 324.3h.8v.8h-.8zM143.5 327.5h.8v.8h-.8zM141.6 333.3h.8v.8h-.8zM148.4 334.5h.8v.8h-.8zM150.6 327.1h.8v.8h-.8zM146.5 337.5h.8v.8h-.8zM145.1 328.1h.8v.8h-.8zM145.1 330.2h.8v.8h-.8zM139.8 335.7h.8v.8h-.8zM142.2 328.1h.8v.8h-.8zM139.6 338.8h.8v.8h-.8zM138.8 334.4h.8v.8h-.8zM144.0 336.1h.8v.8h-.8zM141.7 328.7h.8v.8h-.8zM139.8 328.4h.8v.8h-.8zM156.3 332.7h.8v.8h-.8zM141.5 336.4h.8v.8h-.8zM146.4 331.4h.8v.8h-.8zM146.2 333.0h.8v.8h-.8zM148.8 337.8h.8v.8h-.8zM141.5 331.9h.8v.8h-.8zM142.2 336.3h.8v.8h-.8zM145.0 334.7h.8v.8h-.8zM147.7 329.8h.8v.8h-.8zM143.7 336.8h.8v.8h-.8zM147.8 334.8h.8v.8h-.8zM141.7 330.8h.8v.8h-.8zM138.7 331.1h.8v.8h-.8zM142.8 327.0h.8v.8h-.8zM149.0 329.3h.8v.8h-.8zM144.4 334.1h.8v.8h-.8zM140.3 325.7h.8v.8h-.8zM148.0 333.4h.8v.8h-.8zM141.8 336.0h.8v.8h-.8zM147.6 328.7h.8v.8h-.8zM142.7 325.9h.8v.8h-.8zM141.8 336.9h.8v.8h-.8zM138.8 334.9h.8v.8h-.8zM135.4 331.0h.8v.8h-.8zM147.9 338.0h.8v.8h-.8zM145.4 334.6h.8v.8h-.8zM151.8 323.5h.8v.8h-.8zM134.4 338.6h.8v.8h-.8zM155.6 334.1h.8v.8h-.8zM143.4 332.9h.8v.8h-.8zM143.2 329.9h.8v.8h-.8zM143.0 331.6h.8v.8h-.8zM146.5 334.4h.8v.8h-.8zM148.1 334.1h.8v.8h-.8zM138.2 336.9h.8v.8h-.8zM129.5 332.4h.8v.8h-.8zM144.8 330.2h.8v.8h-.8zM152.6 328.2h.8v.8h-.8zM137.2 330.3h.8v.8h-.8zM145.2 334.8h.8v.8h-.8zM143.6 334.3h.8v.8h-.8zM139.5 329.9h.8v.8h-.8zM143.8 327.3h.8v.8h-.8zM144.0 330.6h.8v.8h-.8zM146.5 328.5h.8v.8h-.8zM140.4 330.0h.8v.8h-.8zM141.2 328.5h.8v.8h-.8zM141.8 327.3h.8v.8h-.8zM145.8 334.3h.8v.8h-.8zM143.0 331.4h.8v.8h-.8zM138.6 328.7h.8v.8h-.8zM142.0 328.9h.8v.8h-.8zM137.1 332.6h.8v.8h-.8zM143.0 330.6h.8v.8h-.8zM139.0 331.8h.8v.8h-.8zM139.6 330.5h.8v.8h-.8zM144.0 334.5h.8v.8h-.8zM146.9 329.9h.8v.8h-.8zM149.2 328.0h.8v.8h-.8zM142.2 336.5h.8v.8h-.8zM155.1 332.5h.8v.8h-.8zM141.3 330.7h.8v.8h-.8zM137.0 331.5h.8v.8h-.8zM140.9 329.4h.8v.8h-.8zM149.1 329.3h.8v.8h-.8zM151.6 334.9h.8v.8h-.8zM146.3 330.0h.8v.8h-.8zM140.5 325.1h.8v.8h-.8zM144.5 331.1h.8v.8h-.8zM145.0 329.7h.8v.8h-.8zM145.5 326.8h.8v.8h-.8zM132.1 333.7h.8v.8h-.8zM148.5 321.1h.8v.8h-.8zM149.6 330.8h.8v.8h-.8zM142.3 326.7h.8v.8h-.8zM138.1 334.5h.8v.8h-.8zM139.4 331.9h.8v.8h-.8zM142.3 338.9h.8v.8h-.8zM147.6 327.4h.8v.8h-.8zM140.7 328.0h.8v.8h-.8zM136.1 329.6h.8v.8h-.8zM148.6 332.2h.8v.8h-.8zM146.5 331.5h.8v.8h-.8zM141.0 332.3h.8v.8h-.8zM142.7 338.7h.8v.8h-.8zM152.1 333.3h.8v.8h-.8zM146.1 325.1h.8v.8h-.8zM142.5 340.3h.8v.8h-.8zM139.1 334.8h.8v.8h-.8zM149.2 330.6h.8v.8h-.8zM141.9 330.4h.8v.8h-.8zM147.1 332.1h.8v.8h-.8zM150.6 336.1h.8v.8h-.8zM143.0 341.1h.8v.8h-.8zM141.5 329.9h.8v.8h-.8zM141.9 328.9h.8v.8h-.8zM141.0 331.8h.8v.8h-.8zM147.5 326.5h.8v.8h-.8zM136.0 329.3h.8v.8h-.8zM141.5 333.6h.8v.8h-.8zM139.1 337.3h.8v.8h-.8zM140.4 331.3h.8v.8h-.8zM143.3 336.1h.8v.8h-.8zM144.6 332.1h.8v.8h-.8zM140.3 332.6h.8v.8h-.8zM145.1 330.8h.8v.8h-.8zM143.0 325.6h.8v.8h-.8zM140.4 336.1h.8v.8h-.8zM150.2 331.8h.8v.8h-.8zM132.2 338.4h.8v.8h-.8zM142.2 341.0h.8v.8h-.8zM141.0 335.5h.8v.8h-.8zM140.0 336.8h.8v.8h-.8zM148.9 328.3h.8v.8h-.8zM149.6 342.0h.8v.8h-.8zM141.9 327.8h.8v.8h-.8zM144.5 330.6h.8v.8h-.8zM135.6 328.3h.8v.8h-.8zM144.3 326.7h.8v.8h-.8zM148.5 333.6h.8v.8h-.8zM142.2 336.9h.8v.8h-.8zM138.4 334.4h.8v.8h-.8zM136.3 330.9h.8v.8h-.8zM146.3 330.1h.8v.8h-.8zM142.5 334.3h.8v.8h-.8zM150.7 336.5h.8v.8h-.8zM145.4 331.1h.8v.8h-.8zM135.8 338.0h.8v.8h-.8zM152.5 324.5h.8v.8h-.8zM147.4 331.9h.8v.8h-.8zM146.6 333.1h.8v.8h-.8zM142.1 332.0h.8v.8h-.8zM142.9 336.1h.8v.8h-.8zM141.7 330.1h.8v.8h-.8zM146.3 334.3h.8v.8h-.8zM145.2 333.0h.8v.8h-.8zM150.4 335.9h.8v.8h-.8zM144.1 331.3h.8v.8h-.8zM146.4 325.5h.8v.8h-.8zM140.4 329.5h.8v.8h-.8zM143.9 330.7h.8v.8h-.8zM155.4 334.6h.8v.8h-.8zM145.1 339.9h.8v.8h-.8zM143.0 330.9h.8v.8h-.8zM149.2 334.9h.8v.8h-.8zM147.7 336.2h.8v.8h-.8zM141.2 329.7h.8v.8h-.8zM139.4 332.4h.8v.8h-.8zM148.1 328.3h.8v.8h-.8zM140.4 327.3h.8v.8h-.8zM153.1 334.8h.8v.8h-.8zM144.1 327.7h.8v.8h-.8zM137.9 329.7h.8v.8h-.8zM143.2 327.6h.8v.8h-.8zM141.9 336.3h.8v.8h-.8zM143.1 332.3h.8v.8h-.8zM132.6 331.1h.8v.8h-.8zM142.3 329.6h.8v.8h-.8zM136.1 331.8h.8v.8h-.8zM137.9 330.1h.8v.8h-.8zM135.1 331.7h.8v.8h-.8zM147.6 329.1h.8v.8h-.8zM144.7 326.7h.8v.8h-.8zM145.9 333.9h.8v.8h-.8zM141.1 335.1h.8v.8h-.8zM138.7 332.2h.8v.8h-.8zM151.5 331.9h.8v.8h-.8zM137.4 336.0h.8v.8h-.8zM145.7 331.0h.8v.8h-.8zM134.0 325.4h.8v.8h-.8zM135.4 337.2h.8v.8h-.8zM144.5 329.0h.8v.8h-.8zM148.8 337.1h.8v.8h-.8zM138.8 333.7h.8v.8h-.8zM134.8 333.3h.8v.8h-.8zM152.1 327.0h.8v.8h-.8zM143.3 329.8h.8v.8h-.8zM142.6 332.3h.8v.8h-.8zM144.4 335.1h.8v.8h-.8zM145.6 335.7h.8v.8h-.8zM148.1 335.9h.8v.8h-.8zM139.7 333.4h.8v.8h-.8zM141.2 329.0h.8v.8h-.8zM152.8 333.0h.8v.8h-.8zM143.3 324.6h.8v.8h-.8zM141.9 334.7h.8v.8h-.8zM142.0 330.1h.8v.8h-.8zM150.4 330.9h.8v.8h-.8zM141.4 331.6h.8v.8h-.8zM141.9 335.7h.8v.8h-.8zM145.9 331.8h.8v.8h-.8zM141.2 331.2h.8v.8h-.8zM151.5 330.9h.8v.8h-.8zM146.3 326.5h.8v.8h-.8zM144.7 334.4h.8v.8h-.8zM149.4 333.1h.8v.8h-.8zM145.9 333.1h.8v.8h-.8zM148.4 339.2h.8v.8h-.8zM144.1 329.1h.8v.8h-.8zM146.0 331.6h.8v.8h-.8zM146.2 334.7h.8v.8h-.8zM143.8 330.5h.8v.8h-.8zM144.6 327.6h.8v.8h-.8zM144.4 328.9h.8v.8h-.8zM145.3 332.4h.8v.8h-.8zM142.0 327.8h.8v.8h-.8zM143.3 329.6h.8v.8h-.8zM142.3 334.4h.8v.8h-.8zM147.8 327.5h.8v.8h-.8zM147.7 336.8h.8v.8h-.8zM148.7 333.0h.8v.8h-.8zM142.6 338.1h.8v.8h-.8zM141.5 326.6h.8v.8h-.8zM143.5 333.0h.8v.8h-.8zM137.9 327.7h.8v.8h-.8zM152.9 332.4h.8v.8h-.8zM146.9 330.0h.8v.8h-.8zM135.5 331.4h.8v.8h-.8zM149.7 329.7h.8v.8h-.8zM134.1 331.4h.8v.8h-.8zM141.7 332.1h.8v.8h-.8zM137.9 330.9h.8v.8h-.8zM140.3 335.1h.8v.8h-.8zM143.8 335.1h.8v.8h-.8zM142.8 324.5h.8v.8h-.8zM133.3 333.9h.8v.8h-.8zM147.4 335.1h.8v.8h-.8zM142.7 325.7h.8v.8h-.8zM140.6 333.4h.8v.8h-.8zM149.9 330.8h.8v.8h-.8zM140.3 329.3h.8v.8h-.8zM148.1 335.1h.8v.8h-.8zM134.0 336.3h.8v.8h-.8zM138.5 326.8h.8v.8h-.8zM135.1 329.4h.8v.8h-.8zM154.6 341.0h.8v.8h-.8zM136.9 329.6h.8v.8h-.8zM143.8 333.5h.8v.8h-.8zM140.7 326.4h.8v.8h-.8zM141.0 329.6h.8v.8h-.8zM134.1 332.5h.8v.8h-.8zM135.8 325.9h.8v.8h-.8zM150.6 335.3h.8v.8h-.8zM150.3 332.4h.8v.8h-.8zM141.0 331.7h.8v.8h-.8zM136.3 334.6h.8v.8h-.8zM144.4 330.9h.8v.8h-.8zM133.8 331.6h.8v.8h-.8zM151.2 337.1h.8v.8h-.8zM147.4 330.8h.8v.8h-.8zM143.7 334.0h.8v.8h-.8zM144.0 335.7h.8v.8h-.8zM139.7 323.8h.8v.8h-.8zM131.0 328.8h.8v.8h-.8zM136.2 334.3h.8v.8h-.8zM148.4 332.0h.8v.8h-.8zM145.7 332.3h.8v.8h-.8zM143.9 330.3h.8v.8h-.8zM141.0 336.2h.8v.8h-.8zM141.7 331.9h.8v.8h-.8zM149.0 335.5h.8v.8h-.8zM141.1 332.9h.8v.8h-.8zM138.0 332.5h.8v.8h-.8zM144.6 332.0h.8v.8h-.8zM143.9 333.3h.8v.8h-.8zM130.5 329.1h.8v.8h-.8zM143.4 330.3h.8v.8h-.8zM138.3 331.2h.8v.8h-.8zM151.1 331.2h.8v.8h-.8zM139.8 330.3h.8v.8h-.8zM137.1 333.7h.8v.8h-.8zM138.2 335.2h.8v.8h-.8zM147.6 334.0h.8v.8h-.8zM148.2 331.7h.8v.8h-.8zM134.3 331.8h.8v.8h-.8zM146.2 326.6h.8v.8h-.8zM137.0 335.9h.8v.8h-.8zM145.2 336.7h.8v.8h-.8zM146.4 332.2h.8v.8h-.8zM145.2 335.0h.8v.8h-.8zM142.9 331.3h.8v.8h-.8zM144.6 330.9h.8v.8h-.8zM155.1 329.3h.8v.8h-.8zM135.5 327.5h.8v.8h-.8zM148.3 330.6h.8v.8h-.8zM143.9 331.2h.8v.8h-.8zM144.4 326.9h.8v.8h-.8zM143.5 330.0h.8v.8h-.8zM148.5 334.2h.8v.8h-.8zM136.8 328.6h.8v.8h-.8zM145.9 336.2h.8v.8h-.8zM146.9 331.5h.8v.8h-.8zM148.6 323.7h.8v.8h-.8zM140.4 328.6h.8v.8h-.8zM137.9 334.0h.8v.8h-.8zM144.5 333.0h.8v.8h-.8zM142.4 334.2h.8v.8h-.8zM147.0 330.0h.8v.8h-.8zM147.7 328.7h.8v.8h-.8zM151.9 327.4h.8v.8h-.8zM141.6 328.2h.8v.8h-.8zM143.3 336.6h.8v.8h-.8zM139.3 338.3h.8v.8h-.8zM150.1 333.4h.8v.8h-.8zM140.1 335.2h.8v.8h-.8zM128.7 329.3h.8v.8h-.8zM147.9 331.9h.8v.8h-.8zM155.5 329.6h.8v.8h-.8zM136.4 331.2h.8v.8h-.8zM146.0 338.0h.8v.8h-.8zM134.2 332.6h.8v.8h-.8zM149.4 329.6h.8v.8h-.8zM140.8 327.7h.8v.8h-.8zM146.9 334.9h.8v.8h-.8zM146.0 332.9h.8v.8h-.8zM148.0 331.6h.8v.8h-.8zM146.7 334.9h.8v.8h-.8zM149.6 333.8h.8v.8h-.8zM143.5 334.5h.8v.8h-.8zM135.3 325.8h.8v.8h-.8zM151.2 332.5h.8v.8h-.8zM137.8 329.9h.8v.8h-.8zM142.3 332.3h.8v.8h-.8zM139.2 335.5h.8v.8h-.8zM134.5 341.9h.8v.8h-.8zM137.6 337.9h.8v.8h-.8zM146.4 326.1h.8v.8h-.8zM136.9 332.2h.8v.8h-.8zM144.4 330.5h.8v.8h-.8zM143.1 332.6h.8v.8h-.8zM137.3 332.2h.8v.8h-.8zM154.6 329.7h.8v.8h-.8zM137.9 334.3h.8v.8h-.8zM149.9 335.7h.8v.8h-.8zM139.9 331.7h.8v.8h-.8zM144.1 331.3h.8v.8h-.8zM145.1 335.8h.8v.8h-.8zM145.8 332.0h.8v.8h-.8zM142.0 338.3h.8v.8h-.8zM136.8 339.1h.8v.8h-.8zM146.8 332.3h.8v.8h-.8zM139.3 338.5h.8v.8h-.8zM149.2 335.2h.8v.8h-.8zM153.7 325.6h.8v.8h-.8zM143.6 330.9h.8v.8h-.8zM139.4 332.3h.8v.8h-.8zM145.8 333.9h.8v.8h-.8zM142.4 327.3h.8v.8h-.8zM145.9 334.2h.8v.8h-.8zM153.9 335.3h.8v.8h-.8zM143.2 327.9h.8v.8h-.8zM156.9 329.6h.8v.8h-.8zM144.1 334.7h.8v.8h-.8zM145.6 336.7h.8v.8h-.8zM137.8 329.6h.8v.8h-.8zM144.0 327.6h.8v.8h-.8zM139.9 336.9h.8v.8h-.8zM144.6 331.6h.8v.8h-.8zM140.2 332.2h.8v.8h-.8zM142.9 328.2h.8v.8h-.8zM147.1 327.5h.8v.8h-.8zM149.6 330.8h.8v.8h-.8zM131.4 326.5h.8v.8h-.8zM144.5 328.9h.8v.8h-.8zM152.3 336.9h.8v.8h-.8zM153.9 335.2h.8v.8h-.8zM150.0 329.8h.8v.8h-.8zM149.7 330.4h.8v.8h-.8zM142.8 327.2h.8v.8h-.8zM143.4 333.4h.8v.8h-.8zM142.8 328.1h.8v.8h-.8zM147.7 335.3h.8v.8h-.8zM142.6 334.8h.8v.8h-.8zM148.1 328.5h.8v.8h-.8zM142.9 325.4h.8v.8h-.8zM137.7 333.5h.8v.8h-.8zM138.5 333.4h.8v.8h-.8zM144.9 324.6h.8v.8h-.8zM140.6 337.4h.8v.8h-.8zM143.1 332.4h.8v.8h-.8zM139.4 326.3h.8v.8h-.8zM134.9 342.3h.8v.8h-.8zM142.1 328.9h.8v.8h-.8zM143.6 325.1h.8v.8h-.8zM150.3 338.1h.8v.8h-.8zM139.2 333.2h.8v.8h-.8zM138.4 335.1h.8v.8h-.8zM138.7 331.5h.8v.8h-.8zM149.8 333.9h.8v.8h-.8zM141.4 326.6h.8v.8h-.8zM134.8 336.3h.8v.8h-.8zM145.7 332.2h.8v.8h-.8zM149.6 332.5h.8v.8h-.8zM139.3 331.6h.8v.8h-.8zM142.6 332.0h.8v.8h-.8zM156.0 334.1h.8v.8h-.8zM144.5 331.1h.8v.8h-.8zM139.5 328.4h.8v.8h-.8zM133.3 330.4h.8v.8h-.8zM135.2 325.4h.8v.8h-.8zM138.2 324.7h.8v.8h-.8zM150.2 336.5h.8v.8h-.8zM138.0 339.3h.8v.8h-.8zM146.5 322.9h.8v.8h-.8zM143.2 328.4h.8v.8h-.8zM134.0 331.1h.8v.8h-.8zM149.0 333.6h.8v.8h-.8zM135.5 329.6h.8v.8h-.8zM139.1 336.1h.8v.8h-.8zM142.6 328.5h.8v.8h-.8zM138.3 324.9h.8v.8h-.8zM138.7 335.2h.8v.8h-.8zM133.1 332.7h.8v.8h-.8zM142.5 334.9h.8v.8h-.8zM137.1 335.3h.8v.8h-.8zM151.1 340.2h.8v.8h-.8zM134.6 331.9h.8v.8h-.8zM142.0 332.4h.8v.8h-.8zM137.9 335.1h.8v.8h-.8zM155.3 337.4h.8v.8h-.8zM138.1 329.9h.8v.8h-.8zM146.8 332.5h.8v.8h-.8zM139.1 336.4h.8v.8h-.8zM145.7 335.7h.8v.8h-.8zM142.1 336.6h.8v.8h-.8zM140.6 328.0h.8v.8h-.8zM143.0 327.0h.8v.8h-.8zM149.6 334.6h.8v.8h-.8zM134.3 332.6h.8v.8h-.8zM147.5 330.7h.8v.8h-.8zM145.2 329.9h.8v.8h-.8zM142.7 331.7h.8v.8h-.8zM145.6 328.5h.8v.8h-.8zM137.1 333.2h.8v.8h-.8zM140.4 333.9h.8v.8h-.8zM140.4 327.3h.8v.8h-.8zM146.9 333.0h.8v.8h-.8zM146.9 330.8h.8v.8h-.8zM141.2 336.6h.8v.8h-.8zM134.2 338.3h.8v.8h-.8zM145.7 331.8h.8v.8h-.8zM143.5 334.2h.8v.8h-.8zM139.0 333.0h.8v.8h-.8zM138.0 325.3h.8v.8h-.8zM144.1 332.4h.8v.8h-.8zM146.4 334.0h.8v.8h-.8zM146.7 334.9h.8v.8h-.8zM137.5 336.4h.8v.8h-.8zM157.0 330.0h.8v.8h-.8zM136.4 334.5h.8v.8h-.8zM147.8 335.7h.8v.8h-.8zM151.0 327.0h.8v.8h-.8zM145.0 333.7h.8v.8h-.8zM149.6 328.8h.8v.8h-.8zM143.2 330.7h.8v.8h-.8zM142.2 331.5h.8v.8h-.8zM142.2 325.6h.8v.8h-.8zM142.8 332.2h.8v.8h-.8zM141.0 319.2h.8v.8h-.8zM139.4 329.6h.8v.8h-.8zM138.5 337.8h.8v.8h-.8zM147.9 331.3h.8v.8h-.8zM146.2 343.9h.8v.8h-.8zM138.0 333.7h.8v.8h-.8zM139.9 337.4h.8v.8h-.8zM148.8 331.6h.8v.8h-.8zM146.2 329.1h.8v.8h-.8zM134.7 335.0h.8v.8h-.8zM151.6 330.9h.8v.8h-.8zM140.3 325.5h.8v.8h-.8zM154.3 327.7h.8v.8h-.8zM138.0 331.3h.8v.8h-.8zM149.4 332.2h.8v.8h-.8zM142.9 332.1h.8v.8h-.8zM147.5 331.9h.8v.8h-.8zM143.8 331.7h.8v.8h-.8zM137.2 336.9h.8v.8h-.8zM139.4 327.2h.8v.8h-.8zM140.7 332.1h.8v.8h-.8zM147.3 326.7h.8v.8h-.8zM136.4 332.6h.8v.8h-.8zM145.0 328.0h.8v.8h-.8zM137.1 332.6h.8v.8h-.8zM142.3 326.2h.8v.8h-.8zM138.4 337.4h.8v.8h-.8zM137.5 335.8h.8v.8h-.8zM135.0 337.4h.8v.8h-.8zM151.4 329.7h.8v.8h-.8zM139.4 334.3h.8v.8h-.8zM136.5 334.0h.8v.8h-.8zM149.4 333.0h.8v.8h-.8zM144.7 331.4h.8v.8h-.8zM148.3 329.0h.8v.8h-.8zM151.3 331.9h.8v.8h-.8zM141.3 326.1h.8v.8h-.8zM140.7 332.9h.8v.8h-.8zM149.5 326.2h.8v.8h-.8zM142.3 329.5h.8v.8h-.8zM136.7 332.0h.8v.8h-.8zM139.0 335.1h.8v.8h-.8zM128.9 334.7h.8v.8h-.8zM133.1 325.0h.8v.8h-.8zM145.7 330.8h.8v.8h-.8zM143.7 328.5h.8v.8h-.8zM137.5 329.3h.8v.8h-.8zM142.7 329.0h.8v.8h-.8zM140.8 328.9h.8v.8h-.8zM144.2 327.9h.8v.8h-.8zM132.1 322.5h.8v.8h-.8zM142.9 332.3h.8v.8h-.8zM148.0 329.3h.8v.8h-.8zM137.0 326.6h.8v.8h-.8zM147.0 329.7h.8v.8h-.8zM148.2 331.7h.8v.8h-.8zM141.6 325.3h.8v.8h-.8zM139.5 334.9h.8v.8h-.8zM139.8 334.5h.8v.8h-.8zM134.4 335.7h.8v.8h-.8zM157.5 336.0h.8v.8h-.8zM144.7 327.5h.8v.8h-.8zM140.3 329.6h.8v.8h-.8zM144.0 324.7h.8v.8h-.8zM138.5 334.9h.8v.8h-.8zM143.8 334.7h.8v.8h-.8zM147.5 327.9h.8v.8h-.8zM136.0 333.7h.8v.8h-.8zM143.2 332.3h.8v.8h-.8zM138.8 335.7h.8v.8h-.8zM145.6 336.1h.8v.8h-.8zM141.2 334.5h.8v.8h-.8zM142.7 328.6h.8v.8h-.8zM142.6 326.0h.8v.8h-.8zM142.1 332.6h.8v.8h-.8zM146.6 328.2h.8v.8h-.8zM136.1 329.4h.8v.8h-.8zM132.2 329.6h.8v.8h-.8zM156.7 332.5h.8v.8h-.8zM139.0 329.5h.8v.8h-.8zM152.2 327.8h.8v.8h-.8zM142.4 331.7h.8v.8h-.8zM139.2 329.4h.8v.8h-.8zM134.2 329.0h.8v.8h-.8zM149.8 337.1h.8v.8h-.8zM141.5 334.5h.8v.8h-.8zM145.4 332.4h.8v.8h-.8zM142.3 336.4h.8v.8h-.8zM146.0 331.2h.8v.8h-.8zM141.8 335.4h.8v.8h-.8zM139.9 329.4h.8v.8h-.8zM141.6 330.2h.8v.8h-.8zM149.6 333.3h.8v.8h-.8zM142.5 330.1h.8v.8h-.8zM150.4 333.6h.8v.8h-.8zM153.9 335.3h.8v.8h-.8zM141.9 330.0h.8v.8h-.8zM141.5 332.7h.8v.8h-.8zM147.1 333.8h.8v.8h-.8zM151.2 326.5h.8v.8h-.8zM143.1 326.9h.8v.8h-.8zM137.6 329.8h.8v.8h-.8zM139.6 328.5h.8v.8h-.8zM135.1 336.1h.8v.8h-.8zM141.3 335.5h.8v.8h-.8zM137.2 323.6h.8v.8h-.8zM139.9 335.2h.8v.8h-.8zM140.1 333.4h.8v.8h-.8zM137.4 337.0h.8v.8h-.8zM145.3 335.8h.8v.8h-.8zM141.6 336.6h.8v.8h-.8zM143.4 330.2h.8v.8h-.8zM139.7 332.2h.8v.8h-.8zM138.3 327.7h.8v.8h-.8zM143.7 334.6h.8v.8h-.8zM141.5 335.0h.8v.8h-.8zM151.3 327.4h.8v.8h-.8zM144.3 328.5h.8v.8h-.8zM139.6 332.6h.8v.8h-.8zM130.6 334.2h.8v.8h-.8zM147.4 334.0h.8v.8h-.8zM146.4 338.5h.8v.8h-.8zM141.1 335.9h.8v.8h-.8zM150.5 333.8h.8v.8h-.8zM133.7 331.4h.8v.8h-.8zM141.5 326.2h.8v.8h-.8zM142.7 334.7h.8v.8h-.8zM141.6 331.3h.8v.8h-.8zM150.7 329.8h.8v.8h-.8zM138.1 332.1h.8v.8h-.8zM148.8 334.1h.8v.8h-.8zM143.4 330.2h.8v.8h-.8zM149.4 335.2h.8v.8h-.8zM134.0 333.2h.8v.8h-.8zM130.5 337.4h.8v.8h-.8zM146.2 329.7h.8v.8h-.8zM136.3 330.9h.8v.8h-.8zM133.9 334.0h.8v.8h-.8zM140.3 325.6h.8v.8h-.8zM142.9 336.3h.8v.8h-.8zM136.4 330.7h.8v.8h-.8zM152.5 332.7h.8v.8h-.8zM140.1 332.7h.8v.8h-.8zM147.1 328.4h.8v.8h-.8zM142.5 326.1h.8v.8h-.8zM134.7 326.4h.8v.8h-.8zM147.4 333.1h.8v.8h-.8zM146.8 336.4h.8v.8h-.8zM143.2 332.8h.8v.8h-.8zM145.1 333.7h.8v.8h-.8zM137.4 331.0h.8v.8h-.8zM142.2 332.1h.8v.8h-.8zM139.1 331.5h.8v.8h-.8zM144.5 332.7h.8v.8h-.8zM146.1 335.0h.8v.8h-.8zM145.9 335.5h.8v.8h-.8zM147.4 337.0h.8v.8h-.8zM146.3 329.8h.8v.8h-.8zM155.1 336.1h.8v.8h-.8zM149.5 334.6h.8v.8h-.8zM143.2 327.9h.8v.8h-.8zM145.3 330.7h.8v.8h-.8zM140.9 324.3h.8v.8h-.8zM151.1 327.8h.8v.8h-.8zM137.3 333.7h.8v.8h-.8zM146.0 329.1h.8v.8h-.8zM143.0 332.9h.8v.8h-.8zM143.8 333.9h.8v.8h-.8zM147.0 330.7h.8v.8h-.8zM134.5 339.8h.8v.8h-.8zM141.0 328.4h.8v.8h-.8zM146.9 334.1h.8v.8h-.8zM139.8 340.5h.8v.8h-.8zM130.7 336.6h.8v.8h-.8zM142.8 333.1h.8v.8h-.8zM144.7 331.2h.8v.8h-.8zM144.7 327.3h.8v.8h-.8zM140.9 338.7h.8v.8h-.8zM129.5 336.4h.8v.8h-.8zM131.3 328.9h.8v.8h-.8zM147.6 330.5h.8v.8h-.8zM140.0 326.6h.8v.8h-.8zM142.4 331.4h.8v.8h-.8zM139.7 326.4h.8v.8h-.8zM143.8 333.5h.8v.8h-.8zM148.9 333.9h.8v.8h-.8zM150.9 336.3h.8v.8h-.8zM128.3 338.0h.8v.8h-.8zM142.4 328.2h.8v.8h-.8zM145.3 335.5h.8v.8h-.8zM134.9 327.5h.8v.8h-.8zM146.6 330.0h.8v.8h-.8zM150.6 332.8h.8v.8h-.8zM140.1 327.2h.8v.8h-.8zM146.1 325.8h.8v.8h-.8zM136.2 327.3h.8v.8h-.8zM151.9 338.2h.8v.8h-.8zM141.8 330.6h.8v.8h-.8zM146.7 336.5h.8v.8h-.8zM138.8 339.9h.8v.8h-.8zM141.9 336.1h.8v.8h-.8zM130.7 331.8h.8v.8h-.8zM139.4 339.2h.8v.8h-.8zM141.9 327.4h.8v.8h-.8zM153.2 329.5h.8v.8h-.8zM143.0 327.5h.8v.8h-.8zM146.5 332.7h.8v.8h-.8zM141.5 330.5h.8v.8h-.8zM140.0 329.4h.8v.8h-.8zM135.6 336.4h.8v.8h-.8zM147.7 327.0h.8v.8h-.8zM136.9 333.5h.8v.8h-.8zM154.8 331.3h.8v.8h-.8zM141.4 331.1h.8v.8h-.8zM144.3 331.4h.8v.8h-.8zM148.7 335.5h.8v.8h-.8zM145.9 337.7h.8v.8h-.8zM141.8 330.0h.8v.8h-.8zM158.5 325.0h.8v.8h-.8zM134.9 323.5h.8v.8h-.8zM144.9 328.1h.8v.8h-.8zM148.5 324.4h.8v.8h-.8zM142.3 330.6h.8v.8h-.8zM137.4 336.0h.8v.8h-.8zM140.9 333.6h.8v.8h-.8zM140.2 332.5h.8v.8h-.8zM140.7 332.3h.8v.8h-.8zM142.5 329.5h.8v.8h-.8zM145.3 331.3h.8v.8h-.8zM137.9 328.2h.8v.8h-.8zM145.3 336.8h.8v.8h-.8zM136.1 330.5h.8v.8h-.8zM145.3 335.8h.8v.8h-.8zM146.7 327.7h.8v.8h-.8zM143.2 335.2h.8v.8h-.8zM144.2 331.2h.8v.8h-.8zM136.8 332.6h.8v.8h-.8zM142.7 332.1h.8v.8h-.8zM150.8 336.3h.8v.8h-.8zM138.9 332.8h.8v.8h-.8zM141.4 332.4h.8v.8h-.8zM151.5 335.3h.8v.8h-.8zM143.2 329.6h.8v.8h-.8zM142.1 333.3h.8v.8h-.8zM140.4 336.0h.8v.8h-.8zM143.1 327.7h.8v.8h-.8zM153.7 321.5h.8v.8h-.8zM141.6 331.6h.8v.8h-.8zM148.2 336.0h.8v.8h-.8zM150.6 337.6h.8v.8h-.8zM144.7 332.4h.8v.8h-.8zM148.3 331.9h.8v.8h-.8zM136.4 330.4h.8v.8h-.8zM146.5 334.2h.8v.8h-.8zM137.2 336.3h.8v.8h-.8zM144.6 326.6h.8v.8h-.8zM145.4 335.6h.8v.8h-.8zM145.8 330.9h.8v.8h-.8zM138.8 336.0h.8v.8h-.8zM144.2 332.0h.8v.8h-.8zM140.9 328.3h.8v.8h-.8zM133.2 330.8h.8v.8h-.8zM148.8 334.8h.8v.8h-.8zM139.4 337.5h.8v.8h-.8zM141.8 328.4h.8v.8h-.8zM148.1 337.0h.8v.8h-.8zM141.0 327.6h.8v.8h-.8zM142.7 323.2h.8v.8h-.8zM143.3 337.5h.8v.8h-.8zM144.4 329.3h.8v.8h-.8zM146.7 330.2h.8v.8h-.8zM149.6 330.7h.8v.8h-.8zM153.6 330.7h.8v.8h-.8zM144.0 328.6h.8v.8h-.8zM136.3 333.2h.8v.8h-.8zM144.8 328.5h.8v.8h-.8zM145.9 330.5h.8v.8h-.8zM140.1 331.7h.8v.8h-.8zM145.1 334.6h.8v.8h-.8zM149.5 333.4h.8v.8h-.8zM139.2 329.5h.8v.8h-.8zM144.9 327.7h.8v.8h-.8zM142.1 330.6h.8v.8h-.8zM142.5 332.7h.8v.8h-.8zM148.4 337.9h.8v.8h-.8zM147.6 335.6h.8v.8h-.8zM137.4 335.7h.8v.8h-.8zM149.8 327.1h.8v.8h-.8zM156.2 330.0h.8v.8h-.8zM130.6 338.4h.8v.8h-.8zM143.3 329.1h.8v.8h-.8zM140.0 335.9h.8v.8h-.8zM144.3 330.6h.8v.8h-.8zM149.0 328.6h.8v.8h-.8zM138.6 330.0h.8v.8h-.8zM139.1 334.5h.8v.8h-.8zM141.8 328.2h.8v.8h-.8zM140.6 324.8h.8v.8h-.8zM143.9 332.4h.8v.8h-.8zM146.2 331.1h.8v.8h-.8zM145.1 328.6h.8v.8h-.8zM143.1 332.6h.8v.8h-.8zM136.7 334.1h.8v.8h-.8zM143.7 332.2h.8v.8h-.8zM140.5 339.2h.8v.8h-.8zM143.0 329.2h.8v.8h-.8zM138.6 334.1h.8v.8h-.8zM141.9 329.2h.8v.8h-.8zM139.2 335.4h.8v.8h-.8zM143.4 335.8h.8v.8h-.8zM142.9 327.7h.8v.8h-.8zM147.5 333.1h.8v.8h-.8zM139.6 330.9h.8v.8h-.8zM137.9 335.0h.8v.8h-.8zM140.8 333.7h.8v.8h-.8zM144.4 331.1h.8v.8h-.8zM144.9 331.1h.8v.8h-.8zM136.8 330.5h.8v.8h-.8zM136.9 334.7h.8v.8h-.8zM146.4 329.9h.8v.8h-.8zM146.2 332.9h.8v.8h-.8zM148.1 328.6h.8v.8h-.8zM143.1 328.4h.8v.8h-.8zM139.4 336.9h.8v.8h-.8zM132.5 328.7h.8v.8h-.8zM145.5 334.8h.8v.8h-.8zM138.9 324.7h.8v.8h-.8zM134.0 333.3h.8v.8h-.8zM148.7 335.3h.8v.8h-.8zM139.2 336.9h.8v.8h-.8zM142.0 334.2h.8v.8h-.8zM142.0 337.7h.8v.8h-.8zM140.3 324.3h.8v.8h-.8zM141.4 332.7h.8v.8h-.8zM144.4 329.4h.8v.8h-.8zM141.8 327.9h.8v.8h-.8zM141.8 332.3h.8v.8h-.8zM144.3 337.9h.8v.8h-.8zM132.6 333.9h.8v.8h-.8zM145.2 327.8h.8v.8h-.8zM143.4 332.0h.8v.8h-.8zM137.8 334.6h.8v.8h-.8zM152.9 334.4h.8v.8h-.8zM147.0 335.8h.8v.8h-.8zM142.3 335.5h.8v.8h-.8zM138.8 332.6h.8v.8h-.8zM146.7 336.7h.8v.8h-.8zM141.5 330.9h.8v.8h-.8zM145.4 331.7h.8v.8h-.8zM143.7 334.9h.8v.8h-.8zM139.0 335.1h.8v.8h-.8zM145.0 331.0h.8v.8h-.8zM136.5 329.7h.8v.8h-.8zM142.8 335.4h.8v.8h-.8zM132.8 334.6h.8v.8h-.8zM144.0 327.9h.8v.8h-.8zM147.4 333.4h.8v.8h-.8zM145.3 328.5h.8v.8h-.8zM137.3 335.3h.8v.8h-.8zM150.3 333.3h.8v.8h-.8zM142.0 330.4h.8v.8h-.8zM134.1 335.5h.8v.8h-.8zM142.5 336.4h.8v.8h-.8zM139.3 335.8h.8v.8h-.8zM139.3 334.1h.8v.8h-.8zM150.1 329.5h.8v.8h-.8zM147.7 332.0h.8v.8h-.8zM138.1 332.7h.8v.8h-.8zM146.3 329.4h.8v.8h-.8zM141.6 330.0h.8v.8h-.8zM139.0 331.2h.8v.8h-.8zM147.3 330.2h.8v.8h-.8zM149.4 330.6h.8v.8h-.8zM139.4 335.8h.8v.8h-.8zM150.3 329.7h.8v.8h-.8zM146.0 327.8h.8v.8h-.8zM140.9 330.7h.8v.8h-.8zM146.7 327.5h.8v.8h-.8zM140.4 329.5h.8v.8h-.8zM143.5 327.6h.8v.8h-.8zM136.1 342.1h.8v.8h-.8zM144.1 326.6h.8v.8h-.8zM147.3 327.3h.8v.8h-.8zM133.3 338.0h.8v.8h-.8zM149.4 329.0h.8v.8h-.8zM137.4 333.7h.8v.8h-.8zM153.5 334.1h.8v.8h-.8zM146.4 327.8h.8v.8h-.8zM133.8 333.4h.8v.8h-.8zM148.2 332.5h.8v.8h-.8zM143.0 336.9h.8v.8h-.8zM138.7 335.9h.8v.8h-.8zM147.3 329.8h.8v.8h-.8zM143.6 332.4h.8v.8h-.8zM146.0 328.5h.8v.8h-.8zM141.8 332.3h.8v.8h-.8zM143.1 332.1h.8v.8h-.8zM144.3 331.3h.8v.8h-.8zM140.4 335.7h.8v.8h-.8zM139.7 330.9h.8v.8h-.8zM138.5 327.9h.8v.8h-.8zM145.3 331.8h.8v.8h-.8zM142.3 333.6h.8v.8h-.8zM142.1 334.4h.8v.8h-.8zM152.3 333.2h.8v.8h-.8zM141.6 337.9h.8v.8h-.8zM146.6 326.1h.8v.8h-.8zM149.8 332.7h.8v.8h-.8zM147.4 327.9h.8v.8h-.8zM138.7 329.7h.8v.8h-.8zM145.8 328.0h.8v.8h-.8zM139.4 335.4h.8v.8h-.8zM139.7 332.4h.8v.8h-.8zM138.4 326.0h.8v.8h-.8zM142.6 331.6h.8v.8h-.8zM135.7 335.4h.8v.8h-.8zM147.2 335.1h.8v.8h-.8zM140.4 327.9h.8v.8h-.8zM142.5 332.6h.8v.8h-.8zM142.1 329.9h.8v.8h-.8zM137.9 329.4h.8v.8h-.8zM142.6 330.3h.8v.8h-.8zM151.5 331.0h.8v.8h-.8zM145.3 330.4h.8v.8h-.8zM142.1 328.6h.8v.8h-.8zM140.5 326.7h.8v.8h-.8zM132.4 336.7h.8v.8h-.8zM137.6 333.5h.8v.8h-.8zM142.4 330.0h.8v.8h-.8zM146.7 330.0h.8v.8h-.8zM145.2 330.7h.8v.8h-.8zM147.9 335.4h.8v.8h-.8zM143.3 335.9h.8v.8h-.8zM145.6 337.5h.8v.8h-.8zM142.4 326.5h.8v.8h-.8zM144.1 332.8h.8v.8h-.8zM141.1 331.3h.8v.8h-.8zM141.6 327.6h.8v.8h-.8z" fill="#3440b0" fill-opacity="0.6"/>
<rect x="103.6" y="303.6" width="67.9" height="65.7" fill="none" stroke="#9a9a9a" stroke-width="0.8"/>
<path d="M103.8 304V369.3H171.5" fill="none" stroke="#444" stroke-width="1" stroke-dasharray="1 1"/>
<path d="M98.4 301.4l2 1.2M98.4 327.6l2 1.2M98 353.6l2 1.2M117.6 373l1.8 -.8M143.2 373l1.8 -.8M169.8 373l1.8 -.8" stroke="#555" stroke-width="1.1"/>
<rect x="137.1" y="314.6" width="23" height="41.8" fill="none" stroke="#7a7a7a" stroke-width="0.8"/>
<path d="M143.2 314.6V356.4" stroke="#333" stroke-width="1.3"/>
<path d="M126.6 314.8L138.6 321.6M154.9 352.6L156.8 357.4" stroke="#222" stroke-width="0.8"/>
<text x="121.8" y="300.5" font-family='"Liberation Sans", sans-serif' font-weight="bold" font-style="italic" font-size="10.2" letter-spacing="-0.45" fill="#111">B-cells</text>
<text x="107.5" y="312.7" font-family='"Liberation Sans", sans-serif' font-weight="bold" font-style="italic" font-size="8.8" fill="#111">CD20int</text>
<text x="141.6" y="366" font-family='"Liberation Sans", sans-serif' font-weight="bold" font-style="italic" font-size="9.1" fill="#111">CD20hi</text>
<text transform="translate(92.6,336.7) rotate(-90)" text-anchor="middle" font-family='"Liberation Sans", sans-serif' font-size="8.4" fill="#151515">IgM (APC)</text>
<text x="140.4" y="385.2" text-anchor="middle" font-family='"Liberation Sans", sans-serif' font-size="8.6" fill="#151515">CD20 (FITC)</text>
<path d="M145.4 308.3C156 308 167 307.6 175 314.5C181 320 185 325 191 326.2C194 326.8 196.5 326.9 198.8 326.9" fill="none" stroke="#5c5c5c" stroke-width="1.15"/>
<path d="M195.2 324.3L199.2 326.9L195.2 329.4" fill="none" stroke="#5c5c5c" stroke-width="1.15"/>
<path d="M173.5 361.1C186 361 195 370 205 377.8C214 385 226 388 232.5 381C235.5 377.5 236.8 373 236.7 368.6" fill="none" stroke="#5c5c5c" stroke-width="1.15"/>
<path d="M234 372L236.7 368.2L239.4 372" fill="none" stroke="#5c5c5c" stroke-width="1.15"/>
<path d="M208.3 303.2V357.2H262.6" fill="none" stroke="#111" stroke-width="2.8"/>
<text x="269.6" y="299" font-family='"Liberation Sans", sans-serif' font-weight="bold" font-style="italic" font-size="13.3" fill="#111">Key</text>
<ellipse cx="288.3" cy="316.6" rx="4.4" ry="4.0" fill="#3d46a2" stroke="#10123e" stroke-width="1.2"/>
<text x="295.1" y="319.7" font-family='"Liberation Sans", sans-serif' font-size="8.65" fill="#1c1c1c">CD20int only</text>
<ellipse cx="288.3" cy="332.9" rx="4.4" ry="4.0" fill="#8c3c9c" stroke="#2e0a32" stroke-width="1.2"/>
<text x="295.1" y="336.0" font-family='"Liberation Sans", sans-serif' font-size="8.65" fill="#1c1c1c">CD20int enriched</text>
<ellipse cx="288.3" cy="348" rx="4.4" ry="4.0" fill="#5a9a5a" stroke="#0a220a" stroke-width="1.2"/>
<text x="295.1" y="351.1" font-family='"Liberation Sans", sans-serif' font-size="8.65" fill="#1c1c1c">Approx. equal</text>
<ellipse cx="288.3" cy="364.6" rx="4.4" ry="4.0" fill="#f0a452" stroke="#321a02" stroke-width="1.2"/>
<text x="295.1" y="367.7" font-family='"Liberation Sans", sans-serif' font-size="8.65" fill="#1c1c1c">CD20hi enriched</text>
<ellipse cx="288.3" cy="380" rx="4.4" ry="4.0" fill="#d04c52" stroke="#420a10" stroke-width="1.2"/>
<text x="295.1" y="383.1" font-family='"Liberation Sans", sans-serif' font-size="8.65" fill="#1c1c1c">CD20hi only</text>
<text x="373.7" y="320.0" font-family='"Liberation Sans", sans-serif' font-size="8.65" fill="#1c1c1c"><tspan font-weight="bold">A:</tspan> CREBBP</text>
<text x="438.4" y="320.0" font-family='"Liberation Sans", sans-serif' font-size="8.65" fill="#1c1c1c"><tspan font-weight="bold">F:</tspan> CD40</text>
<text x="373.7" y="336.0" font-family='"Liberation Sans", sans-serif' font-size="8.65" fill="#1c1c1c"><tspan font-weight="bold">B:</tspan> MLL2</text>
<text x="438.4" y="336.0" font-family='"Liberation Sans", sans-serif' font-size="8.65" fill="#1c1c1c"><tspan font-weight="bold">G:</tspan> BCL2</text>
<text x="373.7" y="350.8" font-family='"Liberation Sans", sans-serif' font-size="8.65" fill="#1c1c1c"><tspan font-weight="bold">C:</tspan> ERBB2</text>
<text x="438.4" y="350.8" font-family='"Liberation Sans", sans-serif' font-size="8.65" fill="#1c1c1c"><tspan font-weight="bold">H:</tspan> TP53</text>
<text x="373.7" y="367.7" font-family='"Liberation Sans", sans-serif' font-size="8.65" fill="#1c1c1c"><tspan font-weight="bold">D:</tspan> TNFRSF14</text>
<text x="438.4" y="367.7" font-family='"Liberation Sans", sans-serif' font-size="8.65" fill="#1c1c1c"><tspan font-weight="bold">I:</tspan> TLR1</text>
<text x="373.7" y="383.1" font-family='"Liberation Sans", sans-serif' font-size="8.65" fill="#1c1c1c"><tspan font-weight="bold">E:</tspan> IKZF2</text>
<text x="438.4" y="383.1" font-family='"Liberation Sans", sans-serif' font-size="8.65" fill="#1c1c1c"><tspan font-weight="bold">J:</tspan> NOTCH1</text>
</svg>
</body></html>
